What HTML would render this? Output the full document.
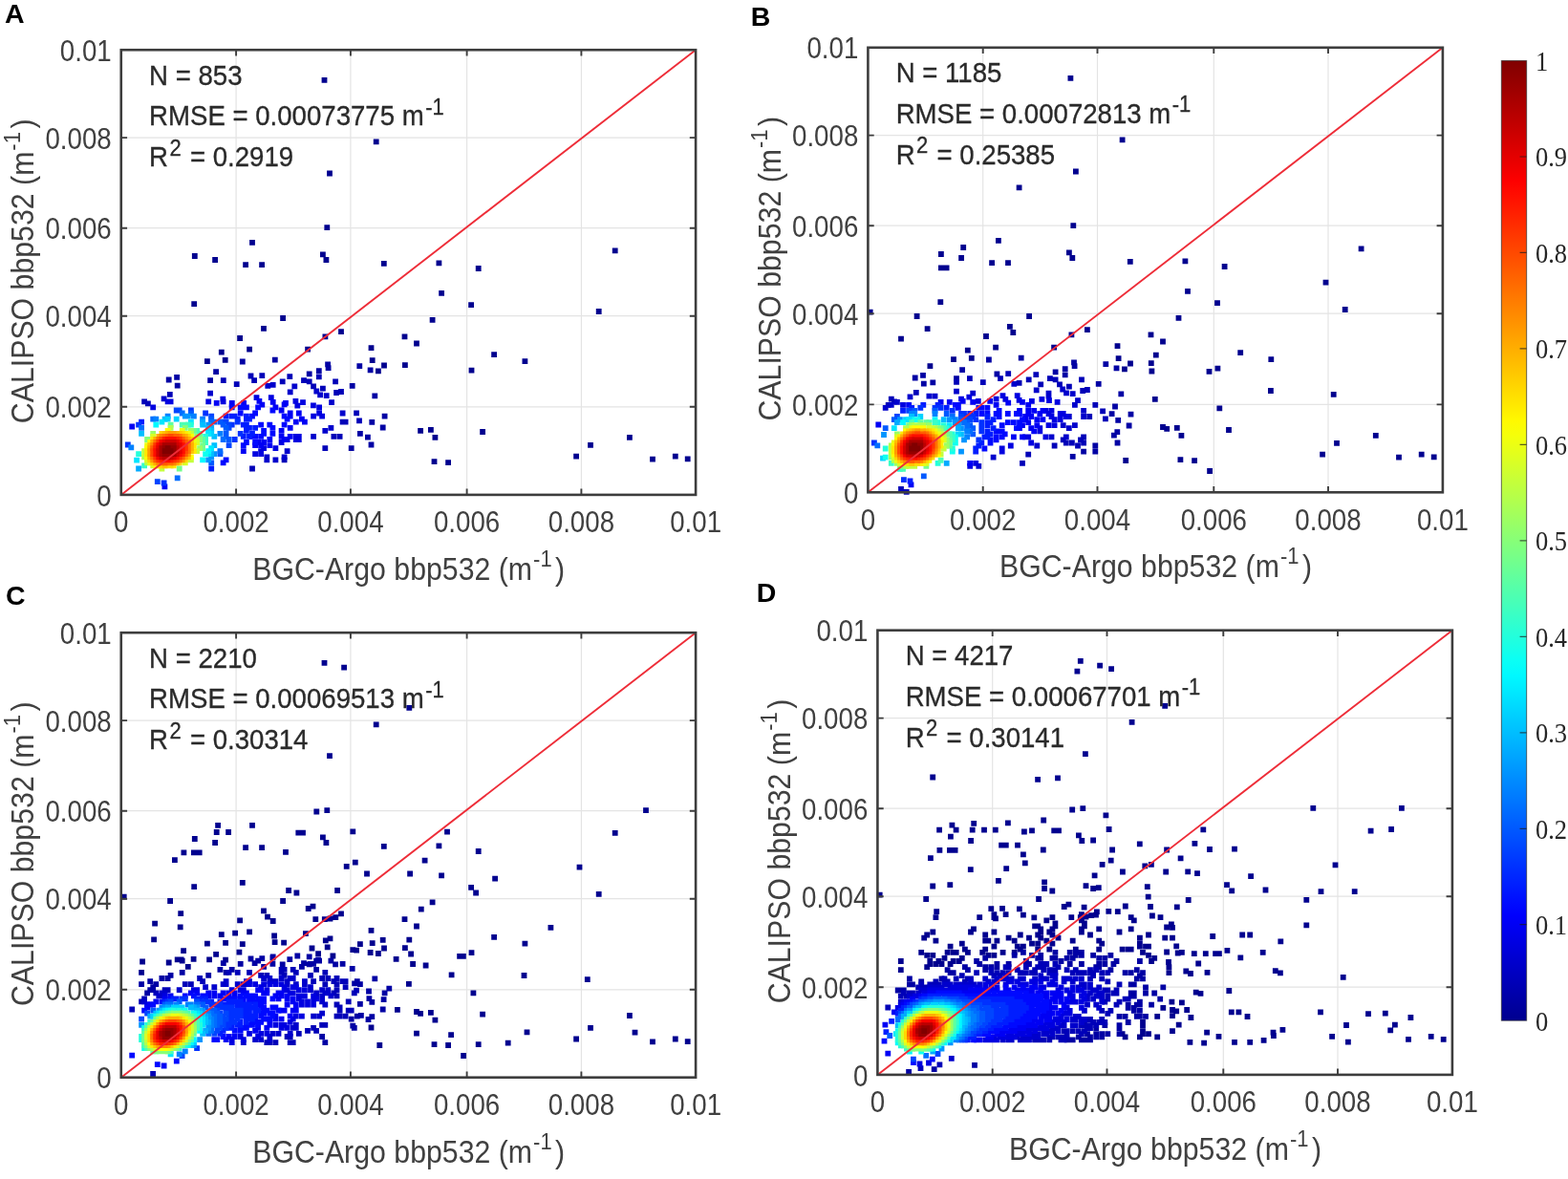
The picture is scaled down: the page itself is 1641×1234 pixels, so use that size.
<!DOCTYPE html>
<html lang="en">
<head>
<meta charset="utf-8">
<title>CALIPSO vs BGC-Argo bbp532</title>
<style>
html,body{margin:0;padding:0;background:#fff;}
body{width:1641px;height:1234px;overflow:hidden;}
svg{display:block;font-family:"Liberation Sans", sans-serif;filter:blur(0.55px);}
.pts path{shape-rendering:auto;}
</style>
</head>
<body>

<svg width="1641" height="1234" viewBox="0 0 1641 1234">
<rect width="1641" height="1234" fill="#fff"/>
<g id="panelA">
<path d="M247.1 52.2V517.9M126.8 425.8H728.1M366.9 52.2V517.9M126.8 330.7H728.1M488.6 52.2V517.9M126.8 238.7H728.1M608.4 52.2V517.9M126.8 144.1H728.1" stroke="#e4e4e4" stroke-width="1.2" fill="none"/>
<g class="pts">
<path d="M336.6 80.9h5.8v5.8h-5.8zM390.8 145.4h5.8v5.8h-5.8zM342.1 178.6h5.8v5.8h-5.8zM716.8 477.5h5.8v5.8h-5.8zM640.8 259.4h5.8v5.8h-5.8zM703.9 474.8h5.8v5.8h-5.8zM339.4 235.3h5.8v5.8h-5.8zM680.1 477.8h5.8v5.8h-5.8zM261.1 250.9h5.8v5.8h-5.8zM200.9 265.1h5.8v5.8h-5.8zM222.2 269.1h5.8v5.8h-5.8zM656.0 455.0h5.8v5.8h-5.8zM335.0 263.4h5.8v5.8h-5.8zM254.2 274.3h5.8v5.8h-5.8zM623.8 323.1h5.8v5.8h-5.8zM271.2 274.3h5.8v5.8h-5.8zM338.5 269.1h5.8v5.8h-5.8zM456.5 272.4h5.8v5.8h-5.8zM497.8 278.1h5.8v5.8h-5.8zM398.9 272.9h5.8v5.8h-5.8zM615.1 463.0h5.8v5.8h-5.8zM600.2 474.8h5.8v5.8h-5.8zM459.2 303.9h5.8v5.8h-5.8zM200.3 315.3h5.8v5.8h-5.8zM490.2 316.3h5.8v5.8h-5.8zM546.5 375.2h5.8v5.8h-5.8zM449.7 331.9h5.8v5.8h-5.8zM514.2 368.2h5.8v5.8h-5.8zM293.2 330.1h5.8v5.8h-5.8zM466.2 481.3h5.8v5.8h-5.8zM502.2 449.1h5.8v5.8h-5.8zM451.6 480.3h5.8v5.8h-5.8zM490.6 384.7h5.8v5.8h-5.8zM273.1 341.0h5.8v5.8h-5.8zM420.6 349.5h5.8v5.8h-5.8zM433.1 356.6h5.8v5.8h-5.8zM354.1 344.2h5.8v5.8h-5.8zM248.2 351.1h5.8v5.8h-5.8zM337.5 349.5h5.8v5.8h-5.8zM452.5 455.0h5.8v5.8h-5.8zM385.6 361.3h5.8v5.8h-5.8zM448.0 447.0h5.8v5.8h-5.8zM228.9 365.7h5.8v5.8h-5.8zM421.0 379.2h5.8v5.8h-5.8zM437.2 448.0h5.8v5.8h-5.8zM258.2 362.8h5.8v5.8h-5.8zM319.2 362.8h5.8v5.8h-5.8zM386.8 374.2h5.8v5.8h-5.8zM214.0 375.2h5.8v5.8h-5.8zM399.1 379.6h5.8v5.8h-5.8zM232.8 373.9h5.8v5.8h-5.8zM393.0 385.5h5.8v5.8h-5.8z" fill="#00008f"/>
<path d="M373.4 380.3h5.8v5.8h-5.8zM250.9 375.6h5.8v5.8h-5.8zM384.7 384.5h5.8v5.8h-5.8zM284.9 373.7h5.8v5.8h-5.8zM182.2 391.9h5.8v5.8h-5.8zM173.8 394.6h5.8v5.8h-5.8zM385.6 462.6h5.8v5.8h-5.8zM340.2 378.4h5.8v5.8h-5.8zM397.8 444.6h5.8v5.8h-5.8zM223.2 386.2h5.8v5.8h-5.8zM340.7 382.2h5.8v5.8h-5.8zM399.7 432.8h5.8v5.8h-5.8zM382.0 454.7h5.8v5.8h-5.8zM364.8 466.2h5.8v5.8h-5.8zM330.9 385.3h5.8v5.8h-5.8zM389.4 411.5h5.8v5.8h-5.8zM182.8 400.7h5.8v5.8h-5.8zM386.4 438.9h5.8v5.8h-5.8zM374.0 451.0h5.8v5.8h-5.8zM217.2 395.3h5.8v5.8h-5.8zM320.8 388.5h5.8v5.8h-5.8zM365.8 400.9h5.8v5.8h-5.8z" fill="#0000a4"/>
<path d="M330.9 391.4h5.8v5.8h-5.8zM259.6 390.6h5.8v5.8h-5.8zM348.2 396.5h5.8v5.8h-5.8zM230.9 395.3h5.8v5.8h-5.8zM271.4 390.2h5.8v5.8h-5.8zM300.4 391.2h5.8v5.8h-5.8zM148.2 417.4h5.8v5.8h-5.8zM373.1 437.4h5.8v5.8h-5.8zM337.4 466.2h5.8v5.8h-5.8zM370.2 429.4h5.8v5.8h-5.8zM315.1 395.2h5.8v5.8h-5.8zM354.1 407.1h5.8v5.8h-5.8zM320.8 396.5h5.8v5.8h-5.8zM352.7 454.0h5.8v5.8h-5.8zM263.2 395.3h5.8v5.8h-5.8zM174.9 410.0h5.8v5.8h-5.8zM261.1 487.6h5.8v5.8h-5.8zM349.2 408.1h5.8v5.8h-5.8zM244.8 399.3h5.8v5.8h-5.8zM292.8 396.5h5.8v5.8h-5.8zM346.5 454.0h5.8v5.8h-5.8zM335.0 403.7h5.8v5.8h-5.8zM294.7 478.4h5.8v5.8h-5.8zM358.7 438.8h5.8v5.8h-5.8zM325.2 401.4h5.8v5.8h-5.8zM152.0 419.5h5.8v5.8h-5.8zM355.7 438.8h5.8v5.8h-5.8z" fill="#0000b8"/>
<path d="M285.5 478.4h5.8v5.8h-5.8zM355.7 429.6h5.8v5.8h-5.8zM282.8 399.9h5.8v5.8h-5.8zM294.7 475.4h5.8v5.8h-5.8zM305.4 401.4h5.8v5.8h-5.8zM328.4 406.6h5.8v5.8h-5.8zM338.8 411.3h5.8v5.8h-5.8zM168.7 414.5h5.8v5.8h-5.8zM277.4 400.9h5.8v5.8h-5.8zM276.4 478.4h5.8v5.8h-5.8zM332.2 410.4h5.8v5.8h-5.8zM344.2 418.3h5.8v5.8h-5.8zM217.2 408.8h5.8v5.8h-5.8zM343.5 444.9h5.8v5.8h-5.8zM337.4 447.9h5.8v5.8h-5.8zM297.7 469.2h5.8v5.8h-5.8zM276.4 475.4h5.8v5.8h-5.8zM325.2 454.0h5.8v5.8h-5.8zM300.8 407.5h5.8v5.8h-5.8z" fill="#0000cc"/>
<path d="M331.2 423.5h5.8v5.8h-5.8zM334.2 432.7h5.8v5.8h-5.8zM172.7 417.4h5.8v5.8h-5.8zM331.2 429.6h5.8v5.8h-5.8zM270.2 472.3h5.8v5.8h-5.8zM325.0 421.4h5.8v5.8h-5.8zM309.9 457.1h5.8v5.8h-5.8zM175.7 417.4h5.8v5.8h-5.8zM230.4 414.7h5.8v5.8h-5.8zM285.5 466.2h5.8v5.8h-5.8zM306.9 457.1h5.8v5.8h-5.8zM264.2 472.3h5.8v5.8h-5.8zM314.1 418.3h5.8v5.8h-5.8zM157.3 423.5h5.8v5.8h-5.8zM309.9 454.0h5.8v5.8h-5.8zM325.2 432.7h5.8v5.8h-5.8zM306.5 417.0h5.8v5.8h-5.8zM270.2 469.2h5.8v5.8h-5.8zM265.6 413.2h5.8v5.8h-5.8zM280.9 413.2h5.8v5.8h-5.8zM306.9 454.0h5.8v5.8h-5.8zM215.3 417.4h5.8v5.8h-5.8zM291.7 460.1h5.8v5.8h-5.8zM230.7 417.4h5.8v5.8h-5.8zM297.7 457.1h5.8v5.8h-5.8zM273.2 466.2h5.8v5.8h-5.8zM308.4 421.8h5.8v5.8h-5.8z" fill="#0000e0"/>
<path d="M316.0 438.8h5.8v5.8h-5.8zM300.8 454.0h5.8v5.8h-5.8zM294.7 457.1h5.8v5.8h-5.8zM279.4 463.2h5.8v5.8h-5.8zM296.1 418.9h5.8v5.8h-5.8zM268.5 417.0h5.8v5.8h-5.8zM223.8 418.9h5.8v5.8h-5.8zM282.8 418.0h5.8v5.8h-5.8zM313.0 435.7h5.8v5.8h-5.8zM239.9 418.9h5.8v5.8h-5.8zM294.7 420.5h5.8v5.8h-5.8zM309.9 429.6h5.8v5.8h-5.8zM252.2 418.9h5.8v5.8h-5.8zM270.2 463.2h5.8v5.8h-5.8zM291.7 454.0h5.8v5.8h-5.8zM239.8 420.5h5.8v5.8h-5.8zM169.5 506.4h5.8v5.8h-5.8zM306.9 438.8h5.8v5.8h-5.8zM271.4 420.8h5.8v5.8h-5.8zM300.8 444.9h5.8v5.8h-5.8zM300.8 429.6h5.8v5.8h-5.8zM273.2 460.1h5.8v5.8h-5.8zM251.9 469.2h5.8v5.8h-5.8zM285.5 423.5h5.8v5.8h-5.8zM264.2 463.2h5.8v5.8h-5.8zM279.4 457.1h5.8v5.8h-5.8zM300.8 432.7h5.8v5.8h-5.8zM291.7 426.6h5.8v5.8h-5.8zM135.3 443.6h5.8v5.8h-5.8zM291.7 447.9h5.8v5.8h-5.8zM267.2 460.1h5.8v5.8h-5.8z" fill="#0000f4"/>
<path d="M297.7 435.7h5.8v5.8h-5.8zM267.2 423.5h5.8v5.8h-5.8zM248.8 423.5h5.8v5.8h-5.8zM255.0 423.5h5.8v5.8h-5.8zM251.9 423.5h5.8v5.8h-5.8zM239.8 423.5h5.8v5.8h-5.8zM294.7 432.7h5.8v5.8h-5.8zM282.5 426.6h5.8v5.8h-5.8zM294.7 441.8h5.8v5.8h-5.8zM264.2 460.1h5.8v5.8h-5.8zM282.5 451.0h5.8v5.8h-5.8zM230.7 481.5h5.8v5.8h-5.8zM270.2 454.0h5.8v5.8h-5.8zM282.5 444.9h5.8v5.8h-5.8zM273.2 451.0h5.8v5.8h-5.8zM233.7 478.4h5.8v5.8h-5.8zM264.2 429.6h5.8v5.8h-5.8zM251.9 463.2h5.8v5.8h-5.8zM279.4 441.8h5.8v5.8h-5.8zM273.2 447.9h5.8v5.8h-5.8zM255.0 460.1h5.8v5.8h-5.8zM264.2 454.0h5.8v5.8h-5.8zM248.8 429.6h5.8v5.8h-5.8zM261.1 454.0h5.8v5.8h-5.8zM261.1 432.7h5.8v5.8h-5.8zM270.2 441.8h5.8v5.8h-5.8z" fill="#0009ff"/>
<path d="M255.0 432.7h5.8v5.8h-5.8zM258.1 454.0h5.8v5.8h-5.8zM261.1 451.0h5.8v5.8h-5.8zM264.2 444.9h5.8v5.8h-5.8zM258.1 435.7h5.8v5.8h-5.8zM255.0 435.7h5.8v5.8h-5.8zM218.3 487.6h5.8v5.8h-5.8zM242.8 432.7h5.8v5.8h-5.8zM258.1 444.9h5.8v5.8h-5.8zM239.8 432.7h5.8v5.8h-5.8zM251.9 454.0h5.8v5.8h-5.8zM255.0 441.8h5.8v5.8h-5.8zM255.0 447.9h5.8v5.8h-5.8zM245.8 435.7h5.8v5.8h-5.8zM255.0 444.9h5.8v5.8h-5.8zM251.9 441.8h5.8v5.8h-5.8zM145.2 438.8h5.8v5.8h-5.8zM233.7 432.7h5.8v5.8h-5.8z" fill="#001dff"/>
<path d="M142.2 441.8h5.8v5.8h-5.8zM245.8 438.8h5.8v5.8h-5.8zM248.8 451.0h5.8v5.8h-5.8zM168.7 502.6h5.8v5.8h-5.8zM242.8 457.1h5.8v5.8h-5.8zM197.0 426.6h5.8v5.8h-5.8zM212.2 429.6h5.8v5.8h-5.8zM239.8 441.8h5.8v5.8h-5.8zM130.9 462.6h5.8v5.8h-5.8z" fill="#0031ff"/>
<path d="M181.8 426.6h5.8v5.8h-5.8zM184.8 426.6h5.8v5.8h-5.8zM233.7 438.8h5.8v5.8h-5.8zM236.7 463.2h5.8v5.8h-5.8zM236.7 441.8h5.8v5.8h-5.8zM161.9 501.2h5.8v5.8h-5.8zM218.3 432.7h5.8v5.8h-5.8zM230.7 438.8h5.8v5.8h-5.8zM236.7 444.9h5.8v5.8h-5.8z" fill="#0045ff"/>
<path d="M236.7 457.1h5.8v5.8h-5.8zM227.5 438.8h5.8v5.8h-5.8zM233.7 444.9h5.8v5.8h-5.8zM230.7 441.8h5.8v5.8h-5.8zM227.5 472.3h5.8v5.8h-5.8zM218.3 481.5h5.8v5.8h-5.8zM218.3 435.7h5.8v5.8h-5.8zM197.0 429.6h5.8v5.8h-5.8zM233.7 451.0h5.8v5.8h-5.8zM233.7 454.0h5.8v5.8h-5.8z" fill="#0059ff"/>
<path d="M157.3 435.7h5.8v5.8h-5.8zM221.4 438.8h5.8v5.8h-5.8zM187.8 429.6h5.8v5.8h-5.8zM145.2 444.9h5.8v5.8h-5.8zM227.5 469.2h5.8v5.8h-5.8zM182.8 497.4h5.8v5.8h-5.8zM218.3 438.8h5.8v5.8h-5.8zM230.7 457.1h5.8v5.8h-5.8z" fill="#006dff"/>
<path d="M134.4 465.5h5.8v5.8h-5.8zM200.0 432.7h5.8v5.8h-5.8zM160.4 435.7h5.8v5.8h-5.8zM209.2 435.7h5.8v5.8h-5.8zM227.5 451.0h5.8v5.8h-5.8zM172.7 432.7h5.8v5.8h-5.8z" fill="#0081ff"/>
<path d="M193.9 432.7h5.8v5.8h-5.8zM221.4 472.3h5.8v5.8h-5.8zM190.9 432.7h5.8v5.8h-5.8zM218.3 475.4h5.8v5.8h-5.8zM215.3 478.4h5.8v5.8h-5.8zM215.3 441.8h5.8v5.8h-5.8z" fill="#0095ff"/>
<path d="M209.2 438.8h5.8v5.8h-5.8zM142.2 487.6h5.8v5.8h-5.8zM218.3 444.9h5.8v5.8h-5.8z" fill="#00aaff"/>
<path d="M145.2 451.0h5.8v5.8h-5.8zM218.3 472.3h5.8v5.8h-5.8zM169.7 435.7h5.8v5.8h-5.8zM215.3 444.9h5.8v5.8h-5.8zM218.3 447.9h5.8v5.8h-5.8zM221.4 454.0h5.8v5.8h-5.8zM221.4 463.2h5.8v5.8h-5.8zM209.2 441.8h5.8v5.8h-5.8z" fill="#00beff"/>
<path d="M172.7 435.7h5.8v5.8h-5.8zM218.3 451.0h5.8v5.8h-5.8zM215.3 447.9h5.8v5.8h-5.8zM181.8 435.7h5.8v5.8h-5.8z" fill="#00d2ff"/>
<path d="M218.3 466.2h5.8v5.8h-5.8zM215.3 472.3h5.8v5.8h-5.8zM140.2 478.8h5.8v5.8h-5.8zM197.0 438.8h5.8v5.8h-5.8zM166.5 438.8h5.8v5.8h-5.8zM215.3 451.0h5.8v5.8h-5.8z" fill="#00e6ff"/>
<path d="M209.2 478.4h5.8v5.8h-5.8zM160.4 441.8h5.8v5.8h-5.8zM215.3 469.2h5.8v5.8h-5.8z" fill="#00faff"/>
<path d="M212.2 472.3h5.8v5.8h-5.8z" fill="#0ffff0"/>
<path d="M197.0 441.8h5.8v5.8h-5.8zM212.2 454.0h5.8v5.8h-5.8zM142.2 472.3h5.8v5.8h-5.8z" fill="#23ffdc"/>
<path d="M193.9 441.8h5.8v5.8h-5.8zM212.2 457.1h5.8v5.8h-5.8zM148.2 484.5h5.8v5.8h-5.8zM212.2 460.1h5.8v5.8h-5.8z" fill="#37ffc8"/>
<path d="M190.9 441.8h5.8v5.8h-5.8zM203.2 447.9h5.8v5.8h-5.8zM187.8 441.8h5.8v5.8h-5.8zM206.2 451.0h5.8v5.8h-5.8z" fill="#4bffb4"/>
<path d="M209.2 457.1h5.8v5.8h-5.8zM175.7 441.8h5.8v5.8h-5.8z" fill="#5fffa0"/>
<path d="M209.2 466.2h5.8v5.8h-5.8zM184.8 487.6h5.8v5.8h-5.8zM209.2 463.2h5.8v5.8h-5.8zM200.0 447.9h5.8v5.8h-5.8zM206.2 454.0h5.8v5.8h-5.8z" fill="#73ff8c"/>
<path d="M190.9 444.9h5.8v5.8h-5.8zM206.2 457.1h5.8v5.8h-5.8zM151.2 457.1h5.8v5.8h-5.8z" fill="#87ff78"/>
<path d="M197.0 447.9h5.8v5.8h-5.8zM157.3 451.0h5.8v5.8h-5.8zM203.2 454.0h5.8v5.8h-5.8zM206.2 466.2h5.8v5.8h-5.8z" fill="#9cff63"/>
<path d="M151.2 481.5h5.8v5.8h-5.8zM175.7 444.9h5.8v5.8h-5.8zM148.2 475.4h5.8v5.8h-5.8z" fill="#b0ff4f"/>
<path d="M197.0 478.4h5.8v5.8h-5.8zM203.2 457.1h5.8v5.8h-5.8zM148.2 469.2h5.8v5.8h-5.8zM166.5 487.6h5.8v5.8h-5.8zM148.2 472.3h5.8v5.8h-5.8zM197.0 451.0h5.8v5.8h-5.8zM203.2 469.2h5.8v5.8h-5.8z" fill="#c4ff3b"/>
<path d="M203.2 460.1h5.8v5.8h-5.8zM157.3 484.5h5.8v5.8h-5.8zM190.9 481.5h5.8v5.8h-5.8zM157.3 454.0h5.8v5.8h-5.8zM151.2 478.4h5.8v5.8h-5.8z" fill="#d8ff27"/>
<path d="M187.8 447.9h5.8v5.8h-5.8zM151.2 463.2h5.8v5.8h-5.8zM154.3 481.5h5.8v5.8h-5.8zM193.9 451.0h5.8v5.8h-5.8zM200.0 457.1h5.8v5.8h-5.8z" fill="#ecff13"/>
<path d="M197.0 454.0h5.8v5.8h-5.8zM197.0 475.4h5.8v5.8h-5.8zM160.4 484.5h5.8v5.8h-5.8zM172.7 447.9h5.8v5.8h-5.8zM151.2 466.2h5.8v5.8h-5.8zM151.2 475.4h5.8v5.8h-5.8zM154.3 460.1h5.8v5.8h-5.8z" fill="#fffe00"/>
<path d="M200.0 469.2h5.8v5.8h-5.8zM178.8 484.5h5.8v5.8h-5.8zM190.9 451.0h5.8v5.8h-5.8zM151.2 469.2h5.8v5.8h-5.8zM200.0 463.2h5.8v5.8h-5.8zM151.2 472.3h5.8v5.8h-5.8zM157.3 457.1h5.8v5.8h-5.8zM163.4 484.5h5.8v5.8h-5.8z" fill="#ffea00"/>
<path d="M197.0 457.1h5.8v5.8h-5.8zM175.7 484.5h5.8v5.8h-5.8zM193.9 454.0h5.8v5.8h-5.8zM157.3 481.5h5.8v5.8h-5.8zM166.5 451.0h5.8v5.8h-5.8zM154.3 478.4h5.8v5.8h-5.8zM190.9 478.4h5.8v5.8h-5.8zM187.8 451.0h5.8v5.8h-5.8zM166.5 484.5h5.8v5.8h-5.8zM172.7 484.5h5.8v5.8h-5.8zM184.8 481.5h5.8v5.8h-5.8z" fill="#ffd600"/>
<path d="M169.7 484.5h5.8v5.8h-5.8zM154.3 463.2h5.8v5.8h-5.8zM193.9 475.4h5.8v5.8h-5.8zM197.0 460.1h5.8v5.8h-5.8zM184.8 451.0h5.8v5.8h-5.8zM169.7 451.0h5.8v5.8h-5.8zM197.0 469.2h5.8v5.8h-5.8z" fill="#ffc200"/>
<path d="M190.9 454.0h5.8v5.8h-5.8zM163.4 454.0h5.8v5.8h-5.8zM197.0 463.2h5.8v5.8h-5.8zM193.9 457.1h5.8v5.8h-5.8zM154.3 475.4h5.8v5.8h-5.8zM197.0 466.2h5.8v5.8h-5.8zM160.4 481.5h5.8v5.8h-5.8zM157.3 460.1h5.8v5.8h-5.8zM181.8 451.0h5.8v5.8h-5.8zM154.3 466.2h5.8v5.8h-5.8zM181.8 481.5h5.8v5.8h-5.8zM172.7 451.0h5.8v5.8h-5.8zM160.4 457.1h5.8v5.8h-5.8z" fill="#ffae00"/>
<path d="M187.8 478.4h5.8v5.8h-5.8zM178.8 451.0h5.8v5.8h-5.8zM175.7 451.0h5.8v5.8h-5.8zM154.3 469.2h5.8v5.8h-5.8zM157.3 478.4h5.8v5.8h-5.8zM193.9 472.3h5.8v5.8h-5.8zM154.3 472.3h5.8v5.8h-5.8zM187.8 454.0h5.8v5.8h-5.8zM190.9 475.4h5.8v5.8h-5.8z" fill="#ff9a00"/>
<path d="M193.9 460.1h5.8v5.8h-5.8zM178.8 481.5h5.8v5.8h-5.8zM166.5 454.0h5.8v5.8h-5.8zM163.4 481.5h5.8v5.8h-5.8zM190.9 457.1h5.8v5.8h-5.8zM157.3 463.2h5.8v5.8h-5.8z" fill="#ff8600"/>
<path d="M193.9 469.2h5.8v5.8h-5.8zM193.9 463.2h5.8v5.8h-5.8zM184.8 454.0h5.8v5.8h-5.8zM184.8 478.4h5.8v5.8h-5.8zM175.7 481.5h5.8v5.8h-5.8zM193.9 466.2h5.8v5.8h-5.8zM166.5 481.5h5.8v5.8h-5.8zM163.4 457.1h5.8v5.8h-5.8zM169.7 454.0h5.8v5.8h-5.8zM160.4 460.1h5.8v5.8h-5.8zM157.3 475.4h5.8v5.8h-5.8zM172.7 481.5h5.8v5.8h-5.8z" fill="#ff7100"/>
<path d="M169.7 481.5h5.8v5.8h-5.8zM160.4 478.4h5.8v5.8h-5.8zM181.8 454.0h5.8v5.8h-5.8zM190.9 472.3h5.8v5.8h-5.8zM157.3 466.2h5.8v5.8h-5.8zM187.8 475.4h5.8v5.8h-5.8zM190.9 460.1h5.8v5.8h-5.8zM187.8 457.1h5.8v5.8h-5.8zM172.7 454.0h5.8v5.8h-5.8zM178.8 454.0h5.8v5.8h-5.8z" fill="#ff5d00"/>
<path d="M175.7 454.0h5.8v5.8h-5.8zM181.8 478.4h5.8v5.8h-5.8zM157.3 472.3h5.8v5.8h-5.8zM157.3 469.2h5.8v5.8h-5.8zM190.9 463.2h5.8v5.8h-5.8zM190.9 469.2h5.8v5.8h-5.8zM166.5 457.1h5.8v5.8h-5.8z" fill="#ff4900"/>
<path d="M184.8 457.1h5.8v5.8h-5.8zM190.9 466.2h5.8v5.8h-5.8zM160.4 463.2h5.8v5.8h-5.8zM163.4 478.4h5.8v5.8h-5.8zM187.8 460.1h5.8v5.8h-5.8zM178.8 478.4h5.8v5.8h-5.8zM163.4 460.1h5.8v5.8h-5.8zM184.8 475.4h5.8v5.8h-5.8zM160.4 475.4h5.8v5.8h-5.8z" fill="#ff3500"/>
<path d="M187.8 472.3h5.8v5.8h-5.8zM181.8 457.1h5.8v5.8h-5.8zM169.7 457.1h5.8v5.8h-5.8zM166.5 478.4h5.8v5.8h-5.8zM175.7 478.4h5.8v5.8h-5.8zM160.4 466.2h5.8v5.8h-5.8z" fill="#ff2100"/>
<path d="M187.8 463.2h5.8v5.8h-5.8zM178.8 457.1h5.8v5.8h-5.8zM172.7 457.1h5.8v5.8h-5.8zM187.8 469.2h5.8v5.8h-5.8zM172.7 478.4h5.8v5.8h-5.8zM160.4 472.3h5.8v5.8h-5.8zM169.7 478.4h5.8v5.8h-5.8zM184.8 460.1h5.8v5.8h-5.8zM175.7 457.1h5.8v5.8h-5.8zM187.8 466.2h5.8v5.8h-5.8zM160.4 469.2h5.8v5.8h-5.8zM181.8 475.4h5.8v5.8h-5.8z" fill="#ff0d00"/>
<path d="M166.5 460.1h5.8v5.8h-5.8zM163.4 463.2h5.8v5.8h-5.8zM163.4 475.4h5.8v5.8h-5.8zM184.8 472.3h5.8v5.8h-5.8z" fill="#f80000"/>
<path d="M181.8 460.1h5.8v5.8h-5.8zM184.8 463.2h5.8v5.8h-5.8zM178.8 475.4h5.8v5.8h-5.8zM169.7 460.1h5.8v5.8h-5.8zM184.8 469.2h5.8v5.8h-5.8zM163.4 466.2h5.8v5.8h-5.8zM184.8 466.2h5.8v5.8h-5.8z" fill="#e40000"/>
<path d="M178.8 460.1h5.8v5.8h-5.8zM166.5 475.4h5.8v5.8h-5.8zM163.4 472.3h5.8v5.8h-5.8zM181.8 472.3h5.8v5.8h-5.8zM172.7 460.1h5.8v5.8h-5.8zM166.5 463.2h5.8v5.8h-5.8zM175.7 460.1h5.8v5.8h-5.8zM175.7 475.4h5.8v5.8h-5.8zM163.4 469.2h5.8v5.8h-5.8zM181.8 463.2h5.8v5.8h-5.8z" fill="#d00000"/>
<path d="M169.7 475.4h5.8v5.8h-5.8zM172.7 475.4h5.8v5.8h-5.8zM181.8 469.2h5.8v5.8h-5.8zM181.8 466.2h5.8v5.8h-5.8z" fill="#bc0000"/>
<path d="M178.8 472.3h5.8v5.8h-5.8zM178.8 463.2h5.8v5.8h-5.8zM169.7 463.2h5.8v5.8h-5.8zM166.5 466.2h5.8v5.8h-5.8zM166.5 472.3h5.8v5.8h-5.8zM175.7 463.2h5.8v5.8h-5.8zM166.5 469.2h5.8v5.8h-5.8zM172.7 463.2h5.8v5.8h-5.8z" fill="#a80000"/>
<path d="M175.7 472.3h5.8v5.8h-5.8zM178.8 466.2h5.8v5.8h-5.8zM178.8 469.2h5.8v5.8h-5.8zM169.7 472.3h5.8v5.8h-5.8zM172.7 472.3h5.8v5.8h-5.8zM169.7 466.2h5.8v5.8h-5.8zM175.7 466.2h5.8v5.8h-5.8z" fill="#940000"/>
<path d="M169.7 469.2h5.8v5.8h-5.8zM172.7 466.2h5.8v5.8h-5.8zM175.7 469.2h5.8v5.8h-5.8zM172.7 469.2h5.8v5.8h-5.8z" fill="#800000"/>
</g>
<line x1="126.8" y1="517.9" x2="728.1" y2="52.2" stroke="#ee2d38" stroke-width="1.9"/>
<path d="M247.1 517.9v-6.3M247.1 52.2v6.3M126.8 425.8h6.3M728.1 425.8h-6.3M366.9 517.9v-6.3M366.9 52.2v6.3M126.8 330.7h6.3M728.1 330.7h-6.3M488.6 517.9v-6.3M488.6 52.2v6.3M126.8 238.7h6.3M728.1 238.7h-6.3M608.4 517.9v-6.3M608.4 52.2v6.3M126.8 144.1h6.3M728.1 144.1h-6.3" stroke="#3d3d3d" stroke-width="1.9" fill="none"/>
<rect x="126.75" y="52.25" width="601.35" height="465.65" stroke="#3d3d3d" stroke-width="2.6" fill="none"/>
<g fill="#404040">
<text transform="translate(126.8 557.2) scale(1 1.12)" font-size="27.7" text-anchor="middle">0</text>
<text transform="translate(116.7 529.5) scale(1 1.12)" font-size="27.7" text-anchor="end">0</text>
<text transform="translate(247.1 557.2) scale(1 1.12)" font-size="27.7" text-anchor="middle">0.002</text>
<text transform="translate(116.7 437.4) scale(1 1.12)" font-size="27.7" text-anchor="end">0.002</text>
<text transform="translate(366.9 557.2) scale(1 1.12)" font-size="27.7" text-anchor="middle">0.004</text>
<text transform="translate(116.7 342.3) scale(1 1.12)" font-size="27.7" text-anchor="end">0.004</text>
<text transform="translate(488.6 557.2) scale(1 1.12)" font-size="27.7" text-anchor="middle">0.006</text>
<text transform="translate(116.7 250.3) scale(1 1.12)" font-size="27.7" text-anchor="end">0.006</text>
<text transform="translate(608.4 557.2) scale(1 1.12)" font-size="27.7" text-anchor="middle">0.008</text>
<text transform="translate(116.7 155.7) scale(1 1.12)" font-size="27.7" text-anchor="end">0.008</text>
<text transform="translate(728.1 557.2) scale(1 1.12)" font-size="27.7" text-anchor="middle">0.01</text>
<text transform="translate(116.7 63.9) scale(1 1.12)" font-size="27.7" text-anchor="end">0.01</text>
<text transform="translate(427.7 606.8) scale(1 1.12)" font-size="30.3" text-anchor="middle">BGC-Argo bbp532 (m<tspan dy="-12.5" dx="1" font-size="22">-1</tspan><tspan dy="12.5" dx="3.5">)</tspan></text>
<text transform="translate(35.2 283.8) rotate(-90) scale(1 1.12)" font-size="30.3" text-anchor="middle">CALIPSO bbp532 (m<tspan dy="-12.5" dx="1" font-size="22">-1</tspan><tspan dy="12.5" dx="3.5">)</tspan></text>
</g>
<g fill="#2a2a2a" stroke="#2a2a2a" stroke-width="0.3">
<text transform="translate(156.1 88.5) scale(1 1.1)" font-size="27.6">N = 853</text>
<text transform="translate(156.1 131.3) scale(1 1.1)" font-size="27.6">RMSE = 0.00073775 m<tspan dy="-10.5" dx="1.5" font-size="22">-1</tspan></text>
<text transform="translate(156.1 174.3) scale(1 1.1)" font-size="27.6">R<tspan dy="-10.5" dx="1.5" font-size="22">2</tspan><tspan dy="10.5" dx="1.5"> = 0.2919</tspan></text>
</g>
<text transform="translate(5.0 24.3)" font-size="28.5" fill="#000" font-weight="bold">A</text>
</g>
<g id="panelB">
<path d="M1028.7 49.8V515.3M908.4 423.4H1509.9M1148.5 49.8V515.3M908.4 328.2H1509.9M1270.3 49.8V515.3M908.4 236.2H1509.9M1390.0 49.8V515.3M908.4 141.6H1509.9" stroke="#e4e4e4" stroke-width="1.2" fill="none"/>
<g class="pts">
<path d="M1117.5 78.9h5.8v5.8h-5.8zM1171.7 143.4h5.8v5.8h-5.8zM1123.0 176.6h5.8v5.8h-5.8zM1063.7 193.4h5.8v5.8h-5.8zM1497.8 475.5h5.8v5.8h-5.8zM1421.7 257.4h5.8v5.8h-5.8zM1484.8 472.8h5.8v5.8h-5.8zM1120.4 233.3h5.8v5.8h-5.8zM1461.1 475.8h5.8v5.8h-5.8zM1042.0 248.9h5.8v5.8h-5.8zM1005.3 256.1h5.8v5.8h-5.8zM982.0 263.1h5.8v5.8h-5.8zM1003.2 267.1h5.8v5.8h-5.8zM1436.9 453.0h5.8v5.8h-5.8zM1384.6 292.8h5.8v5.8h-5.8zM1116.0 261.4h5.8v5.8h-5.8zM982.0 277.4h5.8v5.8h-5.8zM987.7 277.4h5.8v5.8h-5.8zM1035.2 272.3h5.8v5.8h-5.8zM1404.8 321.1h5.8v5.8h-5.8zM1052.1 272.3h5.8v5.8h-5.8zM1119.4 267.1h5.8v5.8h-5.8zM1237.5 270.4h5.8v5.8h-5.8zM1278.7 276.1h5.8v5.8h-5.8zM1179.9 270.9h5.8v5.8h-5.8zM1396.1 461.0h5.8v5.8h-5.8zM1381.2 472.8h5.8v5.8h-5.8zM1392.8 409.9h5.8v5.8h-5.8zM907.8 323.8h5.8v5.8h-5.8zM1240.1 301.9h5.8v5.8h-5.8zM981.4 313.3h5.8v5.8h-5.8zM1271.1 314.3h5.8v5.8h-5.8zM956.7 328.1h5.8v5.8h-5.8zM1327.4 373.2h5.8v5.8h-5.8zM1263.2 490.1h5.8v5.8h-5.8zM1327.0 406.1h5.8v5.8h-5.8zM1230.6 329.9h5.8v5.8h-5.8zM1295.3 366.2h5.8v5.8h-5.8zM967.7 341.3h5.8v5.8h-5.8zM1247.2 479.3h5.8v5.8h-5.8zM1074.2 328.1h5.8v5.8h-5.8zM940.1 351.7h5.8v5.8h-5.8zM1283.1 447.1h5.8v5.8h-5.8zM1232.5 478.3h5.8v5.8h-5.8zM1271.5 382.7h5.8v5.8h-5.8zM1054.0 339.0h5.8v5.8h-5.8zM1201.6 347.5h5.8v5.8h-5.8zM1273.4 424.5h5.8v5.8h-5.8zM1214.1 354.6h5.8v5.8h-5.8zM1262.6 385.9h5.8v5.8h-5.8zM1135.0 342.2h5.8v5.8h-5.8zM1057.4 345.1h5.8v5.8h-5.8zM1029.1 349.1h5.8v5.8h-5.8zM1233.5 453.0h5.8v5.8h-5.8zM1118.5 347.5h5.8v5.8h-5.8zM1206.9 368.8h5.8v5.8h-5.8zM1228.9 445.0h5.8v5.8h-5.8zM1166.6 359.3h5.8v5.8h-5.8zM1009.9 363.7h5.8v5.8h-5.8zM1175.3 479.1h5.8v5.8h-5.8zM1218.3 446.0h5.8v5.8h-5.8zM1201.9 377.2h5.8v5.8h-5.8zM1039.2 360.8h5.8v5.8h-5.8zM1214.1 444.1h5.8v5.8h-5.8zM1100.2 360.8h5.8v5.8h-5.8zM1202.5 385.6h5.8v5.8h-5.8zM1167.7 372.2h5.8v5.8h-5.8zM995.1 373.2h5.8v5.8h-5.8zM1180.1 377.6h5.8v5.8h-5.8zM970.5 380.2h5.8v5.8h-5.8zM1013.9 371.9h5.8v5.8h-5.8zM1205.9 415.0h5.8v5.8h-5.8zM1174.0 383.5h5.8v5.8h-5.8z" fill="#00008f"/>
<path d="M1154.4 378.3h5.8v5.8h-5.8zM1032.0 373.6h5.8v5.8h-5.8zM1165.6 382.5h5.8v5.8h-5.8zM1065.8 371.7h5.8v5.8h-5.8zM963.1 389.9h5.8v5.8h-5.8zM954.8 392.6h5.8v5.8h-5.8zM1166.6 460.6h5.8v5.8h-5.8zM1121.1 376.4h5.8v5.8h-5.8zM1178.7 442.6h5.8v5.8h-5.8zM1143.4 469.7h5.8v5.8h-5.8zM1004.2 384.2h5.8v5.8h-5.8zM1121.7 380.2h5.8v5.8h-5.8zM1180.6 430.8h5.8v5.8h-5.8zM1163.0 452.7h5.8v5.8h-5.8zM1166.4 449.2h5.8v5.8h-5.8zM1143.4 463.6h5.8v5.8h-5.8zM1131.2 469.7h5.8v5.8h-5.8zM1119.8 474.9h5.8v5.8h-5.8zM1111.8 383.3h5.8v5.8h-5.8zM1170.4 409.5h5.8v5.8h-5.8zM963.9 398.7h5.8v5.8h-5.8zM1167.3 436.9h5.8v5.8h-5.8zM973.4 397.5h5.8v5.8h-5.8zM998.1 393.3h5.8v5.8h-5.8zM1146.8 398.9h5.8v5.8h-5.8zM1101.7 386.5h5.8v5.8h-5.8zM1164.1 422.6h5.8v5.8h-5.8zM1111.8 389.4h5.8v5.8h-5.8zM1160.7 430.2h5.8v5.8h-5.8zM1040.5 388.6h5.8v5.8h-5.8z" fill="#0000a4"/>
<path d="M1129.1 394.5h5.8v5.8h-5.8zM1012.0 393.3h5.8v5.8h-5.8zM1131.2 460.6h5.8v5.8h-5.8zM1052.3 388.2h5.8v5.8h-5.8zM1125.1 463.6h5.8v5.8h-5.8zM998.1 397.0h5.8v5.8h-5.8zM1154.0 435.4h5.8v5.8h-5.8zM1081.4 389.2h5.8v5.8h-5.8zM929.9 414.8h5.8v5.8h-5.8zM945.8 512.0h5.8v5.8h-5.8zM1128.1 457.5h5.8v5.8h-5.8zM1067.1 481.9h5.8v5.8h-5.8zM1151.2 427.4h5.8v5.8h-5.8zM1131.2 454.5h5.8v5.8h-5.8zM1096.0 393.2h5.8v5.8h-5.8zM1135.0 405.1h5.8v5.8h-5.8zM1101.7 394.5h5.8v5.8h-5.8zM1044.1 393.3h5.8v5.8h-5.8zM1119.0 460.6h5.8v5.8h-5.8zM1130.3 406.1h5.8v5.8h-5.8zM1025.9 397.3h5.8v5.8h-5.8zM1143.4 420.9h5.8v5.8h-5.8zM955.9 408.0h5.8v5.8h-5.8zM1073.8 394.5h5.8v5.8h-5.8zM1112.9 460.6h5.8v5.8h-5.8zM1116.0 401.7h5.8v5.8h-5.8zM1106.1 399.4h5.8v5.8h-5.8zM926.8 420.9h5.8v5.8h-5.8zM1137.3 433.1h5.8v5.8h-5.8zM933.1 417.5h5.8v5.8h-5.8zM1100.7 463.6h5.8v5.8h-5.8zM940.1 509.1h5.8v5.8h-5.8zM1063.7 397.9h5.8v5.8h-5.8zM1109.8 457.5h5.8v5.8h-5.8zM1073.3 472.8h5.8v5.8h-5.8zM1086.3 399.4h5.8v5.8h-5.8z" fill="#0000b8"/>
<path d="M923.8 424.0h5.8v5.8h-5.8zM1109.3 404.6h5.8v5.8h-5.8zM1119.8 409.3h5.8v5.8h-5.8zM1058.4 398.9h5.8v5.8h-5.8zM1112.9 454.5h5.8v5.8h-5.8zM1131.2 433.1h5.8v5.8h-5.8zM1131.2 427.0h5.8v5.8h-5.8zM949.6 412.5h5.8v5.8h-5.8zM1125.1 416.3h5.8v5.8h-5.8zM1113.1 408.4h5.8v5.8h-5.8zM929.9 420.9h5.8v5.8h-5.8zM936.0 417.9h5.8v5.8h-5.8zM998.1 406.8h5.8v5.8h-5.8zM1122.0 442.3h5.8v5.8h-5.8zM1021.4 485.0h5.8v5.8h-5.8zM1122.0 420.9h5.8v5.8h-5.8zM1115.9 445.3h5.8v5.8h-5.8zM1082.4 463.6h5.8v5.8h-5.8zM1081.8 405.5h5.8v5.8h-5.8zM1094.6 408.7h5.8v5.8h-5.8zM1015.3 408.7h5.8v5.8h-5.8zM1097.6 454.5h5.8v5.8h-5.8zM1036.7 475.8h5.8v5.8h-5.8zM969.5 411.8h5.8v5.8h-5.8zM1115.9 433.1h5.8v5.8h-5.8zM1109.8 442.3h5.8v5.8h-5.8zM975.6 411.8h5.8v5.8h-5.8zM1094.6 411.8h5.8v5.8h-5.8z" fill="#0000cc"/>
<path d="M1112.9 433.1h5.8v5.8h-5.8zM1091.5 454.5h5.8v5.8h-5.8zM1103.7 417.9h5.8v5.8h-5.8zM1076.3 460.6h5.8v5.8h-5.8zM1109.8 430.1h5.8v5.8h-5.8zM1045.8 469.7h5.8v5.8h-5.8zM1106.8 436.2h5.8v5.8h-5.8zM1095.1 416.3h5.8v5.8h-5.8zM1011.4 412.7h5.8v5.8h-5.8zM1018.3 481.9h5.8v5.8h-5.8zM1106.8 433.1h5.8v5.8h-5.8zM1106.8 430.1h5.8v5.8h-5.8zM1100.7 442.3h5.8v5.8h-5.8zM1087.5 415.0h5.8v5.8h-5.8zM1012.3 485.0h5.8v5.8h-5.8zM1061.8 411.2h5.8v5.8h-5.8zM1046.6 411.2h5.8v5.8h-5.8zM1100.7 436.2h5.8v5.8h-5.8zM1003.1 414.8h5.8v5.8h-5.8zM1045.8 466.6h5.8v5.8h-5.8zM1054.9 463.6h5.8v5.8h-5.8zM1097.6 427.0h5.8v5.8h-5.8zM1094.6 442.3h5.8v5.8h-5.8zM1097.6 433.1h5.8v5.8h-5.8zM1085.4 448.4h5.8v5.8h-5.8zM1077.0 416.9h5.8v5.8h-5.8zM1039.7 414.8h5.8v5.8h-5.8zM1073.3 454.5h5.8v5.8h-5.8zM1094.6 430.1h5.8v5.8h-5.8zM1049.4 415.0h5.8v5.8h-5.8zM942.1 420.9h5.8v5.8h-5.8zM1063.7 416.0h5.8v5.8h-5.8zM1091.5 427.0h5.8v5.8h-5.8zM1085.4 445.3h5.8v5.8h-5.8zM1070.2 454.5h5.8v5.8h-5.8zM1020.9 416.9h5.8v5.8h-5.8z" fill="#0000e0"/>
<path d="M1004.8 416.9h5.8v5.8h-5.8zM1088.5 427.0h5.8v5.8h-5.8zM1067.1 417.9h5.8v5.8h-5.8zM1079.3 448.4h5.8v5.8h-5.8zM1033.3 416.9h5.8v5.8h-5.8zM1067.1 454.5h5.8v5.8h-5.8zM950.6 504.4h5.8v5.8h-5.8zM1015.3 417.9h5.8v5.8h-5.8zM1088.5 436.2h5.8v5.8h-5.8zM1073.3 420.9h5.8v5.8h-5.8zM1012.3 481.9h5.8v5.8h-5.8zM1085.4 430.1h5.8v5.8h-5.8zM1082.4 442.3h5.8v5.8h-5.8zM1052.3 418.8h5.8v5.8h-5.8zM1079.3 427.0h5.8v5.8h-5.8zM1076.3 445.3h5.8v5.8h-5.8zM1082.4 436.2h5.8v5.8h-5.8zM1058.0 454.5h5.8v5.8h-5.8zM990.9 417.9h5.8v5.8h-5.8zM1073.3 427.0h5.8v5.8h-5.8zM1039.7 420.9h5.8v5.8h-5.8zM1076.3 433.1h5.8v5.8h-5.8zM1073.3 430.1h5.8v5.8h-5.8zM916.4 441.6h5.8v5.8h-5.8zM981.7 417.9h5.8v5.8h-5.8zM1073.3 439.2h5.8v5.8h-5.8zM948.2 420.9h5.8v5.8h-5.8zM1064.1 427.0h5.8v5.8h-5.8zM1070.2 433.1h5.8v5.8h-5.8zM1064.1 445.3h5.8v5.8h-5.8zM1070.2 436.2h5.8v5.8h-5.8zM1067.1 442.3h5.8v5.8h-5.8z" fill="#0000f4"/>
<path d="M1064.1 430.1h5.8v5.8h-5.8zM1067.1 436.2h5.8v5.8h-5.8zM1030.5 424.0h5.8v5.8h-5.8zM1061.0 445.3h5.8v5.8h-5.8zM1064.1 442.3h5.8v5.8h-5.8zM1045.8 454.5h5.8v5.8h-5.8zM1061.0 430.1h5.8v5.8h-5.8zM1000.0 420.9h5.8v5.8h-5.8zM1024.4 424.0h5.8v5.8h-5.8zM1027.5 466.6h5.8v5.8h-5.8zM1064.1 439.2h5.8v5.8h-5.8zM1039.7 457.5h5.8v5.8h-5.8zM1021.4 424.0h5.8v5.8h-5.8zM1048.8 451.4h5.8v5.8h-5.8zM997.0 420.9h5.8v5.8h-5.8zM1042.7 427.0h5.8v5.8h-5.8zM1051.9 430.1h5.8v5.8h-5.8zM1033.6 460.6h5.8v5.8h-5.8zM1058.0 439.2h5.8v5.8h-5.8zM1039.7 454.5h5.8v5.8h-5.8zM1042.7 430.1h5.8v5.8h-5.8zM1045.8 448.4h5.8v5.8h-5.8zM1051.9 439.2h5.8v5.8h-5.8zM1039.7 430.1h5.8v5.8h-5.8zM1033.6 457.5h5.8v5.8h-5.8zM1042.7 433.1h5.8v5.8h-5.8zM1042.7 448.4h5.8v5.8h-5.8zM1045.8 442.3h5.8v5.8h-5.8zM1030.5 430.1h5.8v5.8h-5.8zM1039.7 448.4h5.8v5.8h-5.8zM1000.0 424.0h5.8v5.8h-5.8zM1024.4 430.1h5.8v5.8h-5.8z" fill="#0009ff"/>
<path d="M978.7 420.9h5.8v5.8h-5.8zM963.4 420.9h5.8v5.8h-5.8zM1036.7 436.2h5.8v5.8h-5.8zM1030.5 433.1h5.8v5.8h-5.8zM1018.3 469.7h5.8v5.8h-5.8zM1033.6 451.4h5.8v5.8h-5.8zM1036.7 445.3h5.8v5.8h-5.8zM1018.3 430.1h5.8v5.8h-5.8zM1030.5 454.5h5.8v5.8h-5.8zM1033.6 439.2h5.8v5.8h-5.8zM1024.4 460.6h5.8v5.8h-5.8zM1030.5 451.4h5.8v5.8h-5.8zM1030.5 439.2h5.8v5.8h-5.8zM1021.4 463.6h5.8v5.8h-5.8zM1012.3 430.1h5.8v5.8h-5.8zM1030.5 448.4h5.8v5.8h-5.8zM1030.5 442.3h5.8v5.8h-5.8zM949.6 500.6h5.8v5.8h-5.8zM1027.5 454.5h5.8v5.8h-5.8zM951.3 424.0h5.8v5.8h-5.8zM942.1 427.0h5.8v5.8h-5.8zM987.8 424.0h5.8v5.8h-5.8zM1018.3 466.6h5.8v5.8h-5.8z" fill="#001dff"/>
<path d="M1015.3 433.1h5.8v5.8h-5.8zM1024.4 439.2h5.8v5.8h-5.8zM1006.1 430.1h5.8v5.8h-5.8zM981.7 424.0h5.8v5.8h-5.8zM1018.3 436.2h5.8v5.8h-5.8zM1024.4 442.3h5.8v5.8h-5.8zM1012.3 433.1h5.8v5.8h-5.8zM912.0 460.6h5.8v5.8h-5.8zM1024.4 445.3h5.8v5.8h-5.8zM993.9 427.0h5.8v5.8h-5.8zM1024.4 448.4h5.8v5.8h-5.8zM1021.4 457.5h5.8v5.8h-5.8zM1003.1 430.1h5.8v5.8h-5.8zM943.0 499.2h5.8v5.8h-5.8zM960.4 424.0h5.8v5.8h-5.8zM975.6 424.0h5.8v5.8h-5.8zM1009.2 433.1h5.8v5.8h-5.8z" fill="#0031ff"/>
<path d="M1012.3 436.2h5.8v5.8h-5.8zM948.2 427.0h5.8v5.8h-5.8zM1009.2 436.2h5.8v5.8h-5.8zM1003.1 433.1h5.8v5.8h-5.8zM936.0 433.1h5.8v5.8h-5.8z" fill="#0045ff"/>
<path d="M1015.3 445.3h5.8v5.8h-5.8zM954.3 427.0h5.8v5.8h-5.8zM1009.2 439.2h5.8v5.8h-5.8zM1012.3 442.3h5.8v5.8h-5.8zM932.9 436.2h5.8v5.8h-5.8zM1015.3 451.4h5.8v5.8h-5.8zM975.6 427.0h5.8v5.8h-5.8zM1003.1 436.2h5.8v5.8h-5.8zM987.8 430.1h5.8v5.8h-5.8zM923.8 445.3h5.8v5.8h-5.8zM963.9 495.4h5.8v5.8h-5.8z" fill="#0059ff"/>
<path d="M1006.1 439.2h5.8v5.8h-5.8zM1009.2 442.3h5.8v5.8h-5.8zM1012.3 448.4h5.8v5.8h-5.8zM993.9 433.1h5.8v5.8h-5.8zM915.4 463.5h5.8v5.8h-5.8zM1009.2 445.3h5.8v5.8h-5.8z" fill="#006dff"/>
<path d="M997.0 436.2h5.8v5.8h-5.8zM951.3 430.1h5.8v5.8h-5.8zM1009.2 448.4h5.8v5.8h-5.8zM1000.0 439.2h5.8v5.8h-5.8zM1009.2 454.5h5.8v5.8h-5.8zM975.6 430.1h5.8v5.8h-5.8zM954.3 430.1h5.8v5.8h-5.8z" fill="#0081ff"/>
<path d="M1003.1 469.7h5.8v5.8h-5.8zM922.1 452.1h5.8v5.8h-5.8zM939.0 436.2h5.8v5.8h-5.8zM997.0 439.2h5.8v5.8h-5.8zM990.9 436.2h5.8v5.8h-5.8zM1003.1 445.3h5.8v5.8h-5.8zM1000.0 442.3h5.8v5.8h-5.8zM1006.1 457.5h5.8v5.8h-5.8z" fill="#0095ff"/>
<path d="M936.0 439.2h5.8v5.8h-5.8zM987.8 481.9h5.8v5.8h-5.8zM1000.0 445.3h5.8v5.8h-5.8z" fill="#00aaff"/>
<path d="M951.3 433.1h5.8v5.8h-5.8zM1003.1 451.4h5.8v5.8h-5.8zM984.8 436.2h5.8v5.8h-5.8z" fill="#00beff"/>
<path d="M945.1 436.2h5.8v5.8h-5.8zM921.1 476.8h5.8v5.8h-5.8zM960.4 433.1h5.8v5.8h-5.8zM1000.0 451.4h5.8v5.8h-5.8z" fill="#00d2ff"/>
<path d="M948.2 436.2h5.8v5.8h-5.8zM990.9 442.3h5.8v5.8h-5.8zM932.9 445.3h5.8v5.8h-5.8z" fill="#00e6ff"/>
<path d="M942.1 439.2h5.8v5.8h-5.8zM975.6 436.2h5.8v5.8h-5.8z" fill="#00faff"/>
<path d="M997.0 454.5h5.8v5.8h-5.8zM954.3 436.2h5.8v5.8h-5.8zM993.9 469.7h5.8v5.8h-5.8zM997.0 460.6h5.8v5.8h-5.8zM997.0 457.5h5.8v5.8h-5.8zM923.8 475.8h5.8v5.8h-5.8zM957.3 436.2h5.8v5.8h-5.8z" fill="#0ffff0"/>
<path d="M978.7 439.2h5.8v5.8h-5.8zM984.8 442.3h5.8v5.8h-5.8zM993.9 451.4h5.8v5.8h-5.8zM923.8 466.6h5.8v5.8h-5.8zM993.9 466.6h5.8v5.8h-5.8zM939.0 488.0h5.8v5.8h-5.8zM987.8 445.3h5.8v5.8h-5.8zM978.7 481.9h5.8v5.8h-5.8z" fill="#23ffdc"/>
<path d="M993.9 454.5h5.8v5.8h-5.8zM975.6 439.2h5.8v5.8h-5.8zM993.9 457.5h5.8v5.8h-5.8zM929.9 481.9h5.8v5.8h-5.8z" fill="#37ffc8"/>
<path d="M942.1 488.0h5.8v5.8h-5.8zM981.7 478.9h5.8v5.8h-5.8zM951.3 439.2h5.8v5.8h-5.8zM990.9 451.4h5.8v5.8h-5.8zM984.8 445.3h5.8v5.8h-5.8zM969.5 439.2h5.8v5.8h-5.8z" fill="#4bffb4"/>
<path d="M966.5 439.2h5.8v5.8h-5.8zM960.4 439.2h5.8v5.8h-5.8zM990.9 463.6h5.8v5.8h-5.8zM990.9 457.5h5.8v5.8h-5.8z" fill="#5fffa0"/>
<path d="M990.9 460.6h5.8v5.8h-5.8zM981.7 445.3h5.8v5.8h-5.8zM966.5 485.0h5.8v5.8h-5.8zM987.8 451.4h5.8v5.8h-5.8zM948.2 442.3h5.8v5.8h-5.8z" fill="#73ff8c"/>
<path d="M939.0 485.0h5.8v5.8h-5.8zM978.7 445.3h5.8v5.8h-5.8z" fill="#87ff78"/>
<path d="M951.3 442.3h5.8v5.8h-5.8zM969.5 442.3h5.8v5.8h-5.8zM936.0 451.4h5.8v5.8h-5.8zM929.9 475.8h5.8v5.8h-5.8zM987.8 457.5h5.8v5.8h-5.8zM984.8 451.4h5.8v5.8h-5.8zM987.8 463.6h5.8v5.8h-5.8zM981.7 448.4h5.8v5.8h-5.8zM936.0 481.9h5.8v5.8h-5.8z" fill="#9cff63"/>
<path d="M954.3 442.3h5.8v5.8h-5.8zM945.1 445.3h5.8v5.8h-5.8zM975.6 445.3h5.8v5.8h-5.8zM932.9 478.9h5.8v5.8h-5.8zM929.9 463.6h5.8v5.8h-5.8zM963.4 442.3h5.8v5.8h-5.8zM957.3 442.3h5.8v5.8h-5.8zM960.4 442.3h5.8v5.8h-5.8zM945.1 485.0h5.8v5.8h-5.8zM929.9 472.8h5.8v5.8h-5.8z" fill="#b0ff4f"/>
<path d="M984.8 454.5h5.8v5.8h-5.8zM981.7 472.8h5.8v5.8h-5.8zM929.9 466.6h5.8v5.8h-5.8zM954.3 485.0h5.8v5.8h-5.8zM948.2 485.0h5.8v5.8h-5.8zM929.9 469.7h5.8v5.8h-5.8zM978.7 448.4h5.8v5.8h-5.8zM951.3 485.0h5.8v5.8h-5.8zM981.7 451.4h5.8v5.8h-5.8zM972.6 445.3h5.8v5.8h-5.8zM984.8 466.6h5.8v5.8h-5.8z" fill="#c4ff3b"/>
<path d="M984.8 457.5h5.8v5.8h-5.8zM966.5 481.9h5.8v5.8h-5.8zM939.0 481.9h5.8v5.8h-5.8zM936.0 454.5h5.8v5.8h-5.8zM932.9 475.8h5.8v5.8h-5.8zM969.5 445.3h5.8v5.8h-5.8z" fill="#d8ff27"/>
<path d="M932.9 460.6h5.8v5.8h-5.8zM975.6 448.4h5.8v5.8h-5.8zM936.0 478.9h5.8v5.8h-5.8zM951.3 445.3h5.8v5.8h-5.8zM981.7 454.5h5.8v5.8h-5.8zM963.4 481.9h5.8v5.8h-5.8zM978.7 451.4h5.8v5.8h-5.8z" fill="#ecff13"/>
<path d="M978.7 472.8h5.8v5.8h-5.8zM945.1 448.4h5.8v5.8h-5.8zM942.1 481.9h5.8v5.8h-5.8zM954.3 445.3h5.8v5.8h-5.8zM963.4 445.3h5.8v5.8h-5.8zM932.9 463.6h5.8v5.8h-5.8zM932.9 472.8h5.8v5.8h-5.8zM981.7 457.5h5.8v5.8h-5.8zM969.5 478.9h5.8v5.8h-5.8zM957.3 445.3h5.8v5.8h-5.8zM960.4 445.3h5.8v5.8h-5.8zM936.0 457.5h5.8v5.8h-5.8z" fill="#fffe00"/>
<path d="M972.6 448.4h5.8v5.8h-5.8zM960.4 481.9h5.8v5.8h-5.8zM981.7 460.6h5.8v5.8h-5.8zM932.9 466.6h5.8v5.8h-5.8zM942.1 451.4h5.8v5.8h-5.8zM981.7 463.6h5.8v5.8h-5.8zM932.9 469.7h5.8v5.8h-5.8zM939.0 454.5h5.8v5.8h-5.8zM945.1 481.9h5.8v5.8h-5.8zM978.7 454.5h5.8v5.8h-5.8zM975.6 451.4h5.8v5.8h-5.8z" fill="#ffea00"/>
<path d="M957.3 481.9h5.8v5.8h-5.8zM939.0 478.9h5.8v5.8h-5.8zM948.2 448.4h5.8v5.8h-5.8zM936.0 475.8h5.8v5.8h-5.8zM978.7 469.7h5.8v5.8h-5.8zM972.6 475.8h5.8v5.8h-5.8zM969.5 448.4h5.8v5.8h-5.8zM948.2 481.9h5.8v5.8h-5.8zM954.3 481.9h5.8v5.8h-5.8zM966.5 478.9h5.8v5.8h-5.8z" fill="#ffd600"/>
<path d="M975.6 472.8h5.8v5.8h-5.8zM951.3 481.9h5.8v5.8h-5.8zM936.0 460.6h5.8v5.8h-5.8zM978.7 457.5h5.8v5.8h-5.8zM966.5 448.4h5.8v5.8h-5.8zM951.3 448.4h5.8v5.8h-5.8zM978.7 466.6h5.8v5.8h-5.8zM972.6 451.4h5.8v5.8h-5.8z" fill="#ffc200"/>
<path d="M945.1 451.4h5.8v5.8h-5.8zM978.7 460.6h5.8v5.8h-5.8zM975.6 454.5h5.8v5.8h-5.8zM936.0 472.8h5.8v5.8h-5.8zM978.7 463.6h5.8v5.8h-5.8zM963.4 448.4h5.8v5.8h-5.8zM939.0 457.5h5.8v5.8h-5.8zM942.1 478.9h5.8v5.8h-5.8zM936.0 463.6h5.8v5.8h-5.8zM963.4 478.9h5.8v5.8h-5.8zM954.3 448.4h5.8v5.8h-5.8zM942.1 454.5h5.8v5.8h-5.8zM969.5 475.8h5.8v5.8h-5.8zM960.4 448.4h5.8v5.8h-5.8z" fill="#ffae00"/>
<path d="M957.3 448.4h5.8v5.8h-5.8zM975.6 469.7h5.8v5.8h-5.8zM936.0 466.6h5.8v5.8h-5.8zM939.0 475.8h5.8v5.8h-5.8zM936.0 469.7h5.8v5.8h-5.8zM969.5 451.4h5.8v5.8h-5.8zM972.6 472.8h5.8v5.8h-5.8zM975.6 457.5h5.8v5.8h-5.8z" fill="#ff9a00"/>
<path d="M960.4 478.9h5.8v5.8h-5.8zM948.2 451.4h5.8v5.8h-5.8zM945.1 478.9h5.8v5.8h-5.8zM972.6 454.5h5.8v5.8h-5.8zM939.0 460.6h5.8v5.8h-5.8zM975.6 466.6h5.8v5.8h-5.8z" fill="#ff8600"/>
<path d="M975.6 460.6h5.8v5.8h-5.8zM966.5 451.4h5.8v5.8h-5.8zM966.5 475.8h5.8v5.8h-5.8zM957.3 478.9h5.8v5.8h-5.8zM975.6 463.6h5.8v5.8h-5.8zM948.2 478.9h5.8v5.8h-5.8zM945.1 454.5h5.8v5.8h-5.8zM951.3 451.4h5.8v5.8h-5.8zM942.1 457.5h5.8v5.8h-5.8zM939.0 472.8h5.8v5.8h-5.8zM954.3 478.9h5.8v5.8h-5.8z" fill="#ff7100"/>
<path d="M951.3 478.9h5.8v5.8h-5.8zM963.4 451.4h5.8v5.8h-5.8zM942.1 475.8h5.8v5.8h-5.8zM972.6 469.7h5.8v5.8h-5.8zM972.6 457.5h5.8v5.8h-5.8zM939.0 463.6h5.8v5.8h-5.8zM969.5 472.8h5.8v5.8h-5.8zM969.5 454.5h5.8v5.8h-5.8zM954.3 451.4h5.8v5.8h-5.8zM960.4 451.4h5.8v5.8h-5.8z" fill="#ff5d00"/>
<path d="M957.3 451.4h5.8v5.8h-5.8zM963.4 475.8h5.8v5.8h-5.8zM939.0 469.7h5.8v5.8h-5.8zM939.0 466.6h5.8v5.8h-5.8zM972.6 460.6h5.8v5.8h-5.8zM972.6 466.6h5.8v5.8h-5.8zM948.2 454.5h5.8v5.8h-5.8z" fill="#ff4900"/>
<path d="M966.5 454.5h5.8v5.8h-5.8zM972.6 463.6h5.8v5.8h-5.8zM942.1 460.6h5.8v5.8h-5.8zM945.1 475.8h5.8v5.8h-5.8zM969.5 457.5h5.8v5.8h-5.8zM960.4 475.8h5.8v5.8h-5.8zM945.1 457.5h5.8v5.8h-5.8zM966.5 472.8h5.8v5.8h-5.8zM942.1 472.8h5.8v5.8h-5.8z" fill="#ff3500"/>
<path d="M969.5 469.7h5.8v5.8h-5.8zM963.4 454.5h5.8v5.8h-5.8zM951.3 454.5h5.8v5.8h-5.8zM948.2 475.8h5.8v5.8h-5.8zM957.3 475.8h5.8v5.8h-5.8zM942.1 463.6h5.8v5.8h-5.8z" fill="#ff2100"/>
<path d="M969.5 460.6h5.8v5.8h-5.8zM960.4 454.5h5.8v5.8h-5.8zM954.3 454.5h5.8v5.8h-5.8zM969.5 466.6h5.8v5.8h-5.8zM954.3 475.8h5.8v5.8h-5.8zM942.1 469.7h5.8v5.8h-5.8zM966.5 457.5h5.8v5.8h-5.8zM951.3 475.8h5.8v5.8h-5.8zM957.3 454.5h5.8v5.8h-5.8zM969.5 463.6h5.8v5.8h-5.8zM942.1 466.6h5.8v5.8h-5.8zM963.4 472.8h5.8v5.8h-5.8z" fill="#ff0d00"/>
<path d="M948.2 457.5h5.8v5.8h-5.8zM945.1 460.6h5.8v5.8h-5.8zM945.1 472.8h5.8v5.8h-5.8zM966.5 469.7h5.8v5.8h-5.8zM963.4 457.5h5.8v5.8h-5.8z" fill="#f80000"/>
<path d="M966.5 460.6h5.8v5.8h-5.8zM960.4 472.8h5.8v5.8h-5.8zM951.3 457.5h5.8v5.8h-5.8zM966.5 466.6h5.8v5.8h-5.8zM945.1 463.6h5.8v5.8h-5.8zM966.5 463.6h5.8v5.8h-5.8z" fill="#e40000"/>
<path d="M960.4 457.5h5.8v5.8h-5.8zM948.2 472.8h5.8v5.8h-5.8zM945.1 469.7h5.8v5.8h-5.8zM963.4 469.7h5.8v5.8h-5.8zM954.3 457.5h5.8v5.8h-5.8zM948.2 460.6h5.8v5.8h-5.8zM957.3 457.5h5.8v5.8h-5.8zM957.3 472.8h5.8v5.8h-5.8zM945.1 466.6h5.8v5.8h-5.8zM963.4 460.6h5.8v5.8h-5.8zM951.3 472.8h5.8v5.8h-5.8z" fill="#d00000"/>
<path d="M954.3 472.8h5.8v5.8h-5.8zM963.4 466.6h5.8v5.8h-5.8zM963.4 463.6h5.8v5.8h-5.8z" fill="#bc0000"/>
<path d="M960.4 469.7h5.8v5.8h-5.8zM960.4 460.6h5.8v5.8h-5.8zM951.3 460.6h5.8v5.8h-5.8zM948.2 463.6h5.8v5.8h-5.8zM948.2 469.7h5.8v5.8h-5.8zM957.3 460.6h5.8v5.8h-5.8zM948.2 466.6h5.8v5.8h-5.8zM954.3 460.6h5.8v5.8h-5.8z" fill="#a80000"/>
<path d="M957.3 469.7h5.8v5.8h-5.8zM960.4 463.6h5.8v5.8h-5.8zM960.4 466.6h5.8v5.8h-5.8zM951.3 469.7h5.8v5.8h-5.8zM954.3 469.7h5.8v5.8h-5.8zM951.3 463.6h5.8v5.8h-5.8zM957.3 463.6h5.8v5.8h-5.8z" fill="#940000"/>
<path d="M951.3 466.6h5.8v5.8h-5.8zM954.3 463.6h5.8v5.8h-5.8zM957.3 466.6h5.8v5.8h-5.8zM954.3 466.6h5.8v5.8h-5.8z" fill="#800000"/>
</g>
<line x1="908.4" y1="515.3" x2="1509.9" y2="49.8" stroke="#ee2d38" stroke-width="1.9"/>
<path d="M1028.7 515.3v-6.3M1028.7 49.8v6.3M908.4 423.4h6.3M1509.9 423.4h-6.3M1148.5 515.3v-6.3M1148.5 49.8v6.3M908.4 328.2h6.3M1509.9 328.2h-6.3M1270.3 515.3v-6.3M1270.3 49.8v6.3M908.4 236.2h6.3M1509.9 236.2h-6.3M1390.0 515.3v-6.3M1390.0 49.8v6.3M908.4 141.6h6.3M1509.9 141.6h-6.3" stroke="#3d3d3d" stroke-width="1.9" fill="none"/>
<rect x="908.40" y="49.80" width="601.50" height="465.50" stroke="#3d3d3d" stroke-width="2.6" fill="none"/>
<g fill="#404040">
<text transform="translate(908.4 554.6) scale(1 1.12)" font-size="27.7" text-anchor="middle">0</text>
<text transform="translate(898.3 526.9) scale(1 1.12)" font-size="27.7" text-anchor="end">0</text>
<text transform="translate(1028.7 554.6) scale(1 1.12)" font-size="27.7" text-anchor="middle">0.002</text>
<text transform="translate(898.3 435.0) scale(1 1.12)" font-size="27.7" text-anchor="end">0.002</text>
<text transform="translate(1148.5 554.6) scale(1 1.12)" font-size="27.7" text-anchor="middle">0.004</text>
<text transform="translate(898.3 339.9) scale(1 1.12)" font-size="27.7" text-anchor="end">0.004</text>
<text transform="translate(1270.3 554.6) scale(1 1.12)" font-size="27.7" text-anchor="middle">0.006</text>
<text transform="translate(898.3 247.8) scale(1 1.12)" font-size="27.7" text-anchor="end">0.006</text>
<text transform="translate(1390.0 554.6) scale(1 1.12)" font-size="27.7" text-anchor="middle">0.008</text>
<text transform="translate(898.3 153.2) scale(1 1.12)" font-size="27.7" text-anchor="end">0.008</text>
<text transform="translate(1509.9 554.6) scale(1 1.12)" font-size="27.7" text-anchor="middle">0.01</text>
<text transform="translate(898.3 61.4) scale(1 1.12)" font-size="27.7" text-anchor="end">0.01</text>
<text transform="translate(1209.5 604.2) scale(1 1.12)" font-size="30.3" text-anchor="middle">BGC-Argo bbp532 (m<tspan dy="-12.5" dx="1" font-size="22">-1</tspan><tspan dy="12.5" dx="3.5">)</tspan></text>
<text transform="translate(816.9 281.2) rotate(-90) scale(1 1.12)" font-size="30.3" text-anchor="middle">CALIPSO bbp532 (m<tspan dy="-12.5" dx="1" font-size="22">-1</tspan><tspan dy="12.5" dx="3.5">)</tspan></text>
</g>
<g fill="#2a2a2a" stroke="#2a2a2a" stroke-width="0.3">
<text transform="translate(937.7 86.1) scale(1 1.1)" font-size="27.6">N = 1185</text>
<text transform="translate(937.7 128.9) scale(1 1.1)" font-size="27.6">RMSE = 0.00072813 m<tspan dy="-10.5" dx="1.5" font-size="22">-1</tspan></text>
<text transform="translate(937.7 171.9) scale(1 1.1)" font-size="27.6">R<tspan dy="-10.5" dx="1.5" font-size="22">2</tspan><tspan dy="10.5" dx="1.5"> = 0.25385</tspan></text>
</g>
<text transform="translate(785.8 26.5)" font-size="28.5" fill="#000" font-weight="bold">B</text>
</g>
<g id="panelC">
<path d="M247.1 662.2V1127.7M126.8 1035.8H728.1M366.9 662.2V1127.7M126.8 940.7H728.1M488.6 662.2V1127.7M126.8 848.7H728.1M608.4 662.2V1127.7M126.8 754.1H728.1" stroke="#e4e4e4" stroke-width="1.2" fill="none"/>
<g class="pts">
<path d="M336.6 690.9h5.8v5.8h-5.8zM357.2 695.7h5.8v5.8h-5.8zM425.4 737.9h5.8v5.8h-5.8zM390.8 755.4h5.8v5.8h-5.8zM342.1 788.3h5.8v5.8h-5.8zM673.1 845.3h5.8v5.8h-5.8zM339.4 845.3h5.8v5.8h-5.8zM328.4 846.6h5.8v5.8h-5.8zM225.2 860.9h5.8v5.8h-5.8zM261.1 860.9h5.8v5.8h-5.8zM640.8 869.0h5.8v5.8h-5.8zM223.8 868.1h5.8v5.8h-5.8zM236.2 868.1h5.8v5.8h-5.8zM200.9 875.1h5.8v5.8h-5.8zM716.8 1087.3h5.8v5.8h-5.8zM703.9 1084.6h5.8v5.8h-5.8zM309.4 868.7h5.8v5.8h-5.8zM222.2 879.1h5.8v5.8h-5.8zM314.1 868.7h5.8v5.8h-5.8zM366.4 867.5h5.8v5.8h-5.8zM465.1 867.7h5.8v5.8h-5.8zM189.5 889.4h5.8v5.8h-5.8zM680.1 1087.5h5.8v5.8h-5.8zM335.0 873.4h5.8v5.8h-5.8zM200.0 889.4h5.8v5.8h-5.8zM205.8 889.4h5.8v5.8h-5.8zM254.2 884.3h5.8v5.8h-5.8zM180.0 897.2h5.8v5.8h-5.8zM271.2 884.3h5.8v5.8h-5.8zM338.5 879.1h5.8v5.8h-5.8zM456.5 882.4h5.8v5.8h-5.8zM661.6 1077.8h5.8v5.8h-5.8zM603.6 904.8h5.8v5.8h-5.8zM398.9 882.9h5.8v5.8h-5.8zM296.1 889.0h5.8v5.8h-5.8zM497.8 888.1h5.8v5.8h-5.8zM656.0 1060.1h5.8v5.8h-5.8zM623.8 932.9h5.8v5.8h-5.8zM441.7 897.8h5.8v5.8h-5.8zM368.9 899.7h5.8v5.8h-5.8zM600.2 1084.6h5.8v5.8h-5.8zM615.1 1073.0h5.8v5.8h-5.8zM359.8 904.0h5.8v5.8h-5.8zM126.8 935.8h5.8v5.8h-5.8zM515.2 916.8h5.8v5.8h-5.8zM200.3 925.3h5.8v5.8h-5.8zM459.2 913.5h5.8v5.8h-5.8zM426.2 911.6h5.8v5.8h-5.8zM381.1 911.6h5.8v5.8h-5.8zM250.9 920.9h5.8v5.8h-5.8zM490.2 925.9h5.8v5.8h-5.8zM175.2 940.1h5.8v5.8h-5.8zM611.9 1022.3h5.8v5.8h-5.8zM495.2 931.6h5.8v5.8h-5.8zM573.5 967.9h5.8v5.8h-5.8zM299.2 929.1h5.8v5.8h-5.8zM548.6 1077.4h5.8v5.8h-5.8zM528.8 1088.8h5.8v5.8h-5.8zM350.2 929.1h5.8v5.8h-5.8zM307.5 931.6h5.8v5.8h-5.8zM186.3 953.3h5.8v5.8h-5.8zM449.7 941.5h5.8v5.8h-5.8zM293.2 940.1h5.8v5.8h-5.8zM482.2 1102.1h5.8v5.8h-5.8zM497.8 1090.3h5.8v5.8h-5.8zM546.5 984.8h5.8v5.8h-5.8zM159.2 963.7h5.8v5.8h-5.8zM437.9 948.7h5.8v5.8h-5.8zM324.6 945.8h5.8v5.8h-5.8zM545.6 1018.1h5.8v5.8h-5.8zM273.1 950.4h5.8v5.8h-5.8zM514.2 978.0h5.8v5.8h-5.8zM319.8 948.1h5.8v5.8h-5.8zM185.8 967.5h5.8v5.8h-5.8zM466.2 1091.1h5.8v5.8h-5.8zM277.1 956.7h5.8v5.8h-5.8zM354.1 953.4h5.8v5.8h-5.8zM248.2 960.5h5.8v5.8h-5.8zM420.6 959.2h5.8v5.8h-5.8zM502.2 1058.8h5.8v5.8h-5.8zM158.2 980.4h5.8v5.8h-5.8zM469.2 1080.2h5.8v5.8h-5.8zM348.4 957.3h5.8v5.8h-5.8zM451.6 1090.3h5.8v5.8h-5.8zM433.1 966.6h5.8v5.8h-5.8zM282.8 961.1h5.8v5.8h-5.8zM342.6 958.6h5.8v5.8h-5.8zM327.4 959.2h5.8v5.8h-5.8zM336.9 959.2h5.8v5.8h-5.8zM490.6 994.3h5.8v5.8h-5.8zM482.0 997.9h5.8v5.8h-5.8zM492.5 1036.5h5.8v5.8h-5.8zM478.2 997.9h5.8v5.8h-5.8zM228.9 975.3h5.8v5.8h-5.8zM243.2 973.8h5.8v5.8h-5.8zM385.6 970.9h5.8v5.8h-5.8zM258.2 972.5h5.8v5.8h-5.8zM425.4 980.8h5.8v5.8h-5.8zM433.1 1078.7h5.8v5.8h-5.8zM452.5 1064.7h5.8v5.8h-5.8zM469.7 1017.5h5.8v5.8h-5.8zM214.0 984.8h5.8v5.8h-5.8zM317.0 974.2h5.8v5.8h-5.8zM397.8 981.0h5.8v5.8h-5.8zM284.2 976.6h5.8v5.8h-5.8zM146.2 1003.6h5.8v5.8h-5.8zM421.0 989.2h5.8v5.8h-5.8zM189.2 992.2h5.8v5.8h-5.8zM233.2 983.9h5.8v5.8h-5.8zM448.0 1056.9h5.8v5.8h-5.8zM394.4 1091.1h5.8v5.8h-5.8zM427.2 995.6h5.8v5.8h-5.8zM386.8 984.2h5.8v5.8h-5.8zM342.6 979.5h5.8v5.8h-5.8zM442.7 1007.6h5.8v5.8h-5.8zM250.9 985.2h5.8v5.8h-5.8zM437.2 1058.0h5.8v5.8h-5.8zM399.1 989.6h5.8v5.8h-5.8zM337.9 981.4h5.8v5.8h-5.8zM374.0 985.2h5.8v5.8h-5.8zM284.7 983.3h5.8v5.8h-5.8zM294.2 983.7h5.8v5.8h-5.8zM429.2 1006.1h5.8v5.8h-5.8zM433.1 1056.1h5.8v5.8h-5.8zM182.8 1001.4h5.8v5.8h-5.8zM173.8 1004.6h5.8v5.8h-5.8zM186.7 1001.4h5.8v5.8h-5.8zM411.7 1001.0h5.8v5.8h-5.8zM393.0 995.1h5.8v5.8h-5.8zM145.2 1015.0h5.8v5.8h-5.8zM187.8 1002.8h5.8v5.8h-5.8zM384.7 994.1h5.8v5.8h-5.8zM370.2 991.8h5.8v5.8h-5.8zM366.4 991.3h5.8v5.8h-5.8zM339.8 988.4h5.8v5.8h-5.8zM223.2 996.0h5.8v5.8h-5.8zM199.7 1001.0h5.8v5.8h-5.8zM247.5 993.7h5.8v5.8h-5.8zM323.6 989.6h5.8v5.8h-5.8zM425.0 1027.0h5.8v5.8h-5.8zM216.2 1001.4h5.8v5.8h-5.8zM413.0 1054.0h5.8v5.8h-5.8zM385.6 1072.6h5.8v5.8h-5.8zM330.2 995.3h5.8v5.8h-5.8zM193.9 1008.9h5.8v5.8h-5.8zM345.5 997.6h5.8v5.8h-5.8zM233.2 1001.7h5.8v5.8h-5.8z" fill="#00008f"/>
<path d="M145.2 1027.2h5.8v5.8h-5.8zM308.4 997.6h5.8v5.8h-5.8zM154.3 1024.2h5.8v5.8h-5.8zM282.8 998.5h5.8v5.8h-5.8zM320.8 998.5h5.8v5.8h-5.8zM259.6 1000.6h5.8v5.8h-5.8zM404.4 1031.8h5.8v5.8h-5.8zM397.8 1053.6h5.8v5.8h-5.8zM230.9 1005.2h5.8v5.8h-5.8zM271.4 1000.2h5.8v5.8h-5.8zM175.7 1018.0h5.8v5.8h-5.8zM166.5 1021.1h5.8v5.8h-5.8zM282.5 999.8h5.8v5.8h-5.8zM187.8 1015.0h5.8v5.8h-5.8zM386.4 1061.2h5.8v5.8h-5.8zM343.5 1002.8h5.8v5.8h-5.8zM330.2 1001.4h5.8v5.8h-5.8zM382.6 1064.1h5.8v5.8h-5.8zM337.4 1088.2h5.8v5.8h-5.8zM398.7 1043.2h5.8v5.8h-5.8zM399.7 1036.5h5.8v5.8h-5.8zM355.7 1005.9h5.8v5.8h-5.8zM367.9 1073.0h5.8v5.8h-5.8zM389.4 1021.5h5.8v5.8h-5.8zM300.4 1001.2h5.8v5.8h-5.8zM331.2 1002.8h5.8v5.8h-5.8zM267.2 1002.8h5.8v5.8h-5.8zM172.7 1021.1h5.8v5.8h-5.8zM328.2 1002.8h5.8v5.8h-5.8zM365.8 1010.9h5.8v5.8h-5.8zM348.2 1006.5h5.8v5.8h-5.8zM248.8 1005.9h5.8v5.8h-5.8zM366.4 1070.7h5.8v5.8h-5.8zM160.4 1027.2h5.8v5.8h-5.8zM263.7 1005.2h5.8v5.8h-5.8zM325.2 1005.9h5.8v5.8h-5.8zM315.1 1005.2h5.8v5.8h-5.8zM386.4 1046.0h5.8v5.8h-5.8zM322.1 1005.9h5.8v5.8h-5.8zM375.0 1059.9h5.8v5.8h-5.8zM157.3 1030.3h5.8v5.8h-5.8zM227.5 1012.0h5.8v5.8h-5.8zM320.8 1006.5h5.8v5.8h-5.8zM282.5 1005.9h5.8v5.8h-5.8zM383.5 1042.2h5.8v5.8h-5.8zM383.1 1034.6h5.8v5.8h-5.8zM370.9 1060.8h5.8v5.8h-5.8zM334.2 1082.1h5.8v5.8h-5.8zM292.8 1006.5h5.8v5.8h-5.8zM364.8 1063.8h5.8v5.8h-5.8zM154.3 1033.3h5.8v5.8h-5.8zM239.8 1012.0h5.8v5.8h-5.8zM370.9 1024.2h5.8v5.8h-5.8zM374.0 1027.2h5.8v5.8h-5.8zM273.2 1008.9h5.8v5.8h-5.8zM313.0 1008.9h5.8v5.8h-5.8zM157.3 1033.3h5.8v5.8h-5.8zM151.2 1036.4h5.8v5.8h-5.8zM374.0 1047.9h5.8v5.8h-5.8zM368.2 1026.4h5.8v5.8h-5.8zM328.2 1012.0h5.8v5.8h-5.8zM215.3 1018.0h5.8v5.8h-5.8zM233.7 1015.0h5.8v5.8h-5.8z" fill="#0000a4"/>
<path d="M236.7 1015.0h5.8v5.8h-5.8zM337.4 1015.0h5.8v5.8h-5.8zM370.2 1033.7h5.8v5.8h-5.8zM157.2 1121.1h5.8v5.8h-5.8zM303.8 1088.2h5.8v5.8h-5.8zM206.2 1021.1h5.8v5.8h-5.8zM364.8 1054.7h5.8v5.8h-5.8zM358.7 1060.8h5.8v5.8h-5.8zM358.7 1024.2h5.8v5.8h-5.8zM300.8 1088.2h5.8v5.8h-5.8zM303.8 1012.0h5.8v5.8h-5.8zM245.8 1015.0h5.8v5.8h-5.8zM367.9 1036.4h5.8v5.8h-5.8zM294.7 1012.0h5.8v5.8h-5.8zM291.7 1012.0h5.8v5.8h-5.8zM349.6 1021.1h5.8v5.8h-5.8zM355.7 1024.2h5.8v5.8h-5.8zM361.8 1054.7h5.8v5.8h-5.8zM328.2 1076.0h5.8v5.8h-5.8zM258.1 1015.0h5.8v5.8h-5.8zM352.7 1060.8h5.8v5.8h-5.8zM358.7 1030.3h5.8v5.8h-5.8zM340.4 1021.1h5.8v5.8h-5.8zM361.8 1045.5h5.8v5.8h-5.8zM306.9 1015.0h5.8v5.8h-5.8zM337.4 1069.9h5.8v5.8h-5.8zM346.5 1024.2h5.8v5.8h-5.8zM349.6 1060.8h5.8v5.8h-5.8zM148.2 1042.5h5.8v5.8h-5.8zM291.7 1015.0h5.8v5.8h-5.8zM349.6 1027.2h5.8v5.8h-5.8zM190.9 1027.2h5.8v5.8h-5.8zM322.1 1018.0h5.8v5.8h-5.8zM209.2 1024.2h5.8v5.8h-5.8zM160.4 1036.4h5.8v5.8h-5.8zM334.2 1021.1h5.8v5.8h-5.8zM334.2 1069.9h5.8v5.8h-5.8zM285.5 1088.2h5.8v5.8h-5.8zM352.7 1054.7h5.8v5.8h-5.8zM169.7 1033.3h5.8v5.8h-5.8zM145.2 1045.5h5.8v5.8h-5.8zM319.1 1076.0h5.8v5.8h-5.8zM197.0 1027.2h5.8v5.8h-5.8zM325.2 1073.0h5.8v5.8h-5.8zM352.7 1051.6h5.8v5.8h-5.8zM135.3 1053.6h5.8v5.8h-5.8zM309.9 1079.0h5.8v5.8h-5.8zM300.8 1082.1h5.8v5.8h-5.8zM279.4 1088.2h5.8v5.8h-5.8zM349.6 1033.3h5.8v5.8h-5.8zM270.2 1018.0h5.8v5.8h-5.8zM294.7 1018.0h5.8v5.8h-5.8zM276.4 1018.0h5.8v5.8h-5.8zM172.7 1033.3h5.8v5.8h-5.8zM276.4 1088.2h5.8v5.8h-5.8zM297.7 1082.1h5.8v5.8h-5.8zM337.4 1027.2h5.8v5.8h-5.8zM349.6 1048.6h5.8v5.8h-5.8zM349.6 1039.4h5.8v5.8h-5.8zM346.5 1036.4h5.8v5.8h-5.8zM325.2 1024.2h5.8v5.8h-5.8z" fill="#0000b8"/>
<path d="M148.2 1045.5h5.8v5.8h-5.8zM166.5 1036.4h5.8v5.8h-5.8zM233.7 1024.2h5.8v5.8h-5.8zM303.8 1021.1h5.8v5.8h-5.8zM300.8 1079.0h5.8v5.8h-5.8zM340.4 1033.3h5.8v5.8h-5.8zM300.8 1021.1h5.8v5.8h-5.8zM279.4 1085.2h5.8v5.8h-5.8zM343.5 1039.4h5.8v5.8h-5.8zM291.7 1021.1h5.8v5.8h-5.8zM316.0 1024.2h5.8v5.8h-5.8zM273.2 1021.1h5.8v5.8h-5.8zM279.4 1021.1h5.8v5.8h-5.8zM340.4 1036.4h5.8v5.8h-5.8zM169.7 1036.4h5.8v5.8h-5.8zM331.2 1060.8h5.8v5.8h-5.8zM334.2 1033.3h5.8v5.8h-5.8zM334.2 1057.7h5.8v5.8h-5.8zM337.4 1036.4h5.8v5.8h-5.8zM230.7 1027.2h5.8v5.8h-5.8zM270.2 1085.2h5.8v5.8h-5.8zM255.0 1024.2h5.8v5.8h-5.8zM316.0 1027.2h5.8v5.8h-5.8zM258.1 1024.2h5.8v5.8h-5.8zM297.7 1024.2h5.8v5.8h-5.8zM306.9 1073.0h5.8v5.8h-5.8zM337.4 1048.6h5.8v5.8h-5.8zM233.7 1027.2h5.8v5.8h-5.8zM163.4 1039.4h5.8v5.8h-5.8zM279.4 1082.1h5.8v5.8h-5.8zM184.8 1033.3h5.8v5.8h-5.8zM322.1 1030.3h5.8v5.8h-5.8zM212.2 1030.3h5.8v5.8h-5.8zM288.6 1079.0h5.8v5.8h-5.8zM334.2 1039.4h5.8v5.8h-5.8zM251.9 1088.2h5.8v5.8h-5.8zM285.5 1024.2h5.8v5.8h-5.8zM282.5 1024.2h5.8v5.8h-5.8zM279.4 1024.2h5.8v5.8h-5.8zM303.8 1073.0h5.8v5.8h-5.8zM325.2 1060.8h5.8v5.8h-5.8zM264.2 1085.2h5.8v5.8h-5.8zM334.2 1042.5h5.8v5.8h-5.8zM334.2 1045.5h5.8v5.8h-5.8zM306.9 1027.2h5.8v5.8h-5.8zM328.2 1036.4h5.8v5.8h-5.8zM221.4 1030.3h5.8v5.8h-5.8zM245.8 1027.2h5.8v5.8h-5.8zM322.1 1033.3h5.8v5.8h-5.8zM306.9 1069.9h5.8v5.8h-5.8zM282.5 1079.0h5.8v5.8h-5.8zM297.7 1027.2h5.8v5.8h-5.8zM328.2 1039.4h5.8v5.8h-5.8zM251.9 1027.2h5.8v5.8h-5.8zM166.5 1039.4h5.8v5.8h-5.8zM255.0 1027.2h5.8v5.8h-5.8z" fill="#0000cc"/>
<path d="M297.7 1073.0h5.8v5.8h-5.8zM291.7 1027.2h5.8v5.8h-5.8zM328.2 1042.5h5.8v5.8h-5.8zM258.1 1027.2h5.8v5.8h-5.8zM285.5 1027.2h5.8v5.8h-5.8zM325.2 1039.4h5.8v5.8h-5.8zM267.2 1082.1h5.8v5.8h-5.8zM306.9 1030.3h5.8v5.8h-5.8zM316.0 1033.3h5.8v5.8h-5.8zM264.2 1027.2h5.8v5.8h-5.8zM279.4 1027.2h5.8v5.8h-5.8zM273.2 1027.2h5.8v5.8h-5.8zM239.8 1088.2h5.8v5.8h-5.8zM200.0 1033.3h5.8v5.8h-5.8zM303.8 1030.3h5.8v5.8h-5.8zM276.4 1079.0h5.8v5.8h-5.8zM325.2 1042.5h5.8v5.8h-5.8zM251.9 1085.2h5.8v5.8h-5.8zM203.2 1033.3h5.8v5.8h-5.8zM325.2 1048.6h5.8v5.8h-5.8zM325.2 1045.5h5.8v5.8h-5.8zM309.9 1033.3h5.8v5.8h-5.8zM291.7 1073.0h5.8v5.8h-5.8zM294.7 1030.3h5.8v5.8h-5.8zM169.7 1039.4h5.8v5.8h-5.8zM313.0 1060.8h5.8v5.8h-5.8zM270.2 1079.0h5.8v5.8h-5.8zM151.2 1048.6h5.8v5.8h-5.8zM316.0 1039.4h5.8v5.8h-5.8zM294.7 1069.9h5.8v5.8h-5.8zM300.8 1066.9h5.8v5.8h-5.8zM319.1 1045.5h5.8v5.8h-5.8zM319.1 1048.6h5.8v5.8h-5.8zM270.2 1030.3h5.8v5.8h-5.8zM313.0 1039.4h5.8v5.8h-5.8zM297.7 1033.3h5.8v5.8h-5.8zM303.8 1063.8h5.8v5.8h-5.8zM291.7 1069.9h5.8v5.8h-5.8zM294.7 1033.3h5.8v5.8h-5.8zM306.9 1060.8h5.8v5.8h-5.8zM309.9 1039.4h5.8v5.8h-5.8zM303.8 1036.4h5.8v5.8h-5.8zM239.8 1033.3h5.8v5.8h-5.8zM239.8 1085.2h5.8v5.8h-5.8zM300.8 1036.4h5.8v5.8h-5.8zM313.0 1045.5h5.8v5.8h-5.8zM248.8 1082.1h5.8v5.8h-5.8zM313.0 1048.6h5.8v5.8h-5.8zM309.9 1042.5h5.8v5.8h-5.8zM248.8 1033.3h5.8v5.8h-5.8zM251.9 1033.3h5.8v5.8h-5.8zM258.1 1079.0h5.8v5.8h-5.8zM285.5 1069.9h5.8v5.8h-5.8zM276.4 1033.3h5.8v5.8h-5.8z" fill="#0000e0"/>
<path d="M270.2 1033.3h5.8v5.8h-5.8zM267.2 1033.3h5.8v5.8h-5.8zM276.4 1073.0h5.8v5.8h-5.8zM197.0 1036.4h5.8v5.8h-5.8zM215.3 1036.4h5.8v5.8h-5.8zM221.4 1036.4h5.8v5.8h-5.8zM300.8 1060.8h5.8v5.8h-5.8zM306.9 1054.7h5.8v5.8h-5.8zM203.2 1036.4h5.8v5.8h-5.8zM291.7 1036.4h5.8v5.8h-5.8zM175.7 1039.4h5.8v5.8h-5.8zM303.8 1042.5h5.8v5.8h-5.8zM230.7 1036.4h5.8v5.8h-5.8zM306.9 1051.6h5.8v5.8h-5.8zM233.7 1085.2h5.8v5.8h-5.8zM288.6 1036.4h5.8v5.8h-5.8zM264.2 1076.0h5.8v5.8h-5.8zM306.9 1048.6h5.8v5.8h-5.8zM242.8 1082.1h5.8v5.8h-5.8zM297.7 1039.4h5.8v5.8h-5.8zM154.3 1048.6h5.8v5.8h-5.8zM303.8 1054.7h5.8v5.8h-5.8zM168.7 1112.6h5.8v5.8h-5.8zM236.7 1036.4h5.8v5.8h-5.8zM303.8 1045.5h5.8v5.8h-5.8zM279.4 1069.9h5.8v5.8h-5.8zM291.7 1063.8h5.8v5.8h-5.8zM160.4 1045.5h5.8v5.8h-5.8zM242.8 1036.4h5.8v5.8h-5.8zM291.7 1039.4h5.8v5.8h-5.8zM276.4 1036.4h5.8v5.8h-5.8zM297.7 1042.5h5.8v5.8h-5.8zM273.2 1036.4h5.8v5.8h-5.8zM251.9 1036.4h5.8v5.8h-5.8zM255.0 1036.4h5.8v5.8h-5.8zM267.2 1073.0h5.8v5.8h-5.8zM285.5 1039.4h5.8v5.8h-5.8zM236.7 1082.1h5.8v5.8h-5.8zM297.7 1048.6h5.8v5.8h-5.8zM285.5 1063.8h5.8v5.8h-5.8zM279.4 1066.9h5.8v5.8h-5.8zM151.2 1051.6h5.8v5.8h-5.8zM169.7 1042.5h5.8v5.8h-5.8zM294.7 1054.7h5.8v5.8h-5.8zM288.6 1042.5h5.8v5.8h-5.8zM227.5 1039.4h5.8v5.8h-5.8zM221.4 1039.4h5.8v5.8h-5.8zM236.7 1039.4h5.8v5.8h-5.8zM215.3 1039.4h5.8v5.8h-5.8zM291.7 1054.7h5.8v5.8h-5.8zM285.5 1060.8h5.8v5.8h-5.8zM242.8 1039.4h5.8v5.8h-5.8z" fill="#0000f4"/>
<path d="M282.5 1042.5h5.8v5.8h-5.8zM267.2 1069.9h5.8v5.8h-5.8zM264.2 1039.4h5.8v5.8h-5.8zM212.2 1039.4h5.8v5.8h-5.8zM248.8 1039.4h5.8v5.8h-5.8zM261.1 1039.4h5.8v5.8h-5.8zM258.1 1039.4h5.8v5.8h-5.8zM255.0 1039.4h5.8v5.8h-5.8zM279.4 1063.8h5.8v5.8h-5.8zM248.8 1076.0h5.8v5.8h-5.8zM148.2 1054.7h5.8v5.8h-5.8zM209.2 1039.4h5.8v5.8h-5.8zM157.3 1048.6h5.8v5.8h-5.8zM288.6 1054.7h5.8v5.8h-5.8zM282.5 1060.8h5.8v5.8h-5.8zM276.4 1063.8h5.8v5.8h-5.8zM270.2 1066.9h5.8v5.8h-5.8zM273.2 1042.5h5.8v5.8h-5.8zM255.0 1073.0h5.8v5.8h-5.8zM190.9 1039.4h5.8v5.8h-5.8zM230.7 1082.1h5.8v5.8h-5.8zM270.2 1042.5h5.8v5.8h-5.8zM285.5 1051.6h5.8v5.8h-5.8zM282.5 1057.7h5.8v5.8h-5.8zM200.0 1039.4h5.8v5.8h-5.8zM224.4 1085.2h5.8v5.8h-5.8zM261.1 1069.9h5.8v5.8h-5.8zM267.2 1042.5h5.8v5.8h-5.8zM273.2 1063.8h5.8v5.8h-5.8zM267.2 1066.9h5.8v5.8h-5.8zM251.9 1073.0h5.8v5.8h-5.8zM282.5 1051.6h5.8v5.8h-5.8zM181.9 1107.8h5.8v5.8h-5.8zM135.3 1101.7h5.8v5.8h-5.8zM261.1 1042.5h5.8v5.8h-5.8zM279.4 1057.7h5.8v5.8h-5.8zM258.1 1042.5h5.8v5.8h-5.8zM242.8 1076.0h5.8v5.8h-5.8zM233.7 1042.5h5.8v5.8h-5.8zM236.7 1042.5h5.8v5.8h-5.8zM239.8 1042.5h5.8v5.8h-5.8zM273.2 1045.5h5.8v5.8h-5.8zM230.7 1042.5h5.8v5.8h-5.8zM258.1 1069.9h5.8v5.8h-5.8zM251.9 1042.5h5.8v5.8h-5.8zM242.8 1042.5h5.8v5.8h-5.8zM248.8 1042.5h5.8v5.8h-5.8zM264.2 1066.9h5.8v5.8h-5.8zM270.2 1045.5h5.8v5.8h-5.8zM248.8 1073.0h5.8v5.8h-5.8zM161.9 1111.2h5.8v5.8h-5.8zM267.2 1045.5h5.8v5.8h-5.8zM255.0 1069.9h5.8v5.8h-5.8zM276.4 1054.7h5.8v5.8h-5.8zM261.1 1066.9h5.8v5.8h-5.8zM264.2 1045.5h5.8v5.8h-5.8zM175.7 1042.5h5.8v5.8h-5.8zM270.2 1060.8h5.8v5.8h-5.8zM273.2 1057.7h5.8v5.8h-5.8zM261.1 1045.5h5.8v5.8h-5.8zM270.2 1048.6h5.8v5.8h-5.8zM273.2 1051.6h5.8v5.8h-5.8zM273.2 1054.7h5.8v5.8h-5.8zM258.1 1045.5h5.8v5.8h-5.8zM166.5 1045.5h5.8v5.8h-5.8zM264.2 1063.8h5.8v5.8h-5.8zM221.4 1085.2h5.8v5.8h-5.8zM267.2 1048.6h5.8v5.8h-5.8zM270.2 1057.7h5.8v5.8h-5.8zM251.9 1045.5h5.8v5.8h-5.8zM270.2 1051.6h5.8v5.8h-5.8z" fill="#0009ff"/>
<path d="M248.8 1045.5h5.8v5.8h-5.8zM264.2 1048.6h5.8v5.8h-5.8zM245.8 1045.5h5.8v5.8h-5.8zM242.8 1045.5h5.8v5.8h-5.8zM261.1 1063.8h5.8v5.8h-5.8zM212.2 1042.5h5.8v5.8h-5.8zM239.8 1045.5h5.8v5.8h-5.8zM236.7 1045.5h5.8v5.8h-5.8zM255.0 1066.9h5.8v5.8h-5.8zM248.8 1069.9h5.8v5.8h-5.8zM264.2 1060.8h5.8v5.8h-5.8zM267.2 1054.7h5.8v5.8h-5.8zM178.8 1042.5h5.8v5.8h-5.8zM258.1 1048.6h5.8v5.8h-5.8zM264.2 1051.6h5.8v5.8h-5.8zM258.1 1063.8h5.8v5.8h-5.8zM264.2 1057.7h5.8v5.8h-5.8zM227.5 1045.5h5.8v5.8h-5.8zM255.0 1048.6h5.8v5.8h-5.8zM264.2 1054.7h5.8v5.8h-5.8zM261.1 1060.8h5.8v5.8h-5.8zM261.1 1051.6h5.8v5.8h-5.8zM245.8 1069.9h5.8v5.8h-5.8zM251.9 1048.6h5.8v5.8h-5.8zM239.8 1073.0h5.8v5.8h-5.8zM248.8 1048.6h5.8v5.8h-5.8zM258.1 1051.6h5.8v5.8h-5.8zM255.0 1063.8h5.8v5.8h-5.8zM206.2 1042.5h5.8v5.8h-5.8zM258.1 1060.8h5.8v5.8h-5.8zM245.8 1048.6h5.8v5.8h-5.8zM248.8 1066.9h5.8v5.8h-5.8zM181.8 1042.5h5.8v5.8h-5.8zM255.0 1051.6h5.8v5.8h-5.8zM258.1 1054.7h5.8v5.8h-5.8zM258.1 1057.7h5.8v5.8h-5.8zM227.5 1079.0h5.8v5.8h-5.8zM239.8 1048.6h5.8v5.8h-5.8zM251.9 1051.6h5.8v5.8h-5.8zM169.7 1045.5h5.8v5.8h-5.8zM255.0 1060.8h5.8v5.8h-5.8zM203.2 1042.5h5.8v5.8h-5.8zM236.7 1048.6h5.8v5.8h-5.8zM236.7 1073.0h5.8v5.8h-5.8zM255.0 1054.7h5.8v5.8h-5.8zM218.3 1045.5h5.8v5.8h-5.8zM255.0 1057.7h5.8v5.8h-5.8zM248.8 1051.6h5.8v5.8h-5.8zM233.7 1048.6h5.8v5.8h-5.8zM251.9 1060.8h5.8v5.8h-5.8zM251.9 1054.7h5.8v5.8h-5.8zM245.8 1051.6h5.8v5.8h-5.8zM230.7 1076.0h5.8v5.8h-5.8zM230.7 1048.6h5.8v5.8h-5.8zM239.8 1069.9h5.8v5.8h-5.8zM251.9 1057.7h5.8v5.8h-5.8z" fill="#001dff"/>
<path d="M248.8 1054.7h5.8v5.8h-5.8zM187.8 1042.5h5.8v5.8h-5.8zM215.3 1045.5h5.8v5.8h-5.8zM227.5 1048.6h5.8v5.8h-5.8zM242.8 1066.9h5.8v5.8h-5.8zM248.8 1060.8h5.8v5.8h-5.8zM239.8 1051.6h5.8v5.8h-5.8zM233.7 1073.0h5.8v5.8h-5.8zM190.9 1042.5h5.8v5.8h-5.8zM245.8 1063.8h5.8v5.8h-5.8zM248.8 1057.7h5.8v5.8h-5.8zM245.8 1054.7h5.8v5.8h-5.8zM236.7 1051.6h5.8v5.8h-5.8zM224.4 1048.6h5.8v5.8h-5.8zM236.7 1069.9h5.8v5.8h-5.8zM245.8 1060.8h5.8v5.8h-5.8zM245.8 1057.7h5.8v5.8h-5.8zM242.8 1054.7h5.8v5.8h-5.8zM212.2 1045.5h5.8v5.8h-5.8zM239.8 1066.9h5.8v5.8h-5.8zM233.7 1051.6h5.8v5.8h-5.8zM172.7 1045.5h5.8v5.8h-5.8zM239.8 1054.7h5.8v5.8h-5.8zM242.8 1057.7h5.8v5.8h-5.8zM242.8 1060.8h5.8v5.8h-5.8zM221.4 1048.6h5.8v5.8h-5.8zM230.7 1051.6h5.8v5.8h-5.8zM239.8 1063.8h5.8v5.8h-5.8zM236.7 1054.7h5.8v5.8h-5.8zM233.7 1069.9h5.8v5.8h-5.8zM239.8 1057.7h5.8v5.8h-5.8zM236.7 1066.9h5.8v5.8h-5.8zM209.2 1045.5h5.8v5.8h-5.8zM239.8 1060.8h5.8v5.8h-5.8zM227.5 1051.6h5.8v5.8h-5.8zM233.7 1054.7h5.8v5.8h-5.8zM218.3 1048.6h5.8v5.8h-5.8zM236.7 1057.7h5.8v5.8h-5.8zM236.7 1063.8h5.8v5.8h-5.8zM203.2 1094.3h5.8v5.8h-5.8zM236.7 1060.8h5.8v5.8h-5.8zM224.4 1051.6h5.8v5.8h-5.8zM233.7 1066.9h5.8v5.8h-5.8z" fill="#0031ff"/>
<path d="M175.7 1045.5h5.8v5.8h-5.8zM230.7 1069.9h5.8v5.8h-5.8zM233.7 1057.7h5.8v5.8h-5.8zM221.4 1079.0h5.8v5.8h-5.8zM227.5 1073.0h5.8v5.8h-5.8zM224.4 1076.0h5.8v5.8h-5.8zM233.7 1063.8h5.8v5.8h-5.8zM203.2 1045.5h5.8v5.8h-5.8zM151.2 1057.7h5.8v5.8h-5.8zM230.7 1066.9h5.8v5.8h-5.8zM187.7 1102.1h5.8v5.8h-5.8zM230.7 1060.8h5.8v5.8h-5.8zM230.7 1063.8h5.8v5.8h-5.8zM145.2 1063.8h5.8v5.8h-5.8zM227.5 1069.9h5.8v5.8h-5.8zM224.4 1054.7h5.8v5.8h-5.8zM227.5 1057.7h5.8v5.8h-5.8zM224.4 1073.0h5.8v5.8h-5.8z" fill="#0045ff"/>
<path d="M227.5 1066.9h5.8v5.8h-5.8zM227.5 1060.8h5.8v5.8h-5.8zM209.2 1048.6h5.8v5.8h-5.8zM227.5 1063.8h5.8v5.8h-5.8zM221.4 1054.7h5.8v5.8h-5.8zM169.7 1048.6h5.8v5.8h-5.8zM184.8 1045.5h5.8v5.8h-5.8zM224.4 1057.7h5.8v5.8h-5.8zM224.4 1069.9h5.8v5.8h-5.8zM157.3 1054.7h5.8v5.8h-5.8zM224.4 1060.8h5.8v5.8h-5.8zM224.4 1066.9h5.8v5.8h-5.8zM218.3 1054.7h5.8v5.8h-5.8zM224.4 1063.8h5.8v5.8h-5.8zM221.4 1057.7h5.8v5.8h-5.8zM212.2 1051.6h5.8v5.8h-5.8z" fill="#0059ff"/>
<path d="M218.3 1076.0h5.8v5.8h-5.8zM172.7 1048.6h5.8v5.8h-5.8zM203.2 1048.6h5.8v5.8h-5.8zM221.4 1069.9h5.8v5.8h-5.8zM221.4 1060.8h5.8v5.8h-5.8zM215.3 1079.0h5.8v5.8h-5.8zM218.3 1057.7h5.8v5.8h-5.8zM221.4 1066.9h5.8v5.8h-5.8zM221.4 1063.8h5.8v5.8h-5.8zM175.7 1048.6h5.8v5.8h-5.8zM218.3 1073.0h5.8v5.8h-5.8z" fill="#006dff"/>
<path d="M166.5 1051.6h5.8v5.8h-5.8zM197.0 1048.6h5.8v5.8h-5.8zM218.3 1069.9h5.8v5.8h-5.8zM215.3 1057.7h5.8v5.8h-5.8zM215.3 1076.0h5.8v5.8h-5.8zM218.3 1063.8h5.8v5.8h-5.8zM218.3 1066.9h5.8v5.8h-5.8zM193.9 1048.6h5.8v5.8h-5.8zM184.8 1100.4h5.8v5.8h-5.8zM181.8 1048.6h5.8v5.8h-5.8zM190.9 1097.4h5.8v5.8h-5.8z" fill="#0081ff"/>
<path d="M200.0 1091.3h5.8v5.8h-5.8zM215.3 1060.8h5.8v5.8h-5.8zM209.2 1054.7h5.8v5.8h-5.8zM203.2 1051.6h5.8v5.8h-5.8zM215.3 1073.0h5.8v5.8h-5.8zM169.7 1051.6h5.8v5.8h-5.8zM145.2 1069.9h5.8v5.8h-5.8zM206.2 1085.2h5.8v5.8h-5.8zM215.3 1063.8h5.8v5.8h-5.8zM215.3 1069.9h5.8v5.8h-5.8zM163.4 1054.7h5.8v5.8h-5.8z" fill="#0095ff"/>
<path d="M215.3 1066.9h5.8v5.8h-5.8zM200.0 1051.6h5.8v5.8h-5.8zM154.3 1060.8h5.8v5.8h-5.8zM212.2 1076.0h5.8v5.8h-5.8zM206.2 1054.7h5.8v5.8h-5.8zM212.2 1060.8h5.8v5.8h-5.8zM172.7 1051.6h5.8v5.8h-5.8zM209.2 1057.7h5.8v5.8h-5.8z" fill="#00aaff"/>
<path d="M197.0 1051.6h5.8v5.8h-5.8zM209.2 1079.0h5.8v5.8h-5.8zM212.2 1063.8h5.8v5.8h-5.8zM197.0 1091.3h5.8v5.8h-5.8zM203.2 1054.7h5.8v5.8h-5.8zM160.4 1057.7h5.8v5.8h-5.8zM212.2 1066.9h5.8v5.8h-5.8zM166.5 1054.7h5.8v5.8h-5.8z" fill="#00beff"/>
<path d="M209.2 1060.8h5.8v5.8h-5.8zM200.0 1088.2h5.8v5.8h-5.8zM178.8 1051.6h5.8v5.8h-5.8zM206.2 1057.7h5.8v5.8h-5.8zM181.8 1051.6h5.8v5.8h-5.8zM187.8 1051.6h5.8v5.8h-5.8zM184.8 1051.6h5.8v5.8h-5.8zM157.3 1060.8h5.8v5.8h-5.8z" fill="#00d2ff"/>
<path d="M209.2 1063.8h5.8v5.8h-5.8zM169.7 1054.7h5.8v5.8h-5.8zM175.7 1100.4h5.8v5.8h-5.8zM209.2 1066.9h5.8v5.8h-5.8zM209.2 1069.9h5.8v5.8h-5.8zM203.2 1057.7h5.8v5.8h-5.8zM206.2 1060.8h5.8v5.8h-5.8zM163.4 1057.7h5.8v5.8h-5.8z" fill="#00e6ff"/>
<path d="M193.9 1091.3h5.8v5.8h-5.8zM172.7 1054.7h5.8v5.8h-5.8zM197.0 1088.2h5.8v5.8h-5.8zM200.0 1085.2h5.8v5.8h-5.8zM206.2 1076.0h5.8v5.8h-5.8z" fill="#00faff"/>
<path d="M206.2 1063.8h5.8v5.8h-5.8zM200.0 1057.7h5.8v5.8h-5.8zM148.2 1073.0h5.8v5.8h-5.8zM160.4 1060.8h5.8v5.8h-5.8zM203.2 1060.8h5.8v5.8h-5.8zM175.7 1054.7h5.8v5.8h-5.8zM206.2 1073.0h5.8v5.8h-5.8zM206.2 1066.9h5.8v5.8h-5.8zM190.9 1054.7h5.8v5.8h-5.8zM148.2 1094.3h5.8v5.8h-5.8z" fill="#0ffff0"/>
<path d="M166.5 1057.7h5.8v5.8h-5.8zM206.2 1069.9h5.8v5.8h-5.8zM145.2 1082.1h5.8v5.8h-5.8zM145.2 1085.2h5.8v5.8h-5.8zM178.8 1054.7h5.8v5.8h-5.8zM151.2 1069.9h5.8v5.8h-5.8zM184.8 1054.7h5.8v5.8h-5.8zM190.9 1091.3h5.8v5.8h-5.8z" fill="#23ffdc"/>
<path d="M154.3 1066.9h5.8v5.8h-5.8zM200.0 1060.8h5.8v5.8h-5.8zM148.2 1076.0h5.8v5.8h-5.8zM184.8 1094.3h5.8v5.8h-5.8zM169.7 1057.7h5.8v5.8h-5.8z" fill="#37ffc8"/>
<path d="M193.9 1088.2h5.8v5.8h-5.8zM197.0 1085.2h5.8v5.8h-5.8zM148.2 1091.3h5.8v5.8h-5.8zM163.4 1060.8h5.8v5.8h-5.8zM193.9 1057.7h5.8v5.8h-5.8zM203.2 1066.9h5.8v5.8h-5.8zM203.2 1073.0h5.8v5.8h-5.8zM175.7 1097.4h5.8v5.8h-5.8zM151.2 1094.3h5.8v5.8h-5.8zM203.2 1069.9h5.8v5.8h-5.8z" fill="#4bffb4"/>
<path d="M157.3 1097.4h5.8v5.8h-5.8zM148.2 1079.0h5.8v5.8h-5.8zM172.7 1057.7h5.8v5.8h-5.8zM151.2 1073.0h5.8v5.8h-5.8zM190.9 1057.7h5.8v5.8h-5.8zM200.0 1063.8h5.8v5.8h-5.8zM197.0 1060.8h5.8v5.8h-5.8zM200.0 1079.0h5.8v5.8h-5.8zM148.2 1088.2h5.8v5.8h-5.8z" fill="#5fffa0"/>
<path d="M160.4 1063.8h5.8v5.8h-5.8zM187.8 1091.3h5.8v5.8h-5.8zM172.7 1097.4h5.8v5.8h-5.8zM181.8 1094.3h5.8v5.8h-5.8zM148.2 1082.1h5.8v5.8h-5.8zM148.2 1085.2h5.8v5.8h-5.8zM175.7 1057.7h5.8v5.8h-5.8zM187.8 1057.7h5.8v5.8h-5.8zM154.3 1069.9h5.8v5.8h-5.8zM160.4 1097.4h5.8v5.8h-5.8zM157.3 1066.9h5.8v5.8h-5.8zM166.5 1060.8h5.8v5.8h-5.8z" fill="#73ff8c"/>
<path d="M197.0 1082.1h5.8v5.8h-5.8zM200.0 1066.9h5.8v5.8h-5.8zM169.7 1097.4h5.8v5.8h-5.8zM200.0 1076.0h5.8v5.8h-5.8zM190.9 1088.2h5.8v5.8h-5.8zM184.8 1057.7h5.8v5.8h-5.8zM178.8 1057.7h5.8v5.8h-5.8zM163.4 1097.4h5.8v5.8h-5.8zM154.3 1094.3h5.8v5.8h-5.8zM181.8 1057.7h5.8v5.8h-5.8zM193.9 1060.8h5.8v5.8h-5.8zM166.5 1097.4h5.8v5.8h-5.8zM193.9 1085.2h5.8v5.8h-5.8zM151.2 1091.3h5.8v5.8h-5.8zM200.0 1069.9h5.8v5.8h-5.8z" fill="#87ff78"/>
<path d="M200.0 1073.0h5.8v5.8h-5.8zM197.0 1063.8h5.8v5.8h-5.8zM151.2 1076.0h5.8v5.8h-5.8zM178.8 1094.3h5.8v5.8h-5.8zM184.8 1091.3h5.8v5.8h-5.8z" fill="#9cff63"/>
<path d="M169.7 1060.8h5.8v5.8h-5.8zM163.4 1063.8h5.8v5.8h-5.8zM190.9 1060.8h5.8v5.8h-5.8zM197.0 1079.0h5.8v5.8h-5.8zM151.2 1088.2h5.8v5.8h-5.8zM157.3 1094.3h5.8v5.8h-5.8z" fill="#b0ff4f"/>
<path d="M151.2 1079.0h5.8v5.8h-5.8zM154.3 1073.0h5.8v5.8h-5.8zM197.0 1066.9h5.8v5.8h-5.8zM160.4 1066.9h5.8v5.8h-5.8zM193.9 1063.8h5.8v5.8h-5.8zM175.7 1094.3h5.8v5.8h-5.8zM187.8 1088.2h5.8v5.8h-5.8zM172.7 1060.8h5.8v5.8h-5.8zM157.3 1069.9h5.8v5.8h-5.8zM187.8 1060.8h5.8v5.8h-5.8zM193.9 1082.1h5.8v5.8h-5.8zM197.0 1076.0h5.8v5.8h-5.8zM151.2 1085.2h5.8v5.8h-5.8z" fill="#c4ff3b"/>
<path d="M151.2 1082.1h5.8v5.8h-5.8zM154.3 1091.3h5.8v5.8h-5.8zM197.0 1069.9h5.8v5.8h-5.8zM190.9 1085.2h5.8v5.8h-5.8zM197.0 1073.0h5.8v5.8h-5.8zM160.4 1094.3h5.8v5.8h-5.8zM181.8 1091.3h5.8v5.8h-5.8zM184.8 1060.8h5.8v5.8h-5.8zM175.7 1060.8h5.8v5.8h-5.8z" fill="#d8ff27"/>
<path d="M166.5 1063.8h5.8v5.8h-5.8zM172.7 1094.3h5.8v5.8h-5.8zM181.8 1060.8h5.8v5.8h-5.8zM178.8 1060.8h5.8v5.8h-5.8zM154.3 1076.0h5.8v5.8h-5.8zM190.9 1063.8h5.8v5.8h-5.8zM193.9 1066.9h5.8v5.8h-5.8zM163.4 1094.3h5.8v5.8h-5.8z" fill="#ecff13"/>
<path d="M169.7 1094.3h5.8v5.8h-5.8zM193.9 1079.0h5.8v5.8h-5.8zM166.5 1094.3h5.8v5.8h-5.8zM154.3 1088.2h5.8v5.8h-5.8z" fill="#fffe00"/>
<path d="M157.3 1091.3h5.8v5.8h-5.8zM163.4 1066.9h5.8v5.8h-5.8zM184.8 1088.2h5.8v5.8h-5.8zM169.7 1063.8h5.8v5.8h-5.8zM178.8 1091.3h5.8v5.8h-5.8zM157.3 1073.0h5.8v5.8h-5.8zM193.9 1069.9h5.8v5.8h-5.8zM193.9 1076.0h5.8v5.8h-5.8zM154.3 1079.0h5.8v5.8h-5.8zM190.9 1082.1h5.8v5.8h-5.8zM187.8 1063.8h5.8v5.8h-5.8zM160.4 1069.9h5.8v5.8h-5.8z" fill="#ffea00"/>
<path d="M187.8 1085.2h5.8v5.8h-5.8zM193.9 1073.0h5.8v5.8h-5.8zM154.3 1085.2h5.8v5.8h-5.8zM154.3 1082.1h5.8v5.8h-5.8zM190.9 1066.9h5.8v5.8h-5.8z" fill="#ffd600"/>
<path d="M172.7 1063.8h5.8v5.8h-5.8zM184.8 1063.8h5.8v5.8h-5.8zM160.4 1091.3h5.8v5.8h-5.8zM175.7 1091.3h5.8v5.8h-5.8z" fill="#ffc200"/>
<path d="M166.5 1066.9h5.8v5.8h-5.8zM181.8 1088.2h5.8v5.8h-5.8zM190.9 1079.0h5.8v5.8h-5.8zM175.7 1063.8h5.8v5.8h-5.8zM181.8 1063.8h5.8v5.8h-5.8zM157.3 1088.2h5.8v5.8h-5.8zM157.3 1076.0h5.8v5.8h-5.8zM178.8 1063.8h5.8v5.8h-5.8zM190.9 1069.9h5.8v5.8h-5.8z" fill="#ffae00"/>
<path d="M172.7 1091.3h5.8v5.8h-5.8zM187.8 1066.9h5.8v5.8h-5.8zM163.4 1091.3h5.8v5.8h-5.8zM190.9 1076.0h5.8v5.8h-5.8zM187.8 1082.1h5.8v5.8h-5.8zM184.8 1085.2h5.8v5.8h-5.8zM190.9 1073.0h5.8v5.8h-5.8zM163.4 1069.9h5.8v5.8h-5.8zM160.4 1073.0h5.8v5.8h-5.8z" fill="#ff9a00"/>
<path d="M169.7 1091.3h5.8v5.8h-5.8zM166.5 1091.3h5.8v5.8h-5.8zM157.3 1079.0h5.8v5.8h-5.8zM157.3 1085.2h5.8v5.8h-5.8zM169.7 1066.9h5.8v5.8h-5.8z" fill="#ff8600"/>
<path d="M178.8 1088.2h5.8v5.8h-5.8zM157.3 1082.1h5.8v5.8h-5.8zM184.8 1066.9h5.8v5.8h-5.8zM160.4 1088.2h5.8v5.8h-5.8zM187.8 1069.9h5.8v5.8h-5.8z" fill="#ff7100"/>
<path d="M187.8 1079.0h5.8v5.8h-5.8zM172.7 1066.9h5.8v5.8h-5.8zM181.8 1066.9h5.8v5.8h-5.8zM160.4 1076.0h5.8v5.8h-5.8z" fill="#ff5d00"/>
<path d="M166.5 1069.9h5.8v5.8h-5.8zM181.8 1085.2h5.8v5.8h-5.8zM187.8 1073.0h5.8v5.8h-5.8zM175.7 1088.2h5.8v5.8h-5.8zM187.8 1076.0h5.8v5.8h-5.8zM175.7 1066.9h5.8v5.8h-5.8zM184.8 1082.1h5.8v5.8h-5.8zM178.8 1066.9h5.8v5.8h-5.8zM163.4 1088.2h5.8v5.8h-5.8zM163.4 1073.0h5.8v5.8h-5.8z" fill="#ff4900"/>
<path d="M160.4 1085.2h5.8v5.8h-5.8zM184.8 1069.9h5.8v5.8h-5.8zM172.7 1088.2h5.8v5.8h-5.8zM160.4 1079.0h5.8v5.8h-5.8z" fill="#ff3500"/>
<path d="M166.5 1088.2h5.8v5.8h-5.8zM160.4 1082.1h5.8v5.8h-5.8zM169.7 1088.2h5.8v5.8h-5.8zM169.7 1069.9h5.8v5.8h-5.8zM184.8 1079.0h5.8v5.8h-5.8zM178.8 1085.2h5.8v5.8h-5.8z" fill="#ff2100"/>
<path d="M184.8 1073.0h5.8v5.8h-5.8zM181.8 1069.9h5.8v5.8h-5.8zM184.8 1076.0h5.8v5.8h-5.8zM181.8 1082.1h5.8v5.8h-5.8zM163.4 1076.0h5.8v5.8h-5.8zM163.4 1085.2h5.8v5.8h-5.8z" fill="#ff0d00"/>
<path d="M166.5 1073.0h5.8v5.8h-5.8zM172.7 1069.9h5.8v5.8h-5.8zM178.8 1069.9h5.8v5.8h-5.8zM175.7 1069.9h5.8v5.8h-5.8zM175.7 1085.2h5.8v5.8h-5.8z" fill="#f80000"/>
<path d="M163.4 1079.0h5.8v5.8h-5.8zM163.4 1082.1h5.8v5.8h-5.8zM181.8 1073.0h5.8v5.8h-5.8zM166.5 1085.2h5.8v5.8h-5.8zM181.8 1079.0h5.8v5.8h-5.8z" fill="#e40000"/>
<path d="M172.7 1085.2h5.8v5.8h-5.8zM169.7 1073.0h5.8v5.8h-5.8zM178.8 1082.1h5.8v5.8h-5.8zM181.8 1076.0h5.8v5.8h-5.8zM169.7 1085.2h5.8v5.8h-5.8zM166.5 1076.0h5.8v5.8h-5.8z" fill="#d00000"/>
<path d="M178.8 1073.0h5.8v5.8h-5.8zM172.7 1073.0h5.8v5.8h-5.8zM166.5 1082.1h5.8v5.8h-5.8zM175.7 1073.0h5.8v5.8h-5.8z" fill="#bc0000"/>
<path d="M166.5 1079.0h5.8v5.8h-5.8zM175.7 1082.1h5.8v5.8h-5.8zM178.8 1079.0h5.8v5.8h-5.8zM178.8 1076.0h5.8v5.8h-5.8zM169.7 1076.0h5.8v5.8h-5.8z" fill="#a80000"/>
<path d="M169.7 1082.1h5.8v5.8h-5.8zM172.7 1082.1h5.8v5.8h-5.8zM175.7 1076.0h5.8v5.8h-5.8zM172.7 1076.0h5.8v5.8h-5.8zM175.7 1079.0h5.8v5.8h-5.8zM169.7 1079.0h5.8v5.8h-5.8z" fill="#940000"/>
<path d="M172.7 1079.0h5.8v5.8h-5.8z" fill="#800000"/>
</g>
<line x1="126.8" y1="1127.7" x2="728.1" y2="662.2" stroke="#ee2d38" stroke-width="1.9"/>
<path d="M247.1 1127.7v-6.3M247.1 662.2v6.3M126.8 1035.8h6.3M728.1 1035.8h-6.3M366.9 1127.7v-6.3M366.9 662.2v6.3M126.8 940.7h6.3M728.1 940.7h-6.3M488.6 1127.7v-6.3M488.6 662.2v6.3M126.8 848.7h6.3M728.1 848.7h-6.3M608.4 1127.7v-6.3M608.4 662.2v6.3M126.8 754.1h6.3M728.1 754.1h-6.3" stroke="#3d3d3d" stroke-width="1.9" fill="none"/>
<rect x="126.75" y="662.20" width="601.35" height="465.50" stroke="#3d3d3d" stroke-width="2.6" fill="none"/>
<g fill="#404040">
<text transform="translate(126.8 1167.0) scale(1 1.12)" font-size="27.7" text-anchor="middle">0</text>
<text transform="translate(116.7 1139.3) scale(1 1.12)" font-size="27.7" text-anchor="end">0</text>
<text transform="translate(247.1 1167.0) scale(1 1.12)" font-size="27.7" text-anchor="middle">0.002</text>
<text transform="translate(116.7 1047.3) scale(1 1.12)" font-size="27.7" text-anchor="end">0.002</text>
<text transform="translate(366.9 1167.0) scale(1 1.12)" font-size="27.7" text-anchor="middle">0.004</text>
<text transform="translate(116.7 952.3) scale(1 1.12)" font-size="27.7" text-anchor="end">0.004</text>
<text transform="translate(488.6 1167.0) scale(1 1.12)" font-size="27.7" text-anchor="middle">0.006</text>
<text transform="translate(116.7 860.3) scale(1 1.12)" font-size="27.7" text-anchor="end">0.006</text>
<text transform="translate(608.4 1167.0) scale(1 1.12)" font-size="27.7" text-anchor="middle">0.008</text>
<text transform="translate(116.7 765.7) scale(1 1.12)" font-size="27.7" text-anchor="end">0.008</text>
<text transform="translate(728.1 1167.0) scale(1 1.12)" font-size="27.7" text-anchor="middle">0.01</text>
<text transform="translate(116.7 673.8) scale(1 1.12)" font-size="27.7" text-anchor="end">0.01</text>
<text transform="translate(427.7 1216.6) scale(1 1.12)" font-size="30.3" text-anchor="middle">BGC-Argo bbp532 (m<tspan dy="-12.5" dx="1" font-size="22">-1</tspan><tspan dy="12.5" dx="3.5">)</tspan></text>
<text transform="translate(35.2 893.7) rotate(-90) scale(1 1.12)" font-size="30.3" text-anchor="middle">CALIPSO bbp532 (m<tspan dy="-12.5" dx="1" font-size="22">-1</tspan><tspan dy="12.5" dx="3.5">)</tspan></text>
</g>
<g fill="#2a2a2a" stroke="#2a2a2a" stroke-width="0.3">
<text transform="translate(156.1 698.5) scale(1 1.1)" font-size="27.6">N = 2210</text>
<text transform="translate(156.1 741.3) scale(1 1.1)" font-size="27.6">RMSE = 0.00069513 m<tspan dy="-10.5" dx="1.5" font-size="22">-1</tspan></text>
<text transform="translate(156.1 784.3) scale(1 1.1)" font-size="27.6">R<tspan dy="-10.5" dx="1.5" font-size="22">2</tspan><tspan dy="10.5" dx="1.5"> = 0.30314</tspan></text>
</g>
<text transform="translate(6.0 632.8)" font-size="28.5" fill="#000" font-weight="bold">C</text>
</g>
<g id="panelD">
<path d="M1038.7 659.7V1124.9M918.4 1033.2H1519.9M1158.5 659.7V1124.9M918.4 938.2H1519.9M1280.3 659.7V1124.9M918.4 846.2H1519.9M1400.0 659.7V1124.9M918.4 751.6H1519.9" stroke="#e4e4e4" stroke-width="1.2" fill="none"/>
<g class="pts">
<path d="M1127.9 688.9h5.8v5.8h-5.8zM1124.5 699.8h5.8v5.8h-5.8zM1148.2 693.7h5.8v5.8h-5.8zM1160.2 697.3h5.8v5.8h-5.8zM1216.3 735.9h5.8v5.8h-5.8zM1181.7 753.0h5.8v5.8h-5.8zM1133.0 786.3h5.8v5.8h-5.8zM973.3 810.6h5.8v5.8h-5.8zM1083.2 812.9h5.8v5.8h-5.8zM1104.1 811.4h5.8v5.8h-5.8zM1464.0 842.9h5.8v5.8h-5.8zM1371.4 842.9h5.8v5.8h-5.8zM1130.4 843.3h5.8v5.8h-5.8zM1119.3 844.6h5.8v5.8h-5.8zM993.5 860.8h5.8v5.8h-5.8zM1016.3 858.9h5.8v5.8h-5.8zM980.2 865.7h5.8v5.8h-5.8zM997.7 865.7h5.8v5.8h-5.8zM1453.2 865.1h5.8v5.8h-5.8zM1052.0 858.5h5.8v5.8h-5.8zM1089.3 855.6h5.8v5.8h-5.8zM1014.8 865.7h5.8v5.8h-5.8zM1154.5 850.5h5.8v5.8h-5.8zM1431.7 866.7h5.8v5.8h-5.8zM1027.1 865.7h5.8v5.8h-5.8zM992.0 872.8h5.8v5.8h-5.8zM1038.9 865.7h5.8v5.8h-5.8zM1077.1 866.5h5.8v5.8h-5.8zM1069.0 867.6h5.8v5.8h-5.8zM1507.8 1084.9h5.8v5.8h-5.8zM1013.2 877.1h5.8v5.8h-5.8zM1100.3 866.5h5.8v5.8h-5.8zM1105.1 866.5h5.8v5.8h-5.8zM1157.7 865.1h5.8v5.8h-5.8zM980.5 887.0h5.8v5.8h-5.8zM1494.8 1082.0h5.8v5.8h-5.8zM1256.4 865.5h5.8v5.8h-5.8zM991.0 887.0h5.8v5.8h-5.8zM996.7 887.0h5.8v5.8h-5.8zM1126.0 871.4h5.8v5.8h-5.8zM1045.2 881.7h5.8v5.8h-5.8zM1049.9 881.7h5.8v5.8h-5.8zM971.0 895.2h5.8v5.8h-5.8zM1062.1 881.7h5.8v5.8h-5.8zM1471.1 1084.9h5.8v5.8h-5.8zM1129.4 877.1h5.8v5.8h-5.8zM1141.2 876.6h5.8v5.8h-5.8zM1247.5 880.0h5.8v5.8h-5.8zM1088.9 886.6h5.8v5.8h-5.8zM1189.9 880.4h5.8v5.8h-5.8zM1473.5 1062.1h5.8v5.8h-5.8zM1394.6 902.4h5.8v5.8h-5.8zM1289.1 885.7h5.8v5.8h-5.8zM1068.0 891.4h5.8v5.8h-5.8zM1452.3 1075.4h5.8v5.8h-5.8zM1263.1 886.1h5.8v5.8h-5.8zM1457.0 1069.7h5.8v5.8h-5.8zM1161.2 886.6h5.8v5.8h-5.8zM1218.2 886.6h5.8v5.8h-5.8zM1012.9 907.2h5.8v5.8h-5.8zM1069.9 900.5h5.8v5.8h-5.8zM1446.9 1057.7h5.8v5.8h-5.8zM1232.7 895.4h5.8v5.8h-5.8zM1408.0 1087.7h5.8v5.8h-5.8zM1414.8 930.3h5.8v5.8h-5.8zM1050.3 906.2h5.8v5.8h-5.8zM1159.8 897.7h5.8v5.8h-5.8zM917.8 933.8h5.8v5.8h-5.8zM1150.7 902.0h5.8v5.8h-5.8zM1429.1 1058.3h5.8v5.8h-5.8zM1202.0 902.0h5.8v5.8h-5.8zM973.3 924.6h5.8v5.8h-5.8zM1195.4 903.4h5.8v5.8h-5.8zM1379.6 930.3h5.8v5.8h-5.8zM991.4 923.3h5.8v5.8h-5.8zM1391.2 1082.0h5.8v5.8h-5.8zM1406.1 1070.1h5.8v5.8h-5.8zM1306.2 914.2h5.8v5.8h-5.8zM1240.3 909.4h5.8v5.8h-5.8zM1042.0 918.9h5.8v5.8h-5.8zM1250.1 911.2h5.8v5.8h-5.8zM1217.3 909.6h5.8v5.8h-5.8zM1172.0 909.6h5.8v5.8h-5.8zM1142.7 913.4h5.8v5.8h-5.8zM1364.4 938.9h5.8v5.8h-5.8zM1321.6 928.6h5.8v5.8h-5.8zM966.3 938.1h5.8v5.8h-5.8zM1090.2 920.5h5.8v5.8h-5.8zM1281.1 923.3h5.8v5.8h-5.8zM1286.3 929.4h5.8v5.8h-5.8zM1402.8 1019.9h5.8v5.8h-5.8zM1379.1 1056.4h5.8v5.8h-5.8zM1090.2 927.1h5.8v5.8h-5.8zM1133.6 924.3h5.8v5.8h-5.8zM1197.9 925.2h5.8v5.8h-5.8zM1146.9 926.2h5.8v5.8h-5.8zM1364.4 965.5h5.8v5.8h-5.8zM1098.4 929.6h5.8v5.8h-5.8zM1141.2 927.1h5.8v5.8h-5.8zM1339.5 1075.0h5.8v5.8h-5.8zM1330.0 1081.1h5.8v5.8h-5.8zM1319.7 1086.0h5.8v5.8h-5.8zM977.3 951.3h5.8v5.8h-5.8zM1329.6 1077.7h5.8v5.8h-5.8zM1084.2 938.1h5.8v5.8h-5.8zM1240.8 939.1h5.8v5.8h-5.8zM1198.8 935.7h5.8v5.8h-5.8zM1305.3 1087.9h5.8v5.8h-5.8zM976.5 957.3h5.8v5.8h-5.8zM1034.4 948.2h5.8v5.8h-5.8zM1046.1 948.0h5.8v5.8h-5.8zM1337.4 982.4h5.8v5.8h-5.8zM1289.1 1087.9h5.8v5.8h-5.8zM1228.9 946.5h5.8v5.8h-5.8zM1115.5 943.8h5.8v5.8h-5.8zM1064.0 948.4h5.8v5.8h-5.8zM1201.1 946.1h5.8v5.8h-5.8zM1110.8 946.1h5.8v5.8h-5.8zM1174.9 945.6h5.8v5.8h-5.8zM1037.5 954.2h5.8v5.8h-5.8zM1022.3 957.3h5.8v5.8h-5.8zM1131.7 946.7h5.8v5.8h-5.8zM1337.0 1015.5h5.8v5.8h-5.8zM1305.3 975.6h5.8v5.8h-5.8zM1049.7 954.2h5.8v5.8h-5.8zM1037.5 957.3h5.8v5.8h-5.8zM1331.9 1013.2h5.8v5.8h-5.8zM1297.3 975.6h5.8v5.8h-5.8zM1068.0 954.7h5.8v5.8h-5.8zM1039.1 958.5h5.8v5.8h-5.8zM1318.8 994.0h5.8v5.8h-5.8zM1302.6 1061.1h5.8v5.8h-5.8zM1157.4 950.9h5.8v5.8h-5.8zM1166.9 951.3h5.8v5.8h-5.8zM1272.6 1082.0h5.8v5.8h-5.8zM1145.0 951.4h5.8v5.8h-5.8zM973.4 972.6h5.8v5.8h-5.8zM1257.2 1088.7h5.8v5.8h-5.8zM1203.0 955.6h5.8v5.8h-5.8zM1211.6 957.2h5.8v5.8h-5.8zM967.3 975.6h5.8v5.8h-5.8zM1129.0 954.2h5.8v5.8h-5.8zM1079.4 957.5h5.8v5.8h-5.8zM1144.1 954.7h5.8v5.8h-5.8zM1139.3 955.3h5.8v5.8h-5.8zM1098.5 957.3h5.8v5.8h-5.8zM1180.8 957.3h5.8v5.8h-5.8zM964.3 978.7h5.8v5.8h-5.8zM1293.5 1056.4h5.8v5.8h-5.8zM1133.6 956.6h5.8v5.8h-5.8zM1118.4 957.2h5.8v5.8h-5.8zM1127.9 957.2h5.8v5.8h-5.8zM1223.0 964.6h5.8v5.8h-5.8zM1266.3 977.1h5.8v5.8h-5.8zM1016.1 969.5h5.8v5.8h-5.8zM1242.5 1087.9h5.8v5.8h-5.8zM1092.4 960.4h5.8v5.8h-5.8zM1260.2 1077.7h5.8v5.8h-5.8zM1183.9 960.4h5.8v5.8h-5.8zM1285.9 1056.4h5.8v5.8h-5.8zM1295.4 999.4h5.8v5.8h-5.8zM1129.0 960.4h5.8v5.8h-5.8zM1224.1 968.0h5.8v5.8h-5.8zM1013.1 972.6h5.8v5.8h-5.8zM1218.2 967.6h5.8v5.8h-5.8zM1281.5 991.9h5.8v5.8h-5.8zM976.5 981.7h5.8v5.8h-5.8zM1101.5 963.4h5.8v5.8h-5.8zM1132.0 963.4h5.8v5.8h-5.8zM1080.2 966.5h5.8v5.8h-5.8zM1083.3 966.5h5.8v5.8h-5.8zM1273.0 995.2h5.8v5.8h-5.8zM1037.5 972.6h5.8v5.8h-5.8zM1101.5 966.5h5.8v5.8h-5.8zM1269.2 995.2h5.8v5.8h-5.8zM1283.4 1034.1h5.8v5.8h-5.8zM1132.0 966.5h5.8v5.8h-5.8zM1028.3 975.6h5.8v5.8h-5.8zM1180.8 969.5h5.8v5.8h-5.8zM1086.3 969.5h5.8v5.8h-5.8zM1224.1 978.8h5.8v5.8h-5.8zM1098.5 969.5h5.8v5.8h-5.8zM1258.9 995.2h5.8v5.8h-5.8zM1147.3 969.5h5.8v5.8h-5.8zM1129.0 969.5h5.8v5.8h-5.8zM1216.3 978.8h5.8v5.8h-5.8zM1199.1 975.6h5.8v5.8h-5.8zM961.3 993.9h5.8v5.8h-5.8zM1168.6 972.6h5.8v5.8h-5.8zM1086.3 972.6h5.8v5.8h-5.8zM1095.4 972.6h5.8v5.8h-5.8zM1003.9 984.8h5.8v5.8h-5.8zM1064.9 975.6h5.8v5.8h-5.8zM991.7 987.8h5.8v5.8h-5.8zM1129.0 972.6h5.8v5.8h-5.8zM1246.9 995.2h5.8v5.8h-5.8zM939.9 1003.1h5.8v5.8h-5.8zM1228.3 987.4h5.8v5.8h-5.8zM1028.3 981.7h5.8v5.8h-5.8zM1224.1 1076.3h5.8v5.8h-5.8zM1243.5 1062.1h5.8v5.8h-5.8zM1190.0 978.7h5.8v5.8h-5.8zM1031.4 981.7h5.8v5.8h-5.8zM1052.7 978.7h5.8v5.8h-5.8zM1083.3 975.6h5.8v5.8h-5.8zM1260.6 1014.9h5.8v5.8h-5.8zM1230.8 1069.7h5.8v5.8h-5.8zM1098.5 975.6h5.8v5.8h-5.8zM967.3 997.0h5.8v5.8h-5.8zM1208.3 1082.4h5.8v5.8h-5.8zM1040.5 981.7h5.8v5.8h-5.8zM1138.1 975.6h5.8v5.8h-5.8zM1251.3 1005.6h5.8v5.8h-5.8zM1234.0 994.0h5.8v5.8h-5.8zM1074.1 978.7h5.8v5.8h-5.8zM973.4 997.0h5.8v5.8h-5.8zM1229.8 994.6h5.8v5.8h-5.8zM1086.3 978.7h5.8v5.8h-5.8zM1253.6 1037.0h5.8v5.8h-5.8zM988.7 993.9h5.8v5.8h-5.8zM1058.8 981.7h5.8v5.8h-5.8zM1104.6 978.7h5.8v5.8h-5.8zM1190.0 984.8h5.8v5.8h-5.8zM1239.3 1054.1h5.8v5.8h-5.8zM1007.0 990.8h5.8v5.8h-5.8zM994.8 993.9h5.8v5.8h-5.8zM1218.2 993.6h5.8v5.8h-5.8zM1199.1 987.8h5.8v5.8h-5.8zM1248.8 1035.8h5.8v5.8h-5.8zM997.8 993.9h5.8v5.8h-5.8zM1196.1 987.8h5.8v5.8h-5.8zM1147.3 981.7h5.8v5.8h-5.8zM1199.1 1079.3h5.8v5.8h-5.8zM1243.1 1016.1h5.8v5.8h-5.8zM1190.0 987.8h5.8v5.8h-5.8zM1092.4 981.7h5.8v5.8h-5.8zM939.9 1012.2h5.8v5.8h-5.8zM1037.5 987.8h5.8v5.8h-5.8zM1119.8 981.7h5.8v5.8h-5.8zM1238.4 1013.6h5.8v5.8h-5.8zM1190.0 1082.4h5.8v5.8h-5.8zM970.4 1003.1h5.8v5.8h-5.8zM1224.1 1060.2h5.8v5.8h-5.8zM1010.0 993.9h5.8v5.8h-5.8zM1228.3 1055.4h5.8v5.8h-5.8zM1028.3 990.8h5.8v5.8h-5.8zM1193.1 1079.3h5.8v5.8h-5.8zM1077.1 984.8h5.8v5.8h-5.8zM985.6 1000.0h5.8v5.8h-5.8zM1234.0 1046.5h5.8v5.8h-5.8zM1150.3 984.8h5.8v5.8h-5.8zM1083.3 984.8h5.8v5.8h-5.8zM1220.1 1004.1h5.8v5.8h-5.8zM1098.5 984.8h5.8v5.8h-5.8zM979.5 1003.1h5.8v5.8h-5.8zM1193.1 993.9h5.8v5.8h-5.8zM1180.8 990.8h5.8v5.8h-5.8zM1224.1 1054.1h5.8v5.8h-5.8zM1061.9 987.8h5.8v5.8h-5.8zM970.4 1006.1h5.8v5.8h-5.8zM1193.1 1076.2h5.8v5.8h-5.8zM1177.8 990.8h5.8v5.8h-5.8zM1068.0 987.8h5.8v5.8h-5.8zM1199.1 997.0h5.8v5.8h-5.8zM1025.3 993.9h5.8v5.8h-5.8zM1205.3 1000.0h5.8v5.8h-5.8zM1220.5 1009.2h5.8v5.8h-5.8zM1171.7 990.8h5.8v5.8h-5.8zM976.5 1006.1h5.8v5.8h-5.8zM967.3 1009.2h5.8v5.8h-5.8zM1174.7 1082.4h5.8v5.8h-5.8zM1003.9 1000.0h5.8v5.8h-5.8zM1223.5 1045.8h5.8v5.8h-5.8zM1208.3 1061.0h5.8v5.8h-5.8zM1220.5 1015.2h5.8v5.8h-5.8zM1202.2 1003.1h5.8v5.8h-5.8zM1064.9 990.8h5.8v5.8h-5.8zM982.6 1006.1h5.8v5.8h-5.8zM994.8 1003.1h5.8v5.8h-5.8zM1147.3 990.8h5.8v5.8h-5.8zM1193.1 1070.2h5.8v5.8h-5.8zM1046.7 993.9h5.8v5.8h-5.8zM1214.4 1051.9h5.8v5.8h-5.8zM1083.3 990.8h5.8v5.8h-5.8zM1000.9 1003.1h5.8v5.8h-5.8zM1031.4 997.0h5.8v5.8h-5.8zM1095.4 990.8h5.8v5.8h-5.8zM1122.9 990.8h5.8v5.8h-5.8zM1193.1 1067.1h5.8v5.8h-5.8zM991.7 1006.1h5.8v5.8h-5.8zM1058.8 993.9h5.8v5.8h-5.8zM1171.7 1079.3h5.8v5.8h-5.8zM1037.5 997.0h5.8v5.8h-5.8z" fill="#00008f"/>
<path d="M1190.0 1003.1h5.8v5.8h-5.8zM1068.0 993.9h5.8v5.8h-5.8zM1168.6 1079.3h5.8v5.8h-5.8zM1028.3 1000.0h5.8v5.8h-5.8zM1214.4 1030.5h5.8v5.8h-5.8zM1159.5 997.0h5.8v5.8h-5.8zM949.0 1021.4h5.8v5.8h-5.8zM1196.1 1061.0h5.8v5.8h-5.8zM1211.3 1042.7h5.8v5.8h-5.8zM1129.0 993.9h5.8v5.8h-5.8zM1125.9 993.9h5.8v5.8h-5.8zM1122.9 993.9h5.8v5.8h-5.8zM1116.8 993.9h5.8v5.8h-5.8zM1101.5 993.9h5.8v5.8h-5.8zM1019.2 1003.1h5.8v5.8h-5.8zM1058.8 997.0h5.8v5.8h-5.8zM1141.2 997.0h5.8v5.8h-5.8zM1202.2 1048.8h5.8v5.8h-5.8zM1190.0 1061.0h5.8v5.8h-5.8zM1077.1 997.0h5.8v5.8h-5.8zM1017.1 1111.9h5.8v5.8h-5.8zM1129.0 997.0h5.8v5.8h-5.8zM1153.4 1000.0h5.8v5.8h-5.8zM1205.3 1036.6h5.8v5.8h-5.8zM1150.3 1082.4h5.8v5.8h-5.8zM1165.6 1003.1h5.8v5.8h-5.8zM1168.6 1073.2h5.8v5.8h-5.8zM1122.9 997.0h5.8v5.8h-5.8zM1156.4 1079.3h5.8v5.8h-5.8zM1086.3 997.0h5.8v5.8h-5.8zM988.7 1012.2h5.8v5.8h-5.8zM1186.9 1061.0h5.8v5.8h-5.8zM1193.1 1015.2h5.8v5.8h-5.8zM1177.8 1067.1h5.8v5.8h-5.8zM1147.3 1000.0h5.8v5.8h-5.8zM1186.9 1012.2h5.8v5.8h-5.8zM1138.1 1085.4h5.8v5.8h-5.8zM1007.0 1009.2h5.8v5.8h-5.8zM1022.3 1006.1h5.8v5.8h-5.8zM1190.0 1054.9h5.8v5.8h-5.8zM1144.3 1082.4h5.8v5.8h-5.8zM1168.6 1070.2h5.8v5.8h-5.8zM1150.3 1079.3h5.8v5.8h-5.8zM1190.0 1018.3h5.8v5.8h-5.8zM1193.1 1021.4h5.8v5.8h-5.8zM1135.1 1085.4h5.8v5.8h-5.8zM1162.5 1006.1h5.8v5.8h-5.8zM1196.1 1030.5h5.8v5.8h-5.8zM949.0 1027.5h5.8v5.8h-5.8zM936.8 1033.6h5.8v5.8h-5.8zM1119.8 1000.0h5.8v5.8h-5.8zM1083.3 1000.0h5.8v5.8h-5.8zM1196.1 1036.6h5.8v5.8h-5.8zM1086.3 1000.0h5.8v5.8h-5.8zM1132.0 1085.4h5.8v5.8h-5.8zM1113.7 1000.0h5.8v5.8h-5.8zM1098.5 1000.0h5.8v5.8h-5.8zM1101.5 1000.0h5.8v5.8h-5.8zM1190.0 1048.8h5.8v5.8h-5.8zM1180.8 1015.2h5.8v5.8h-5.8zM1138.1 1082.4h5.8v5.8h-5.8zM1183.9 1054.9h5.8v5.8h-5.8zM1186.9 1021.4h5.8v5.8h-5.8zM991.7 1015.2h5.8v5.8h-5.8zM1129.0 1085.4h5.8v5.8h-5.8zM1144.3 1079.3h5.8v5.8h-5.8zM1153.4 1006.1h5.8v5.8h-5.8zM1190.0 1045.8h5.8v5.8h-5.8zM952.1 1027.5h5.8v5.8h-5.8zM939.9 1033.6h5.8v5.8h-5.8zM1186.9 1048.8h5.8v5.8h-5.8zM1040.5 1006.1h5.8v5.8h-5.8zM1174.7 1061.0h5.8v5.8h-5.8zM994.8 1015.2h5.8v5.8h-5.8zM1183.9 1051.9h5.8v5.8h-5.8zM961.3 1024.4h5.8v5.8h-5.8zM1174.7 1015.2h5.8v5.8h-5.8zM1147.3 1006.1h5.8v5.8h-5.8zM1010.0 1012.2h5.8v5.8h-5.8zM1071.0 1003.1h5.8v5.8h-5.8zM1028.3 1009.2h5.8v5.8h-5.8zM1107.6 1003.1h5.8v5.8h-5.8zM974.8 1116.3h5.8v5.8h-5.8zM1052.7 1006.1h5.8v5.8h-5.8zM1183.9 1027.5h5.8v5.8h-5.8zM942.9 1033.6h5.8v5.8h-5.8zM1034.4 1009.2h5.8v5.8h-5.8zM1119.8 1085.4h5.8v5.8h-5.8zM1159.5 1012.2h5.8v5.8h-5.8zM1168.6 1061.0h5.8v5.8h-5.8zM1135.1 1079.3h5.8v5.8h-5.8zM1177.8 1051.9h5.8v5.8h-5.8zM1183.9 1039.7h5.8v5.8h-5.8zM1147.3 1009.2h5.8v5.8h-5.8zM1183.9 1036.6h5.8v5.8h-5.8zM1153.4 1070.2h5.8v5.8h-5.8zM1129.0 1006.1h5.8v5.8h-5.8zM1180.8 1027.5h5.8v5.8h-5.8zM1125.9 1082.4h5.8v5.8h-5.8zM1116.8 1085.4h5.8v5.8h-5.8zM1144.3 1009.2h5.8v5.8h-5.8zM1040.5 1009.2h5.8v5.8h-5.8zM948.2 1119.1h5.8v5.8h-5.8zM1177.8 1048.8h5.8v5.8h-5.8zM1071.0 1006.1h5.8v5.8h-5.8zM1180.8 1039.7h5.8v5.8h-5.8zM1180.8 1036.6h5.8v5.8h-5.8zM1116.8 1006.1h5.8v5.8h-5.8zM1074.1 1006.1h5.8v5.8h-5.8zM1144.3 1073.2h5.8v5.8h-5.8zM1113.7 1085.4h5.8v5.8h-5.8zM982.6 1021.4h5.8v5.8h-5.8zM1028.3 1012.2h5.8v5.8h-5.8z" fill="#0000a4"/>
<path d="M961.3 1027.5h5.8v5.8h-5.8zM1086.3 1006.1h5.8v5.8h-5.8zM1101.5 1006.1h5.8v5.8h-5.8zM1129.0 1079.3h5.8v5.8h-5.8zM1089.3 1006.1h5.8v5.8h-5.8zM1049.7 1009.2h5.8v5.8h-5.8zM1092.4 1006.1h5.8v5.8h-5.8zM1177.8 1042.7h5.8v5.8h-5.8zM1153.4 1067.1h5.8v5.8h-5.8zM1156.4 1015.2h5.8v5.8h-5.8zM985.6 1021.4h5.8v5.8h-5.8zM1110.7 1085.4h5.8v5.8h-5.8zM1052.7 1009.2h5.8v5.8h-5.8zM1144.3 1012.2h5.8v5.8h-5.8zM1034.4 1012.2h5.8v5.8h-5.8zM1019.2 1015.2h5.8v5.8h-5.8zM1003.9 1018.3h5.8v5.8h-5.8zM1174.7 1042.7h5.8v5.8h-5.8zM1107.6 1085.4h5.8v5.8h-5.8zM942.9 1036.6h5.8v5.8h-5.8zM1150.3 1067.1h5.8v5.8h-5.8zM1132.0 1076.2h5.8v5.8h-5.8zM1144.3 1070.2h5.8v5.8h-5.8zM1150.3 1015.2h5.8v5.8h-5.8zM1138.1 1073.2h5.8v5.8h-5.8zM976.5 1024.4h5.8v5.8h-5.8zM1138.1 1012.2h5.8v5.8h-5.8zM1168.6 1027.5h5.8v5.8h-5.8zM1113.7 1082.4h5.8v5.8h-5.8zM1071.0 1009.2h5.8v5.8h-5.8zM1147.3 1067.1h5.8v5.8h-5.8zM1135.1 1073.2h5.8v5.8h-5.8zM1104.6 1009.2h5.8v5.8h-5.8zM958.2 1030.5h5.8v5.8h-5.8zM1083.3 1009.2h5.8v5.8h-5.8zM1086.3 1009.2h5.8v5.8h-5.8zM1089.3 1009.2h5.8v5.8h-5.8zM1168.6 1045.8h5.8v5.8h-5.8zM939.9 1039.7h5.8v5.8h-5.8zM1110.7 1082.4h5.8v5.8h-5.8zM1150.3 1064.1h5.8v5.8h-5.8zM997.8 1021.4h5.8v5.8h-5.8zM1141.2 1015.2h5.8v5.8h-5.8zM1125.9 1076.2h5.8v5.8h-5.8zM1165.6 1048.8h5.8v5.8h-5.8zM1138.1 1070.2h5.8v5.8h-5.8zM1156.4 1058.0h5.8v5.8h-5.8zM1122.9 1012.2h5.8v5.8h-5.8zM1138.1 1015.2h5.8v5.8h-5.8zM1159.5 1054.9h5.8v5.8h-5.8zM1107.6 1082.4h5.8v5.8h-5.8zM1034.4 1015.2h5.8v5.8h-5.8zM980.5 1111.5h5.8v5.8h-5.8zM970.4 1027.5h5.8v5.8h-5.8zM1165.6 1033.6h5.8v5.8h-5.8zM985.6 1024.4h5.8v5.8h-5.8zM1095.4 1085.4h5.8v5.8h-5.8zM1061.9 1012.2h5.8v5.8h-5.8zM961.3 1030.5h5.8v5.8h-5.8zM1141.2 1067.1h5.8v5.8h-5.8zM1165.6 1036.6h5.8v5.8h-5.8zM1156.4 1024.4h5.8v5.8h-5.8zM1113.7 1079.3h5.8v5.8h-5.8zM1135.1 1070.2h5.8v5.8h-5.8zM1113.7 1012.2h5.8v5.8h-5.8zM1104.6 1082.4h5.8v5.8h-5.8zM1150.3 1021.4h5.8v5.8h-5.8zM1132.0 1015.2h5.8v5.8h-5.8zM1040.5 1015.2h5.8v5.8h-5.8zM926.4 1051.6h5.8v5.8h-5.8zM988.7 1024.4h5.8v5.8h-5.8zM1141.2 1018.3h5.8v5.8h-5.8zM973.4 1027.5h5.8v5.8h-5.8zM1119.8 1076.2h5.8v5.8h-5.8zM1129.0 1015.2h5.8v5.8h-5.8zM1101.5 1012.2h5.8v5.8h-5.8zM1162.5 1036.6h5.8v5.8h-5.8zM1098.5 1012.2h5.8v5.8h-5.8zM1080.2 1012.2h5.8v5.8h-5.8zM1010.0 1021.4h5.8v5.8h-5.8zM1095.4 1012.2h5.8v5.8h-5.8zM1132.0 1070.2h5.8v5.8h-5.8zM1089.3 1012.2h5.8v5.8h-5.8zM1125.9 1015.2h5.8v5.8h-5.8zM1046.7 1015.2h5.8v5.8h-5.8zM1089.3 1085.4h5.8v5.8h-5.8zM949.0 1036.6h5.8v5.8h-5.8zM960.6 1115.3h5.8v5.8h-5.8zM964.3 1030.5h5.8v5.8h-5.8zM1013.1 1021.4h5.8v5.8h-5.8zM976.5 1027.5h5.8v5.8h-5.8zM1098.5 1082.4h5.8v5.8h-5.8zM1119.8 1015.2h5.8v5.8h-5.8zM1052.7 1015.2h5.8v5.8h-5.8zM1086.3 1085.4h5.8v5.8h-5.8zM1129.0 1070.2h5.8v5.8h-5.8zM1113.7 1076.2h5.8v5.8h-5.8zM1095.4 1082.4h5.8v5.8h-5.8zM1156.4 1033.6h5.8v5.8h-5.8zM1150.3 1054.9h5.8v5.8h-5.8zM979.5 1027.5h5.8v5.8h-5.8zM1138.1 1064.1h5.8v5.8h-5.8zM1083.3 1085.4h5.8v5.8h-5.8zM1037.5 1018.3h5.8v5.8h-5.8zM1138.1 1021.4h5.8v5.8h-5.8zM1156.4 1042.7h5.8v5.8h-5.8zM1132.0 1067.1h5.8v5.8h-5.8zM967.3 1030.5h5.8v5.8h-5.8zM1064.9 1015.2h5.8v5.8h-5.8zM1156.4 1039.7h5.8v5.8h-5.8zM1068.0 1015.2h5.8v5.8h-5.8zM1110.7 1076.2h5.8v5.8h-5.8zM1080.2 1085.4h5.8v5.8h-5.8zM1101.5 1015.2h5.8v5.8h-5.8zM1071.0 1015.2h5.8v5.8h-5.8zM1153.4 1033.6h5.8v5.8h-5.8zM1098.5 1015.2h5.8v5.8h-5.8zM1095.4 1015.2h5.8v5.8h-5.8zM1077.1 1015.2h5.8v5.8h-5.8zM1153.4 1045.8h5.8v5.8h-5.8zM1135.1 1064.1h5.8v5.8h-5.8zM1043.6 1018.3h5.8v5.8h-5.8zM1080.2 1015.2h5.8v5.8h-5.8zM1007.0 1024.4h5.8v5.8h-5.8zM946.0 1039.7h5.8v5.8h-5.8zM952.1 1036.6h5.8v5.8h-5.8z" fill="#0000b8"/>
<path d="M1129.0 1067.1h5.8v5.8h-5.8zM1122.9 1070.2h5.8v5.8h-5.8zM985.6 1027.5h5.8v5.8h-5.8zM992.9 1104.9h5.8v5.8h-5.8zM1098.5 1079.3h5.8v5.8h-5.8zM1028.3 1021.4h5.8v5.8h-5.8zM970.4 1030.5h5.8v5.8h-5.8zM1147.3 1030.5h5.8v5.8h-5.8zM1049.7 1018.3h5.8v5.8h-5.8zM1147.3 1051.9h5.8v5.8h-5.8zM1129.0 1021.4h5.8v5.8h-5.8zM1074.1 1085.4h5.8v5.8h-5.8zM1150.3 1045.8h5.8v5.8h-5.8zM1132.0 1064.1h5.8v5.8h-5.8zM988.7 1027.5h5.8v5.8h-5.8zM1150.3 1036.6h5.8v5.8h-5.8zM1013.1 1024.4h5.8v5.8h-5.8zM1119.8 1070.2h5.8v5.8h-5.8zM1150.3 1042.7h5.8v5.8h-5.8zM1150.3 1039.7h5.8v5.8h-5.8zM1104.6 1076.2h5.8v5.8h-5.8zM961.3 1033.6h5.8v5.8h-5.8zM1071.0 1085.4h5.8v5.8h-5.8zM991.7 1027.5h5.8v5.8h-5.8zM1083.3 1082.4h5.8v5.8h-5.8zM1122.9 1021.4h5.8v5.8h-5.8zM973.4 1030.5h5.8v5.8h-5.8zM1147.3 1036.6h5.8v5.8h-5.8zM1138.1 1027.5h5.8v5.8h-5.8zM1129.0 1064.1h5.8v5.8h-5.8zM1101.5 1018.3h5.8v5.8h-5.8zM1092.4 1079.3h5.8v5.8h-5.8zM1068.0 1085.4h5.8v5.8h-5.8zM1147.3 1039.7h5.8v5.8h-5.8zM1098.5 1018.3h5.8v5.8h-5.8zM1144.3 1033.6h5.8v5.8h-5.8zM1080.2 1082.4h5.8v5.8h-5.8zM997.8 1027.5h5.8v5.8h-5.8zM1144.3 1048.8h5.8v5.8h-5.8zM1040.5 1021.4h5.8v5.8h-5.8zM1086.3 1018.3h5.8v5.8h-5.8zM1064.9 1085.4h5.8v5.8h-5.8zM1116.8 1021.4h5.8v5.8h-5.8zM1089.3 1079.3h5.8v5.8h-5.8zM1000.9 1027.5h5.8v5.8h-5.8zM976.5 1030.5h5.8v5.8h-5.8zM1098.5 1076.2h5.8v5.8h-5.8zM1077.1 1082.4h5.8v5.8h-5.8zM949.0 1039.7h5.8v5.8h-5.8zM1138.1 1030.5h5.8v5.8h-5.8zM1113.7 1021.4h5.8v5.8h-5.8zM1141.2 1033.6h5.8v5.8h-5.8zM1144.3 1039.7h5.8v5.8h-5.8zM964.3 1033.6h5.8v5.8h-5.8zM1003.9 1027.5h5.8v5.8h-5.8zM1046.7 1021.4h5.8v5.8h-5.8zM1132.0 1027.5h5.8v5.8h-5.8zM1110.7 1021.4h5.8v5.8h-5.8zM1104.6 1073.2h5.8v5.8h-5.8zM1074.1 1082.4h5.8v5.8h-5.8zM1007.0 1027.5h5.8v5.8h-5.8zM1049.7 1021.4h5.8v5.8h-5.8zM1095.4 1076.2h5.8v5.8h-5.8zM979.5 1030.5h5.8v5.8h-5.8zM1122.9 1064.1h5.8v5.8h-5.8zM1110.7 1070.2h5.8v5.8h-5.8zM1129.0 1027.5h5.8v5.8h-5.8zM1052.7 1021.4h5.8v5.8h-5.8zM939.9 1045.8h5.8v5.8h-5.8zM1010.0 1027.5h5.8v5.8h-5.8zM1119.8 1024.4h5.8v5.8h-5.8zM1141.2 1042.7h5.8v5.8h-5.8zM1031.4 1024.4h5.8v5.8h-5.8zM1083.3 1079.3h5.8v5.8h-5.8zM1071.0 1082.4h5.8v5.8h-5.8zM1055.8 1021.4h5.8v5.8h-5.8zM1101.5 1021.4h5.8v5.8h-5.8zM1055.8 1085.4h5.8v5.8h-5.8zM1101.5 1073.2h5.8v5.8h-5.8zM1013.1 1027.5h5.8v5.8h-5.8zM1092.4 1076.2h5.8v5.8h-5.8zM1125.9 1061.0h5.8v5.8h-5.8zM1132.0 1030.5h5.8v5.8h-5.8zM1138.1 1036.6h5.8v5.8h-5.8zM982.6 1030.5h5.8v5.8h-5.8zM1107.6 1070.2h5.8v5.8h-5.8zM1068.0 1082.4h5.8v5.8h-5.8zM967.3 1033.6h5.8v5.8h-5.8zM1119.8 1064.1h5.8v5.8h-5.8zM1064.9 1021.4h5.8v5.8h-5.8zM1080.2 1079.3h5.8v5.8h-5.8zM1092.4 1021.4h5.8v5.8h-5.8zM1016.1 1027.5h5.8v5.8h-5.8zM1132.0 1054.9h5.8v5.8h-5.8zM1052.7 1085.4h5.8v5.8h-5.8zM1068.0 1021.4h5.8v5.8h-5.8zM1089.3 1021.4h5.8v5.8h-5.8zM958.2 1036.6h5.8v5.8h-5.8zM1037.5 1024.4h5.8v5.8h-5.8zM1086.3 1021.4h5.8v5.8h-5.8zM1098.5 1073.2h5.8v5.8h-5.8zM1089.3 1076.2h5.8v5.8h-5.8zM1080.2 1021.4h5.8v5.8h-5.8zM1110.7 1024.4h5.8v5.8h-5.8zM1122.9 1061.0h5.8v5.8h-5.8zM1040.5 1024.4h5.8v5.8h-5.8zM1135.1 1048.8h5.8v5.8h-5.8zM1077.1 1079.3h5.8v5.8h-5.8zM1135.1 1039.7h5.8v5.8h-5.8zM1022.3 1027.5h5.8v5.8h-5.8zM1110.7 1067.1h5.8v5.8h-5.8zM1125.9 1030.5h5.8v5.8h-5.8zM952.1 1039.7h5.8v5.8h-5.8zM1135.1 1042.7h5.8v5.8h-5.8zM1061.9 1082.4h5.8v5.8h-5.8zM1046.7 1085.4h5.8v5.8h-5.8zM991.7 1030.5h5.8v5.8h-5.8z" fill="#0000cc"/>
<path d="M1074.1 1079.3h5.8v5.8h-5.8zM1132.0 1036.6h5.8v5.8h-5.8zM1129.0 1033.6h5.8v5.8h-5.8zM970.4 1033.6h5.8v5.8h-5.8zM994.8 1030.5h5.8v5.8h-5.8zM1058.8 1082.4h5.8v5.8h-5.8zM1113.7 1064.1h5.8v5.8h-5.8zM1098.5 1024.4h5.8v5.8h-5.8zM997.8 1030.5h5.8v5.8h-5.8zM1028.3 1027.5h5.8v5.8h-5.8zM1092.4 1073.2h5.8v5.8h-5.8zM1129.0 1051.9h5.8v5.8h-5.8zM1052.7 1024.4h5.8v5.8h-5.8zM1132.0 1042.7h5.8v5.8h-5.8zM1125.9 1033.6h5.8v5.8h-5.8zM1000.9 1030.5h5.8v5.8h-5.8zM1055.8 1024.4h5.8v5.8h-5.8zM1119.8 1030.5h5.8v5.8h-5.8zM1003.9 1030.5h5.8v5.8h-5.8zM1055.8 1082.4h5.8v5.8h-5.8zM1098.5 1070.2h5.8v5.8h-5.8zM1080.2 1076.2h5.8v5.8h-5.8zM1061.9 1024.4h5.8v5.8h-5.8zM1040.5 1085.4h5.8v5.8h-5.8zM1007.0 1030.5h5.8v5.8h-5.8zM1068.0 1079.3h5.8v5.8h-5.8zM1086.3 1024.4h5.8v5.8h-5.8zM1129.0 1039.7h5.8v5.8h-5.8zM1089.3 1073.2h5.8v5.8h-5.8zM1104.6 1067.1h5.8v5.8h-5.8zM1034.4 1027.5h5.8v5.8h-5.8zM973.4 1033.6h5.8v5.8h-5.8zM1080.2 1024.4h5.8v5.8h-5.8zM1129.0 1045.8h5.8v5.8h-5.8zM1010.0 1030.5h5.8v5.8h-5.8zM1077.1 1024.4h5.8v5.8h-5.8zM942.9 1045.8h5.8v5.8h-5.8zM1052.7 1082.4h5.8v5.8h-5.8zM1013.1 1030.5h5.8v5.8h-5.8zM1064.9 1079.3h5.8v5.8h-5.8zM1095.4 1070.2h5.8v5.8h-5.8zM1037.5 1085.4h5.8v5.8h-5.8zM1086.3 1073.2h5.8v5.8h-5.8zM1119.8 1033.6h5.8v5.8h-5.8zM1101.5 1027.5h5.8v5.8h-5.8zM1107.6 1064.1h5.8v5.8h-5.8zM1049.7 1082.4h5.8v5.8h-5.8zM1116.8 1058.0h5.8v5.8h-5.8zM969.1 1109.6h5.8v5.8h-5.8zM1074.1 1076.2h5.8v5.8h-5.8zM1098.5 1027.5h5.8v5.8h-5.8zM1019.2 1030.5h5.8v5.8h-5.8zM1061.9 1079.3h5.8v5.8h-5.8zM976.5 1033.6h5.8v5.8h-5.8zM955.1 1039.7h5.8v5.8h-5.8zM1034.4 1085.4h5.8v5.8h-5.8zM1083.3 1073.2h5.8v5.8h-5.8zM1095.4 1027.5h5.8v5.8h-5.8zM1022.3 1030.5h5.8v5.8h-5.8zM1046.7 1082.4h5.8v5.8h-5.8zM1107.6 1030.5h5.8v5.8h-5.8zM1098.5 1067.1h5.8v5.8h-5.8zM1049.7 1027.5h5.8v5.8h-5.8zM1104.6 1064.1h5.8v5.8h-5.8zM1071.0 1076.2h5.8v5.8h-5.8zM1122.9 1045.8h5.8v5.8h-5.8zM1113.7 1058.0h5.8v5.8h-5.8zM964.3 1036.6h5.8v5.8h-5.8zM1113.7 1033.6h5.8v5.8h-5.8zM939.9 1048.8h5.8v5.8h-5.8zM979.5 1033.6h5.8v5.8h-5.8zM1089.3 1070.2h5.8v5.8h-5.8zM1116.8 1054.9h5.8v5.8h-5.8zM1080.2 1073.2h5.8v5.8h-5.8zM1031.4 1085.4h5.8v5.8h-5.8zM1119.8 1039.7h5.8v5.8h-5.8zM1043.6 1082.4h5.8v5.8h-5.8zM1116.8 1036.6h5.8v5.8h-5.8zM1028.3 1030.5h5.8v5.8h-5.8zM1080.2 1027.5h5.8v5.8h-5.8zM1107.6 1061.0h5.8v5.8h-5.8zM1068.0 1076.2h5.8v5.8h-5.8zM1055.8 1079.3h5.8v5.8h-5.8zM1095.4 1067.1h5.8v5.8h-5.8zM1064.9 1027.5h5.8v5.8h-5.8zM1068.0 1027.5h5.8v5.8h-5.8zM1071.0 1027.5h5.8v5.8h-5.8zM1101.5 1064.1h5.8v5.8h-5.8zM1119.8 1042.7h5.8v5.8h-5.8zM1119.8 1045.8h5.8v5.8h-5.8zM982.6 1033.6h5.8v5.8h-5.8zM1077.1 1073.2h5.8v5.8h-5.8zM1086.3 1070.2h5.8v5.8h-5.8zM1110.7 1058.0h5.8v5.8h-5.8zM1116.8 1039.7h5.8v5.8h-5.8zM1034.4 1030.5h5.8v5.8h-5.8zM1064.9 1076.2h5.8v5.8h-5.8zM1052.7 1079.3h5.8v5.8h-5.8zM1028.3 1085.4h5.8v5.8h-5.8zM1092.4 1067.1h5.8v5.8h-5.8zM985.6 1033.6h5.8v5.8h-5.8zM936.8 1051.9h5.8v5.8h-5.8zM1074.1 1073.2h5.8v5.8h-5.8zM1116.8 1045.8h5.8v5.8h-5.8zM1104.6 1033.6h5.8v5.8h-5.8zM988.7 1033.6h5.8v5.8h-5.8zM1113.7 1051.9h5.8v5.8h-5.8zM959.6 1110.6h5.8v5.8h-5.8zM1040.5 1030.5h5.8v5.8h-5.8zM1061.9 1076.2h5.8v5.8h-5.8zM991.7 1033.6h5.8v5.8h-5.8zM967.3 1036.6h5.8v5.8h-5.8zM1037.5 1082.4h5.8v5.8h-5.8zM1089.3 1030.5h5.8v5.8h-5.8zM994.8 1033.6h5.8v5.8h-5.8zM997.8 1033.6h5.8v5.8h-5.8zM1000.9 1033.6h5.8v5.8h-5.8zM1003.9 1033.6h5.8v5.8h-5.8zM1007.0 1033.6h5.8v5.8h-5.8zM1010.0 1033.6h5.8v5.8h-5.8zM1086.3 1030.5h5.8v5.8h-5.8zM958.2 1039.7h5.8v5.8h-5.8zM1071.0 1073.2h5.8v5.8h-5.8z" fill="#0000e0"/>
<path d="M1113.7 1042.7h5.8v5.8h-5.8zM1013.1 1033.6h5.8v5.8h-5.8zM1095.4 1064.1h5.8v5.8h-5.8zM1107.6 1036.6h5.8v5.8h-5.8zM1080.2 1070.2h5.8v5.8h-5.8zM946.0 1045.8h5.8v5.8h-5.8zM1113.7 1045.8h5.8v5.8h-5.8zM1016.1 1033.6h5.8v5.8h-5.8zM1058.8 1076.2h5.8v5.8h-5.8zM1049.7 1030.5h5.8v5.8h-5.8zM1104.6 1058.0h5.8v5.8h-5.8zM1080.2 1030.5h5.8v5.8h-5.8zM1110.7 1051.9h5.8v5.8h-5.8zM1046.7 1079.3h5.8v5.8h-5.8zM1019.2 1033.6h5.8v5.8h-5.8zM1107.6 1054.9h5.8v5.8h-5.8zM1077.1 1030.5h5.8v5.8h-5.8zM1086.3 1067.1h5.8v5.8h-5.8zM1104.6 1036.6h5.8v5.8h-5.8zM1034.4 1082.4h5.8v5.8h-5.8zM1068.0 1073.2h5.8v5.8h-5.8zM1058.8 1030.5h5.8v5.8h-5.8zM1022.3 1033.6h5.8v5.8h-5.8zM1068.0 1030.5h5.8v5.8h-5.8zM1077.1 1070.2h5.8v5.8h-5.8zM1092.4 1064.1h5.8v5.8h-5.8zM1110.7 1048.8h5.8v5.8h-5.8zM952.1 1042.7h5.8v5.8h-5.8zM1107.6 1039.7h5.8v5.8h-5.8zM933.0 1056.4h5.8v5.8h-5.8zM1055.8 1076.2h5.8v5.8h-5.8zM1025.3 1033.6h5.8v5.8h-5.8zM1101.5 1036.6h5.8v5.8h-5.8zM1043.6 1079.3h5.8v5.8h-5.8zM970.4 1036.6h5.8v5.8h-5.8zM1083.3 1067.1h5.8v5.8h-5.8zM1064.9 1073.2h5.8v5.8h-5.8zM923.5 1069.7h5.8v5.8h-5.8zM1107.6 1042.7h5.8v5.8h-5.8zM1074.1 1070.2h5.8v5.8h-5.8zM1022.3 1085.4h5.8v5.8h-5.8zM1104.6 1039.7h5.8v5.8h-5.8zM1095.4 1061.0h5.8v5.8h-5.8zM1031.4 1082.4h5.8v5.8h-5.8zM1098.5 1036.6h5.8v5.8h-5.8zM1031.4 1033.6h5.8v5.8h-5.8zM1107.6 1045.8h5.8v5.8h-5.8zM1052.7 1076.2h5.8v5.8h-5.8zM1086.3 1033.6h5.8v5.8h-5.8zM1034.4 1033.6h5.8v5.8h-5.8zM1098.5 1058.0h5.8v5.8h-5.8zM1061.9 1073.2h5.8v5.8h-5.8zM1040.5 1079.3h5.8v5.8h-5.8zM1101.5 1039.7h5.8v5.8h-5.8zM1071.0 1070.2h5.8v5.8h-5.8zM1037.5 1033.6h5.8v5.8h-5.8zM1092.4 1061.0h5.8v5.8h-5.8zM1086.3 1064.1h5.8v5.8h-5.8zM1040.5 1033.6h5.8v5.8h-5.8zM942.9 1048.8h5.8v5.8h-5.8zM1049.7 1076.2h5.8v5.8h-5.8zM1077.1 1033.6h5.8v5.8h-5.8zM1092.4 1036.6h5.8v5.8h-5.8zM1074.1 1033.6h5.8v5.8h-5.8zM973.4 1036.6h5.8v5.8h-5.8zM961.3 1039.7h5.8v5.8h-5.8zM1095.4 1058.0h5.8v5.8h-5.8zM1077.1 1067.1h5.8v5.8h-5.8zM1101.5 1042.7h5.8v5.8h-5.8zM1058.8 1073.2h5.8v5.8h-5.8zM1101.5 1051.9h5.8v5.8h-5.8zM1071.0 1033.6h5.8v5.8h-5.8zM1068.0 1070.2h5.8v5.8h-5.8zM1068.0 1033.6h5.8v5.8h-5.8zM1089.3 1036.6h5.8v5.8h-5.8zM1049.7 1033.6h5.8v5.8h-5.8zM1064.9 1033.6h5.8v5.8h-5.8zM1089.3 1061.0h5.8v5.8h-5.8zM1052.7 1033.6h5.8v5.8h-5.8zM1061.9 1033.6h5.8v5.8h-5.8zM1101.5 1045.8h5.8v5.8h-5.8zM1019.2 1085.4h5.8v5.8h-5.8zM1046.7 1076.2h5.8v5.8h-5.8zM1098.5 1042.7h5.8v5.8h-5.8zM1074.1 1067.1h5.8v5.8h-5.8zM1092.4 1058.0h5.8v5.8h-5.8zM1098.5 1051.9h5.8v5.8h-5.8zM1055.8 1073.2h5.8v5.8h-5.8zM1064.9 1070.2h5.8v5.8h-5.8zM1095.4 1054.9h5.8v5.8h-5.8zM1083.3 1036.6h5.8v5.8h-5.8zM1092.4 1039.7h5.8v5.8h-5.8zM1080.2 1064.1h5.8v5.8h-5.8zM1086.3 1061.0h5.8v5.8h-5.8zM976.5 1036.6h5.8v5.8h-5.8zM1016.1 1036.6h5.8v5.8h-5.8zM1013.1 1036.6h5.8v5.8h-5.8zM1019.2 1036.6h5.8v5.8h-5.8zM1010.0 1036.6h5.8v5.8h-5.8zM1089.3 1039.7h5.8v5.8h-5.8zM1071.0 1067.1h5.8v5.8h-5.8zM1043.6 1076.2h5.8v5.8h-5.8zM1022.3 1036.6h5.8v5.8h-5.8zM1089.3 1058.0h5.8v5.8h-5.8zM1095.4 1051.9h5.8v5.8h-5.8zM939.9 1051.9h5.8v5.8h-5.8zM1077.1 1036.6h5.8v5.8h-5.8zM1007.0 1036.6h5.8v5.8h-5.8zM1061.9 1070.2h5.8v5.8h-5.8zM949.0 1045.8h5.8v5.8h-5.8zM1092.4 1054.9h5.8v5.8h-5.8zM1025.3 1036.6h5.8v5.8h-5.8zM1095.4 1045.8h5.8v5.8h-5.8zM926.4 1099.7h5.8v5.8h-5.8zM1077.1 1064.1h5.8v5.8h-5.8zM1095.4 1048.8h5.8v5.8h-5.8zM1003.9 1036.6h5.8v5.8h-5.8zM1074.1 1036.6h5.8v5.8h-5.8zM1092.4 1042.7h5.8v5.8h-5.8z" fill="#0000f4"/>
<path d="M1028.3 1036.6h5.8v5.8h-5.8zM1086.3 1039.7h5.8v5.8h-5.8zM979.5 1036.6h5.8v5.8h-5.8zM1071.0 1036.6h5.8v5.8h-5.8zM1031.4 1036.6h5.8v5.8h-5.8zM1000.9 1036.6h5.8v5.8h-5.8zM1068.0 1067.1h5.8v5.8h-5.8zM1092.4 1051.9h5.8v5.8h-5.8zM1083.3 1039.7h5.8v5.8h-5.8zM1092.4 1045.8h5.8v5.8h-5.8zM1016.1 1085.4h5.8v5.8h-5.8zM1089.3 1054.9h5.8v5.8h-5.8zM1058.8 1070.2h5.8v5.8h-5.8zM1064.9 1036.6h5.8v5.8h-5.8zM997.8 1036.6h5.8v5.8h-5.8zM1037.5 1036.6h5.8v5.8h-5.8zM1092.4 1048.8h5.8v5.8h-5.8zM1040.5 1076.2h5.8v5.8h-5.8zM1049.7 1073.2h5.8v5.8h-5.8zM1074.1 1064.1h5.8v5.8h-5.8zM1031.4 1079.3h5.8v5.8h-5.8zM1080.2 1061.0h5.8v5.8h-5.8zM1061.9 1036.6h5.8v5.8h-5.8zM964.3 1039.7h5.8v5.8h-5.8zM982.6 1036.6h5.8v5.8h-5.8zM1058.8 1036.6h5.8v5.8h-5.8zM1080.2 1039.7h5.8v5.8h-5.8zM1043.6 1036.6h5.8v5.8h-5.8zM1055.8 1036.6h5.8v5.8h-5.8zM994.8 1036.6h5.8v5.8h-5.8zM1046.7 1036.6h5.8v5.8h-5.8zM1052.7 1036.6h5.8v5.8h-5.8zM953.0 1109.2h5.8v5.8h-5.8zM1049.7 1036.6h5.8v5.8h-5.8zM1086.3 1042.7h5.8v5.8h-5.8zM972.9 1105.8h5.8v5.8h-5.8zM1089.3 1045.8h5.8v5.8h-5.8zM1089.3 1051.9h5.8v5.8h-5.8zM1064.9 1067.1h5.8v5.8h-5.8zM985.6 1036.6h5.8v5.8h-5.8zM1083.3 1058.0h5.8v5.8h-5.8zM991.7 1036.6h5.8v5.8h-5.8zM1077.1 1039.7h5.8v5.8h-5.8zM988.7 1036.6h5.8v5.8h-5.8zM1086.3 1054.9h5.8v5.8h-5.8zM1089.3 1048.8h5.8v5.8h-5.8zM1071.0 1064.1h5.8v5.8h-5.8zM1055.8 1070.2h5.8v5.8h-5.8zM1077.1 1061.0h5.8v5.8h-5.8zM1083.3 1042.7h5.8v5.8h-5.8zM1074.1 1039.7h5.8v5.8h-5.8zM1046.7 1073.2h5.8v5.8h-5.8zM1037.5 1076.2h5.8v5.8h-5.8zM1086.3 1051.9h5.8v5.8h-5.8zM1080.2 1058.0h5.8v5.8h-5.8zM1071.0 1039.7h5.8v5.8h-5.8zM1061.9 1067.1h5.8v5.8h-5.8zM1086.3 1048.8h5.8v5.8h-5.8zM1083.3 1054.9h5.8v5.8h-5.8zM1080.2 1042.7h5.8v5.8h-5.8zM1028.3 1079.3h5.8v5.8h-5.8zM1074.1 1061.0h5.8v5.8h-5.8zM1068.0 1064.1h5.8v5.8h-5.8zM1068.0 1039.7h5.8v5.8h-5.8zM1083.3 1045.8h5.8v5.8h-5.8zM1052.7 1070.2h5.8v5.8h-5.8zM1077.1 1042.7h5.8v5.8h-5.8zM1083.3 1051.9h5.8v5.8h-5.8zM1064.9 1039.7h5.8v5.8h-5.8zM1083.3 1048.8h5.8v5.8h-5.8zM1077.1 1058.0h5.8v5.8h-5.8zM1043.6 1073.2h5.8v5.8h-5.8zM1080.2 1054.9h5.8v5.8h-5.8zM1061.9 1039.7h5.8v5.8h-5.8zM1058.8 1067.1h5.8v5.8h-5.8zM1080.2 1045.8h5.8v5.8h-5.8zM1074.1 1042.7h5.8v5.8h-5.8zM1071.0 1061.0h5.8v5.8h-5.8zM1058.8 1039.7h5.8v5.8h-5.8zM1064.9 1064.1h5.8v5.8h-5.8zM1034.4 1076.2h5.8v5.8h-5.8zM946.0 1048.8h5.8v5.8h-5.8zM967.3 1039.7h5.8v5.8h-5.8zM1055.8 1039.7h5.8v5.8h-5.8zM1080.2 1048.8h5.8v5.8h-5.8zM1049.7 1070.2h5.8v5.8h-5.8zM1071.0 1042.7h5.8v5.8h-5.8zM1052.7 1039.7h5.8v5.8h-5.8zM1077.1 1045.8h5.8v5.8h-5.8zM1074.1 1058.0h5.8v5.8h-5.8zM1077.1 1054.9h5.8v5.8h-5.8zM1022.3 1039.7h5.8v5.8h-5.8zM1025.3 1039.7h5.8v5.8h-5.8zM1049.7 1039.7h5.8v5.8h-5.8zM1028.3 1039.7h5.8v5.8h-5.8zM1019.2 1039.7h5.8v5.8h-5.8zM1031.4 1039.7h5.8v5.8h-5.8zM1046.7 1039.7h5.8v5.8h-5.8zM1034.4 1039.7h5.8v5.8h-5.8zM1043.6 1039.7h5.8v5.8h-5.8zM1016.1 1039.7h5.8v5.8h-5.8zM1037.5 1039.7h5.8v5.8h-5.8zM1040.5 1039.7h5.8v5.8h-5.8zM1055.8 1067.1h5.8v5.8h-5.8zM1025.3 1079.3h5.8v5.8h-5.8zM1068.0 1061.0h5.8v5.8h-5.8zM1068.0 1042.7h5.8v5.8h-5.8zM1040.5 1073.2h5.8v5.8h-5.8zM1077.1 1048.8h5.8v5.8h-5.8zM1061.9 1064.1h5.8v5.8h-5.8zM1077.1 1051.9h5.8v5.8h-5.8zM1074.1 1045.8h5.8v5.8h-5.8zM1013.1 1039.7h5.8v5.8h-5.8zM1064.9 1042.7h5.8v5.8h-5.8zM922.6 1086.8h5.8v5.8h-5.8zM1074.1 1054.9h5.8v5.8h-5.8zM1010.0 1039.7h5.8v5.8h-5.8zM1071.0 1045.8h5.8v5.8h-5.8zM1074.1 1048.8h5.8v5.8h-5.8zM1031.4 1076.2h5.8v5.8h-5.8zM1061.9 1042.7h5.8v5.8h-5.8zM1074.1 1051.9h5.8v5.8h-5.8zM952.1 1045.8h5.8v5.8h-5.8zM1064.9 1061.0h5.8v5.8h-5.8zM1052.7 1067.1h5.8v5.8h-5.8zM1058.8 1064.1h5.8v5.8h-5.8zM1058.8 1042.7h5.8v5.8h-5.8zM1071.0 1054.9h5.8v5.8h-5.8zM1068.0 1058.0h5.8v5.8h-5.8zM1068.0 1045.8h5.8v5.8h-5.8zM1007.0 1039.7h5.8v5.8h-5.8zM1071.0 1048.8h5.8v5.8h-5.8zM1037.5 1073.2h5.8v5.8h-5.8z" fill="#0009ff"/>
<path d="M1071.0 1051.9h5.8v5.8h-5.8zM1055.8 1042.7h5.8v5.8h-5.8zM970.4 1039.7h5.8v5.8h-5.8zM1064.9 1045.8h5.8v5.8h-5.8zM1061.9 1061.0h5.8v5.8h-5.8zM1052.7 1042.7h5.8v5.8h-5.8zM1043.6 1070.2h5.8v5.8h-5.8zM1003.9 1039.7h5.8v5.8h-5.8zM1068.0 1054.9h5.8v5.8h-5.8zM1068.0 1048.8h5.8v5.8h-5.8zM1055.8 1064.1h5.8v5.8h-5.8zM1064.9 1058.0h5.8v5.8h-5.8zM1022.3 1079.3h5.8v5.8h-5.8zM1049.7 1067.1h5.8v5.8h-5.8zM1016.1 1082.4h5.8v5.8h-5.8zM1049.7 1042.7h5.8v5.8h-5.8zM942.9 1051.9h5.8v5.8h-5.8zM1068.0 1051.9h5.8v5.8h-5.8zM1061.9 1045.8h5.8v5.8h-5.8zM1046.7 1042.7h5.8v5.8h-5.8zM1028.3 1076.2h5.8v5.8h-5.8zM1064.9 1048.8h5.8v5.8h-5.8zM1043.6 1042.7h5.8v5.8h-5.8zM1058.8 1061.0h5.8v5.8h-5.8zM1064.9 1054.9h5.8v5.8h-5.8zM1058.8 1045.8h5.8v5.8h-5.8zM1000.9 1039.7h5.8v5.8h-5.8zM1040.5 1042.7h5.8v5.8h-5.8zM1034.4 1073.2h5.8v5.8h-5.8zM1061.9 1058.0h5.8v5.8h-5.8zM1064.9 1051.9h5.8v5.8h-5.8zM1010.0 1085.4h5.8v5.8h-5.8zM1037.5 1042.7h5.8v5.8h-5.8zM1052.7 1064.1h5.8v5.8h-5.8zM1034.4 1042.7h5.8v5.8h-5.8zM1040.5 1070.2h5.8v5.8h-5.8zM1061.9 1048.8h5.8v5.8h-5.8zM1055.8 1045.8h5.8v5.8h-5.8zM1046.7 1067.1h5.8v5.8h-5.8zM924.5 1077.3h5.8v5.8h-5.8zM1031.4 1042.7h5.8v5.8h-5.8zM973.4 1039.7h5.8v5.8h-5.8zM1028.3 1042.7h5.8v5.8h-5.8zM1061.9 1054.9h5.8v5.8h-5.8zM1025.3 1042.7h5.8v5.8h-5.8zM1055.8 1061.0h5.8v5.8h-5.8zM1061.9 1051.9h5.8v5.8h-5.8zM997.8 1039.7h5.8v5.8h-5.8zM1052.7 1045.8h5.8v5.8h-5.8zM1058.8 1058.0h5.8v5.8h-5.8zM1058.8 1048.8h5.8v5.8h-5.8zM1022.3 1042.7h5.8v5.8h-5.8zM961.3 1042.7h5.8v5.8h-5.8zM939.9 1054.9h5.8v5.8h-5.8zM1049.7 1045.8h5.8v5.8h-5.8zM1049.7 1064.1h5.8v5.8h-5.8zM1019.2 1042.7h5.8v5.8h-5.8zM1058.8 1054.9h5.8v5.8h-5.8zM1058.8 1051.9h5.8v5.8h-5.8zM1025.3 1076.2h5.8v5.8h-5.8zM930.2 1065.9h5.8v5.8h-5.8zM1055.8 1048.8h5.8v5.8h-5.8zM1043.6 1067.1h5.8v5.8h-5.8zM1031.4 1073.2h5.8v5.8h-5.8zM994.8 1039.7h5.8v5.8h-5.8zM1037.5 1070.2h5.8v5.8h-5.8zM1019.2 1079.3h5.8v5.8h-5.8zM1046.7 1045.8h5.8v5.8h-5.8zM1052.7 1061.0h5.8v5.8h-5.8zM1016.1 1042.7h5.8v5.8h-5.8zM1055.8 1058.0h5.8v5.8h-5.8zM976.5 1039.7h5.8v5.8h-5.8zM936.8 1058.0h5.8v5.8h-5.8zM1043.6 1045.8h5.8v5.8h-5.8zM1052.7 1048.8h5.8v5.8h-5.8zM1055.8 1051.9h5.8v5.8h-5.8zM1055.8 1054.9h5.8v5.8h-5.8zM991.7 1039.7h5.8v5.8h-5.8zM1013.1 1042.7h5.8v5.8h-5.8zM1040.5 1045.8h5.8v5.8h-5.8zM1013.1 1082.4h5.8v5.8h-5.8zM949.0 1048.8h5.8v5.8h-5.8zM979.5 1039.7h5.8v5.8h-5.8zM1052.7 1058.0h5.8v5.8h-5.8zM1049.7 1048.8h5.8v5.8h-5.8zM1049.7 1061.0h5.8v5.8h-5.8zM1037.5 1045.8h5.8v5.8h-5.8zM1040.5 1067.1h5.8v5.8h-5.8zM988.7 1039.7h5.8v5.8h-5.8zM1052.7 1051.9h5.8v5.8h-5.8zM955.1 1045.8h5.8v5.8h-5.8zM1052.7 1054.9h5.8v5.8h-5.8zM1034.4 1070.2h5.8v5.8h-5.8zM1034.4 1045.8h5.8v5.8h-5.8zM985.6 1039.7h5.8v5.8h-5.8zM1010.0 1042.7h5.8v5.8h-5.8z" fill="#001dff"/>
<path d="M1046.7 1048.8h5.8v5.8h-5.8zM1028.3 1073.2h5.8v5.8h-5.8zM1031.4 1045.8h5.8v5.8h-5.8zM1043.6 1064.1h5.8v5.8h-5.8zM1049.7 1051.9h5.8v5.8h-5.8zM1049.7 1058.0h5.8v5.8h-5.8zM1022.3 1076.2h5.8v5.8h-5.8zM1046.7 1061.0h5.8v5.8h-5.8zM1028.3 1045.8h5.8v5.8h-5.8zM1043.6 1048.8h5.8v5.8h-5.8zM1049.7 1054.9h5.8v5.8h-5.8zM1007.0 1042.7h5.8v5.8h-5.8zM1037.5 1067.1h5.8v5.8h-5.8zM1007.0 1085.4h5.8v5.8h-5.8zM1025.3 1045.8h5.8v5.8h-5.8zM1046.7 1051.9h5.8v5.8h-5.8zM964.3 1042.7h5.8v5.8h-5.8zM1040.5 1048.8h5.8v5.8h-5.8zM1016.1 1079.3h5.8v5.8h-5.8zM1046.7 1058.0h5.8v5.8h-5.8zM1031.4 1070.2h5.8v5.8h-5.8zM1022.3 1045.8h5.8v5.8h-5.8zM1040.5 1064.1h5.8v5.8h-5.8zM1046.7 1054.9h5.8v5.8h-5.8zM1043.6 1061.0h5.8v5.8h-5.8zM1037.5 1048.8h5.8v5.8h-5.8zM1025.3 1073.2h5.8v5.8h-5.8zM1003.9 1042.7h5.8v5.8h-5.8zM1019.2 1045.8h5.8v5.8h-5.8zM1034.4 1048.8h5.8v5.8h-5.8zM1034.4 1067.1h5.8v5.8h-5.8zM1043.6 1058.0h5.8v5.8h-5.8zM1043.6 1054.9h5.8v5.8h-5.8zM1040.5 1051.9h5.8v5.8h-5.8zM1040.5 1061.0h5.8v5.8h-5.8zM1037.5 1064.1h5.8v5.8h-5.8zM1031.4 1048.8h5.8v5.8h-5.8zM1016.1 1045.8h5.8v5.8h-5.8zM946.0 1051.9h5.8v5.8h-5.8zM1019.2 1076.2h5.8v5.8h-5.8zM1037.5 1051.9h5.8v5.8h-5.8zM1040.5 1054.9h5.8v5.8h-5.8zM1000.9 1042.7h5.8v5.8h-5.8zM1028.3 1048.8h5.8v5.8h-5.8zM1040.5 1058.0h5.8v5.8h-5.8zM1013.1 1045.8h5.8v5.8h-5.8zM967.3 1042.7h5.8v5.8h-5.8zM1031.4 1067.1h5.8v5.8h-5.8zM1037.5 1061.0h5.8v5.8h-5.8zM1034.4 1051.9h5.8v5.8h-5.8zM1025.3 1048.8h5.8v5.8h-5.8zM1034.4 1064.1h5.8v5.8h-5.8zM1022.3 1073.2h5.8v5.8h-5.8zM1037.5 1054.9h5.8v5.8h-5.8zM958.2 1045.8h5.8v5.8h-5.8zM1037.5 1058.0h5.8v5.8h-5.8z" fill="#0031ff"/>
<path d="M1013.1 1079.3h5.8v5.8h-5.8zM997.8 1042.7h5.8v5.8h-5.8zM1022.3 1048.8h5.8v5.8h-5.8zM1031.4 1051.9h5.8v5.8h-5.8zM953.0 1105.8h5.8v5.8h-5.8zM1010.0 1045.8h5.8v5.8h-5.8zM1025.3 1070.2h5.8v5.8h-5.8zM952.1 1048.8h5.8v5.8h-5.8zM1034.4 1054.9h5.8v5.8h-5.8zM1034.4 1061.0h5.8v5.8h-5.8zM1028.3 1067.1h5.8v5.8h-5.8zM1034.4 1058.0h5.8v5.8h-5.8zM1031.4 1064.1h5.8v5.8h-5.8zM1028.3 1051.9h5.8v5.8h-5.8zM1019.2 1048.8h5.8v5.8h-5.8zM1003.9 1085.4h5.8v5.8h-5.8zM1016.1 1076.2h5.8v5.8h-5.8zM978.6 1100.1h5.8v5.8h-5.8zM970.4 1042.7h5.8v5.8h-5.8zM994.8 1042.7h5.8v5.8h-5.8zM1031.4 1054.9h5.8v5.8h-5.8zM1007.0 1045.8h5.8v5.8h-5.8zM1031.4 1061.0h5.8v5.8h-5.8zM939.9 1058.0h5.8v5.8h-5.8zM1019.2 1073.2h5.8v5.8h-5.8zM1031.4 1058.0h5.8v5.8h-5.8zM1016.1 1048.8h5.8v5.8h-5.8zM1028.3 1054.9h5.8v5.8h-5.8zM1028.3 1064.1h5.8v5.8h-5.8zM991.7 1042.7h5.8v5.8h-5.8zM1007.0 1082.4h5.8v5.8h-5.8zM1025.3 1067.1h5.8v5.8h-5.8zM1022.3 1051.9h5.8v5.8h-5.8zM973.4 1042.7h5.8v5.8h-5.8zM1028.3 1058.0h5.8v5.8h-5.8zM1028.3 1061.0h5.8v5.8h-5.8zM1013.1 1048.8h5.8v5.8h-5.8zM988.7 1042.7h5.8v5.8h-5.8zM1025.3 1054.9h5.8v5.8h-5.8z" fill="#0045ff"/>
<path d="M1010.0 1079.3h5.8v5.8h-5.8zM961.3 1045.8h5.8v5.8h-5.8zM1019.2 1051.9h5.8v5.8h-5.8zM976.5 1042.7h5.8v5.8h-5.8zM1025.3 1064.1h5.8v5.8h-5.8zM985.6 1042.7h5.8v5.8h-5.8zM1025.3 1058.0h5.8v5.8h-5.8zM979.5 1042.7h5.8v5.8h-5.8zM982.6 1042.7h5.8v5.8h-5.8zM949.0 1051.9h5.8v5.8h-5.8zM1022.3 1067.1h5.8v5.8h-5.8zM1025.3 1061.0h5.8v5.8h-5.8zM1016.1 1073.2h5.8v5.8h-5.8zM1010.0 1048.8h5.8v5.8h-5.8zM1019.2 1070.2h5.8v5.8h-5.8zM1000.9 1045.8h5.8v5.8h-5.8zM1016.1 1051.9h5.8v5.8h-5.8zM955.1 1048.8h5.8v5.8h-5.8zM1022.3 1064.1h5.8v5.8h-5.8zM1022.3 1058.0h5.8v5.8h-5.8zM1000.9 1085.4h5.8v5.8h-5.8zM1019.2 1054.9h5.8v5.8h-5.8zM1022.3 1061.0h5.8v5.8h-5.8zM1007.0 1048.8h5.8v5.8h-5.8zM928.3 1081.1h5.8v5.8h-5.8zM997.8 1045.8h5.8v5.8h-5.8zM1013.1 1051.9h5.8v5.8h-5.8zM1019.2 1067.1h5.8v5.8h-5.8zM964.3 1045.8h5.8v5.8h-5.8z" fill="#0059ff"/>
<path d="M1003.9 1082.4h5.8v5.8h-5.8zM1016.1 1070.2h5.8v5.8h-5.8zM946.0 1054.9h5.8v5.8h-5.8zM1019.2 1058.0h5.8v5.8h-5.8zM1016.1 1054.9h5.8v5.8h-5.8zM1007.0 1079.3h5.8v5.8h-5.8zM1013.1 1073.2h5.8v5.8h-5.8zM1019.2 1064.1h5.8v5.8h-5.8zM1010.0 1076.2h5.8v5.8h-5.8zM1019.2 1061.0h5.8v5.8h-5.8zM994.8 1045.8h5.8v5.8h-5.8zM1003.9 1048.8h5.8v5.8h-5.8zM1010.0 1051.9h5.8v5.8h-5.8zM936.8 1064.1h5.8v5.8h-5.8zM942.9 1058.0h5.8v5.8h-5.8zM966.3 1102.0h5.8v5.8h-5.8zM1016.1 1067.1h5.8v5.8h-5.8zM1016.1 1058.0h5.8v5.8h-5.8zM967.3 1045.8h5.8v5.8h-5.8zM1013.1 1054.9h5.8v5.8h-5.8zM939.9 1061.0h5.8v5.8h-5.8zM958.2 1048.8h5.8v5.8h-5.8zM991.7 1045.8h5.8v5.8h-5.8z" fill="#006dff"/>
<path d="M1016.1 1064.1h5.8v5.8h-5.8zM1016.1 1061.0h5.8v5.8h-5.8zM1000.9 1048.8h5.8v5.8h-5.8zM1007.0 1051.9h5.8v5.8h-5.8zM997.8 1085.4h5.8v5.8h-5.8zM970.4 1045.8h5.8v5.8h-5.8zM1010.0 1073.2h5.8v5.8h-5.8zM988.7 1045.8h5.8v5.8h-5.8zM1013.1 1058.0h5.8v5.8h-5.8zM1010.0 1054.9h5.8v5.8h-5.8zM1013.1 1067.1h5.8v5.8h-5.8zM1007.0 1076.2h5.8v5.8h-5.8zM1000.9 1082.4h5.8v5.8h-5.8zM1003.9 1079.3h5.8v5.8h-5.8zM985.6 1045.8h5.8v5.8h-5.8zM1013.1 1061.0h5.8v5.8h-5.8zM973.4 1045.8h5.8v5.8h-5.8zM997.8 1048.8h5.8v5.8h-5.8zM1013.1 1064.1h5.8v5.8h-5.8zM1003.9 1051.9h5.8v5.8h-5.8z" fill="#0081ff"/>
<path d="M982.6 1045.8h5.8v5.8h-5.8zM976.5 1045.8h5.8v5.8h-5.8zM979.5 1045.8h5.8v5.8h-5.8zM949.0 1054.9h5.8v5.8h-5.8zM961.3 1048.8h5.8v5.8h-5.8zM1010.0 1058.0h5.8v5.8h-5.8zM1007.0 1054.9h5.8v5.8h-5.8zM982.6 1094.6h5.8v5.8h-5.8zM994.8 1048.8h5.8v5.8h-5.8zM1010.0 1067.1h5.8v5.8h-5.8zM1010.0 1061.0h5.8v5.8h-5.8zM955.1 1051.9h5.8v5.8h-5.8zM991.7 1088.5h5.8v5.8h-5.8zM1007.0 1073.2h5.8v5.8h-5.8zM1000.9 1051.9h5.8v5.8h-5.8z" fill="#0095ff"/>
<path d="M1010.0 1064.1h5.8v5.8h-5.8zM946.0 1058.0h5.8v5.8h-5.8zM1003.9 1076.2h5.8v5.8h-5.8zM1007.0 1058.0h5.8v5.8h-5.8zM1003.9 1054.9h5.8v5.8h-5.8zM991.7 1048.8h5.8v5.8h-5.8zM964.3 1048.8h5.8v5.8h-5.8zM942.9 1061.0h5.8v5.8h-5.8zM1000.9 1079.3h5.8v5.8h-5.8zM997.8 1082.4h5.8v5.8h-5.8zM1007.0 1070.2h5.8v5.8h-5.8zM973.4 1097.6h5.8v5.8h-5.8zM997.8 1051.9h5.8v5.8h-5.8zM1007.0 1061.0h5.8v5.8h-5.8z" fill="#00aaff"/>
<path d="M1007.0 1067.1h5.8v5.8h-5.8zM988.7 1048.8h5.8v5.8h-5.8zM1007.0 1064.1h5.8v5.8h-5.8zM967.3 1048.8h5.8v5.8h-5.8zM1000.9 1054.9h5.8v5.8h-5.8zM1003.9 1058.0h5.8v5.8h-5.8zM1003.9 1073.2h5.8v5.8h-5.8zM958.2 1051.9h5.8v5.8h-5.8zM936.8 1070.2h5.8v5.8h-5.8zM985.6 1048.8h5.8v5.8h-5.8z" fill="#00beff"/>
<path d="M994.8 1051.9h5.8v5.8h-5.8zM1000.9 1076.2h5.8v5.8h-5.8zM982.6 1048.8h5.8v5.8h-5.8zM1003.9 1061.0h5.8v5.8h-5.8zM973.4 1048.8h5.8v5.8h-5.8zM949.0 1058.0h5.8v5.8h-5.8zM976.5 1048.8h5.8v5.8h-5.8zM991.7 1085.4h5.8v5.8h-5.8zM997.8 1054.9h5.8v5.8h-5.8zM1003.9 1064.1h5.8v5.8h-5.8zM1003.9 1067.1h5.8v5.8h-5.8zM1000.9 1058.0h5.8v5.8h-5.8z" fill="#00d2ff"/>
<path d="M994.8 1082.4h5.8v5.8h-5.8zM991.7 1051.9h5.8v5.8h-5.8zM934.9 1079.2h5.8v5.8h-5.8zM1000.9 1073.2h5.8v5.8h-5.8zM955.1 1054.9h5.8v5.8h-5.8z" fill="#00e6ff"/>
<path d="M1000.9 1061.0h5.8v5.8h-5.8zM988.7 1051.9h5.8v5.8h-5.8zM994.8 1054.9h5.8v5.8h-5.8zM1000.9 1070.2h5.8v5.8h-5.8zM997.8 1058.0h5.8v5.8h-5.8zM964.3 1051.9h5.8v5.8h-5.8zM985.6 1088.5h5.8v5.8h-5.8zM997.8 1076.2h5.8v5.8h-5.8zM1000.9 1064.1h5.8v5.8h-5.8zM936.8 1088.5h5.8v5.8h-5.8zM1000.9 1067.1h5.8v5.8h-5.8zM949.0 1097.6h5.8v5.8h-5.8z" fill="#00faff"/>
<path d="M936.8 1076.2h5.8v5.8h-5.8zM985.6 1051.9h5.8v5.8h-5.8zM973.4 1094.6h5.8v5.8h-5.8zM939.9 1070.2h5.8v5.8h-5.8zM994.8 1079.3h5.8v5.8h-5.8zM988.7 1085.4h5.8v5.8h-5.8zM979.5 1091.5h5.8v5.8h-5.8zM967.3 1051.9h5.8v5.8h-5.8zM961.3 1097.6h5.8v5.8h-5.8zM991.7 1054.9h5.8v5.8h-5.8zM958.2 1054.9h5.8v5.8h-5.8z" fill="#0ffff0"/>
<path d="M997.8 1061.0h5.8v5.8h-5.8zM939.9 1091.5h5.8v5.8h-5.8zM936.8 1085.4h5.8v5.8h-5.8zM982.6 1051.9h5.8v5.8h-5.8zM997.8 1073.2h5.8v5.8h-5.8zM936.8 1079.3h5.8v5.8h-5.8zM994.8 1058.0h5.8v5.8h-5.8zM970.4 1051.9h5.8v5.8h-5.8zM936.8 1082.4h5.8v5.8h-5.8zM979.5 1051.9h5.8v5.8h-5.8zM942.9 1067.1h5.8v5.8h-5.8zM949.0 1061.0h5.8v5.8h-5.8zM997.8 1064.1h5.8v5.8h-5.8zM973.4 1051.9h5.8v5.8h-5.8zM976.5 1051.9h5.8v5.8h-5.8zM997.8 1070.2h5.8v5.8h-5.8z" fill="#23ffdc"/>
<path d="M946.0 1064.1h5.8v5.8h-5.8zM997.8 1067.1h5.8v5.8h-5.8zM988.7 1054.9h5.8v5.8h-5.8zM970.4 1094.6h5.8v5.8h-5.8zM982.6 1088.5h5.8v5.8h-5.8zM994.8 1076.2h5.8v5.8h-5.8zM939.9 1073.2h5.8v5.8h-5.8zM946.0 1094.6h5.8v5.8h-5.8zM961.3 1054.9h5.8v5.8h-5.8z" fill="#37ffc8"/>
<path d="M994.8 1061.0h5.8v5.8h-5.8zM976.5 1091.5h5.8v5.8h-5.8zM955.1 1058.0h5.8v5.8h-5.8zM991.7 1058.0h5.8v5.8h-5.8zM939.9 1088.5h5.8v5.8h-5.8zM991.7 1079.3h5.8v5.8h-5.8zM985.6 1085.4h5.8v5.8h-5.8zM985.6 1054.9h5.8v5.8h-5.8zM988.7 1082.4h5.8v5.8h-5.8zM942.9 1091.5h5.8v5.8h-5.8zM994.8 1073.2h5.8v5.8h-5.8z" fill="#4bffb4"/>
<path d="M967.3 1094.6h5.8v5.8h-5.8zM994.8 1064.1h5.8v5.8h-5.8zM939.9 1076.2h5.8v5.8h-5.8zM949.0 1094.6h5.8v5.8h-5.8zM964.3 1054.9h5.8v5.8h-5.8zM942.9 1070.2h5.8v5.8h-5.8zM994.8 1070.2h5.8v5.8h-5.8zM994.8 1067.1h5.8v5.8h-5.8zM982.6 1054.9h5.8v5.8h-5.8zM939.9 1085.4h5.8v5.8h-5.8zM952.1 1061.0h5.8v5.8h-5.8z" fill="#5fffa0"/>
<path d="M988.7 1058.0h5.8v5.8h-5.8zM991.7 1061.0h5.8v5.8h-5.8zM964.3 1094.6h5.8v5.8h-5.8zM979.5 1088.5h5.8v5.8h-5.8zM939.9 1079.3h5.8v5.8h-5.8zM973.4 1091.5h5.8v5.8h-5.8zM946.0 1067.1h5.8v5.8h-5.8zM939.9 1082.4h5.8v5.8h-5.8zM991.7 1076.2h5.8v5.8h-5.8zM967.3 1054.9h5.8v5.8h-5.8zM949.0 1064.1h5.8v5.8h-5.8zM958.2 1058.0h5.8v5.8h-5.8zM952.1 1094.6h5.8v5.8h-5.8zM979.5 1054.9h5.8v5.8h-5.8z" fill="#73ff8c"/>
<path d="M961.3 1094.6h5.8v5.8h-5.8zM970.4 1054.9h5.8v5.8h-5.8zM976.5 1054.9h5.8v5.8h-5.8zM955.1 1094.6h5.8v5.8h-5.8zM946.0 1091.5h5.8v5.8h-5.8zM973.4 1054.9h5.8v5.8h-5.8zM942.9 1088.5h5.8v5.8h-5.8zM982.6 1085.4h5.8v5.8h-5.8zM958.2 1094.6h5.8v5.8h-5.8zM988.7 1079.3h5.8v5.8h-5.8zM991.7 1064.1h5.8v5.8h-5.8z" fill="#87ff78"/>
<path d="M985.6 1058.0h5.8v5.8h-5.8zM991.7 1073.2h5.8v5.8h-5.8zM942.9 1073.2h5.8v5.8h-5.8zM985.6 1082.4h5.8v5.8h-5.8zM988.7 1061.0h5.8v5.8h-5.8zM991.7 1067.1h5.8v5.8h-5.8zM991.7 1070.2h5.8v5.8h-5.8zM970.4 1091.5h5.8v5.8h-5.8z" fill="#9cff63"/>
<path d="M961.3 1058.0h5.8v5.8h-5.8zM955.1 1061.0h5.8v5.8h-5.8zM976.5 1088.5h5.8v5.8h-5.8zM982.6 1058.0h5.8v5.8h-5.8zM942.9 1085.4h5.8v5.8h-5.8z" fill="#b0ff4f"/>
<path d="M946.0 1070.2h5.8v5.8h-5.8zM949.0 1091.5h5.8v5.8h-5.8zM942.9 1076.2h5.8v5.8h-5.8zM988.7 1076.2h5.8v5.8h-5.8zM952.1 1064.1h5.8v5.8h-5.8zM988.7 1064.1h5.8v5.8h-5.8zM949.0 1067.1h5.8v5.8h-5.8zM967.3 1091.5h5.8v5.8h-5.8zM964.3 1058.0h5.8v5.8h-5.8z" fill="#c4ff3b"/>
<path d="M985.6 1061.0h5.8v5.8h-5.8zM942.9 1082.4h5.8v5.8h-5.8zM942.9 1079.3h5.8v5.8h-5.8zM979.5 1058.0h5.8v5.8h-5.8zM979.5 1085.4h5.8v5.8h-5.8zM946.0 1088.5h5.8v5.8h-5.8zM985.6 1079.3h5.8v5.8h-5.8zM988.7 1073.2h5.8v5.8h-5.8zM982.6 1082.4h5.8v5.8h-5.8zM988.7 1067.1h5.8v5.8h-5.8zM952.1 1091.5h5.8v5.8h-5.8z" fill="#d8ff27"/>
<path d="M967.3 1058.0h5.8v5.8h-5.8zM958.2 1061.0h5.8v5.8h-5.8zM976.5 1058.0h5.8v5.8h-5.8zM973.4 1088.5h5.8v5.8h-5.8zM988.7 1070.2h5.8v5.8h-5.8zM964.3 1091.5h5.8v5.8h-5.8zM970.4 1058.0h5.8v5.8h-5.8zM973.4 1058.0h5.8v5.8h-5.8zM946.0 1073.2h5.8v5.8h-5.8z" fill="#ecff13"/>
<path d="M955.1 1091.5h5.8v5.8h-5.8zM982.6 1061.0h5.8v5.8h-5.8zM961.3 1091.5h5.8v5.8h-5.8zM985.6 1064.1h5.8v5.8h-5.8zM958.2 1091.5h5.8v5.8h-5.8zM946.0 1085.4h5.8v5.8h-5.8zM985.6 1076.2h5.8v5.8h-5.8z" fill="#fffe00"/>
<path d="M955.1 1064.1h5.8v5.8h-5.8zM949.0 1088.5h5.8v5.8h-5.8zM976.5 1085.4h5.8v5.8h-5.8zM961.3 1061.0h5.8v5.8h-5.8zM949.0 1070.2h5.8v5.8h-5.8zM970.4 1088.5h5.8v5.8h-5.8zM946.0 1076.2h5.8v5.8h-5.8zM952.1 1067.1h5.8v5.8h-5.8z" fill="#ffea00"/>
<path d="M985.6 1067.1h5.8v5.8h-5.8zM979.5 1061.0h5.8v5.8h-5.8zM982.6 1079.3h5.8v5.8h-5.8zM985.6 1073.2h5.8v5.8h-5.8zM946.0 1082.4h5.8v5.8h-5.8zM979.5 1082.4h5.8v5.8h-5.8zM985.6 1070.2h5.8v5.8h-5.8zM946.0 1079.3h5.8v5.8h-5.8z" fill="#ffd600"/>
<path d="M982.6 1064.1h5.8v5.8h-5.8zM964.3 1061.0h5.8v5.8h-5.8zM976.5 1061.0h5.8v5.8h-5.8zM952.1 1088.5h5.8v5.8h-5.8zM967.3 1088.5h5.8v5.8h-5.8z" fill="#ffc200"/>
<path d="M958.2 1064.1h5.8v5.8h-5.8zM967.3 1061.0h5.8v5.8h-5.8zM949.0 1085.4h5.8v5.8h-5.8zM973.4 1061.0h5.8v5.8h-5.8zM949.0 1073.2h5.8v5.8h-5.8zM973.4 1085.4h5.8v5.8h-5.8zM982.6 1076.2h5.8v5.8h-5.8zM970.4 1061.0h5.8v5.8h-5.8z" fill="#ffae00"/>
<path d="M982.6 1067.1h5.8v5.8h-5.8zM955.1 1088.5h5.8v5.8h-5.8zM964.3 1088.5h5.8v5.8h-5.8zM979.5 1064.1h5.8v5.8h-5.8zM955.1 1067.1h5.8v5.8h-5.8zM952.1 1070.2h5.8v5.8h-5.8zM976.5 1082.4h5.8v5.8h-5.8zM982.6 1073.2h5.8v5.8h-5.8z" fill="#ff9a00"/>
<path d="M979.5 1079.3h5.8v5.8h-5.8zM982.6 1070.2h5.8v5.8h-5.8zM958.2 1088.5h5.8v5.8h-5.8zM961.3 1088.5h5.8v5.8h-5.8zM949.0 1076.2h5.8v5.8h-5.8zM949.0 1082.4h5.8v5.8h-5.8zM961.3 1064.1h5.8v5.8h-5.8z" fill="#ff8600"/>
<path d="M970.4 1085.4h5.8v5.8h-5.8zM949.0 1079.3h5.8v5.8h-5.8zM976.5 1064.1h5.8v5.8h-5.8zM952.1 1085.4h5.8v5.8h-5.8zM979.5 1067.1h5.8v5.8h-5.8z" fill="#ff7100"/>
<path d="M979.5 1076.2h5.8v5.8h-5.8zM964.3 1064.1h5.8v5.8h-5.8zM973.4 1064.1h5.8v5.8h-5.8zM952.1 1073.2h5.8v5.8h-5.8z" fill="#ff5d00"/>
<path d="M958.2 1067.1h5.8v5.8h-5.8zM973.4 1082.4h5.8v5.8h-5.8zM967.3 1085.4h5.8v5.8h-5.8zM979.5 1070.2h5.8v5.8h-5.8zM967.3 1064.1h5.8v5.8h-5.8zM970.4 1064.1h5.8v5.8h-5.8zM979.5 1073.2h5.8v5.8h-5.8zM976.5 1079.3h5.8v5.8h-5.8zM955.1 1085.4h5.8v5.8h-5.8zM955.1 1070.2h5.8v5.8h-5.8z" fill="#ff4900"/>
<path d="M952.1 1082.4h5.8v5.8h-5.8zM976.5 1067.1h5.8v5.8h-5.8zM952.1 1076.2h5.8v5.8h-5.8zM964.3 1085.4h5.8v5.8h-5.8z" fill="#ff3500"/>
<path d="M958.2 1085.4h5.8v5.8h-5.8zM952.1 1079.3h5.8v5.8h-5.8zM961.3 1085.4h5.8v5.8h-5.8zM961.3 1067.1h5.8v5.8h-5.8zM970.4 1082.4h5.8v5.8h-5.8zM976.5 1076.2h5.8v5.8h-5.8z" fill="#ff2100"/>
<path d="M976.5 1070.2h5.8v5.8h-5.8zM973.4 1067.1h5.8v5.8h-5.8zM955.1 1073.2h5.8v5.8h-5.8zM973.4 1079.3h5.8v5.8h-5.8zM976.5 1073.2h5.8v5.8h-5.8zM955.1 1082.4h5.8v5.8h-5.8z" fill="#ff0d00"/>
<path d="M958.2 1070.2h5.8v5.8h-5.8zM964.3 1067.1h5.8v5.8h-5.8zM970.4 1067.1h5.8v5.8h-5.8zM967.3 1067.1h5.8v5.8h-5.8zM967.3 1082.4h5.8v5.8h-5.8z" fill="#f80000"/>
<path d="M955.1 1076.2h5.8v5.8h-5.8zM955.1 1079.3h5.8v5.8h-5.8zM973.4 1070.2h5.8v5.8h-5.8zM958.2 1082.4h5.8v5.8h-5.8z" fill="#e40000"/>
<path d="M973.4 1076.2h5.8v5.8h-5.8zM964.3 1082.4h5.8v5.8h-5.8zM961.3 1070.2h5.8v5.8h-5.8zM970.4 1079.3h5.8v5.8h-5.8zM973.4 1073.2h5.8v5.8h-5.8zM961.3 1082.4h5.8v5.8h-5.8zM958.2 1073.2h5.8v5.8h-5.8z" fill="#d00000"/>
<path d="M970.4 1070.2h5.8v5.8h-5.8zM964.3 1070.2h5.8v5.8h-5.8zM958.2 1079.3h5.8v5.8h-5.8zM967.3 1070.2h5.8v5.8h-5.8z" fill="#bc0000"/>
<path d="M958.2 1076.2h5.8v5.8h-5.8zM967.3 1079.3h5.8v5.8h-5.8zM970.4 1076.2h5.8v5.8h-5.8zM970.4 1073.2h5.8v5.8h-5.8zM961.3 1073.2h5.8v5.8h-5.8z" fill="#a80000"/>
<path d="M961.3 1079.3h5.8v5.8h-5.8zM964.3 1079.3h5.8v5.8h-5.8zM967.3 1073.2h5.8v5.8h-5.8zM964.3 1073.2h5.8v5.8h-5.8zM967.3 1076.2h5.8v5.8h-5.8zM961.3 1076.2h5.8v5.8h-5.8z" fill="#940000"/>
<path d="M964.3 1076.2h5.8v5.8h-5.8z" fill="#800000"/>
</g>
<line x1="918.4" y1="1124.9" x2="1519.9" y2="659.7" stroke="#ee2d38" stroke-width="1.9"/>
<path d="M1038.7 1124.9v-6.3M1038.7 659.7v6.3M918.4 1033.2h6.3M1519.9 1033.2h-6.3M1158.5 1124.9v-6.3M1158.5 659.7v6.3M918.4 938.2h6.3M1519.9 938.2h-6.3M1280.3 1124.9v-6.3M1280.3 659.7v6.3M918.4 846.2h6.3M1519.9 846.2h-6.3M1400.0 1124.9v-6.3M1400.0 659.7v6.3M918.4 751.6h6.3M1519.9 751.6h-6.3" stroke="#3d3d3d" stroke-width="1.9" fill="none"/>
<rect x="918.40" y="659.70" width="601.50" height="465.20" stroke="#3d3d3d" stroke-width="2.6" fill="none"/>
<g fill="#404040">
<text transform="translate(918.4 1164.2) scale(1 1.12)" font-size="27.7" text-anchor="middle">0</text>
<text transform="translate(908.3 1136.5) scale(1 1.12)" font-size="27.7" text-anchor="end">0</text>
<text transform="translate(1038.7 1164.2) scale(1 1.12)" font-size="27.7" text-anchor="middle">0.002</text>
<text transform="translate(908.3 1044.8) scale(1 1.12)" font-size="27.7" text-anchor="end">0.002</text>
<text transform="translate(1158.5 1164.2) scale(1 1.12)" font-size="27.7" text-anchor="middle">0.004</text>
<text transform="translate(908.3 949.8) scale(1 1.12)" font-size="27.7" text-anchor="end">0.004</text>
<text transform="translate(1280.3 1164.2) scale(1 1.12)" font-size="27.7" text-anchor="middle">0.006</text>
<text transform="translate(908.3 857.8) scale(1 1.12)" font-size="27.7" text-anchor="end">0.006</text>
<text transform="translate(1400.0 1164.2) scale(1 1.12)" font-size="27.7" text-anchor="middle">0.008</text>
<text transform="translate(908.3 763.2) scale(1 1.12)" font-size="27.7" text-anchor="end">0.008</text>
<text transform="translate(1519.9 1164.2) scale(1 1.12)" font-size="27.7" text-anchor="middle">0.01</text>
<text transform="translate(908.3 671.3) scale(1 1.12)" font-size="27.7" text-anchor="end">0.01</text>
<text transform="translate(1219.5 1213.8) scale(1 1.12)" font-size="30.3" text-anchor="middle">BGC-Argo bbp532 (m<tspan dy="-12.5" dx="1" font-size="22">-1</tspan><tspan dy="12.5" dx="3.5">)</tspan></text>
<text transform="translate(826.9 891.0) rotate(-90) scale(1 1.12)" font-size="30.3" text-anchor="middle">CALIPSO bbp532 (m<tspan dy="-12.5" dx="1" font-size="22">-1</tspan><tspan dy="12.5" dx="3.5">)</tspan></text>
</g>
<g fill="#2a2a2a" stroke="#2a2a2a" stroke-width="0.3">
<text transform="translate(947.7 696.0) scale(1 1.1)" font-size="27.6">N = 4217</text>
<text transform="translate(947.7 738.8) scale(1 1.1)" font-size="27.6">RMSE = 0.00067701 m<tspan dy="-10.5" dx="1.5" font-size="22">-1</tspan></text>
<text transform="translate(947.7 781.8) scale(1 1.1)" font-size="27.6">R<tspan dy="-10.5" dx="1.5" font-size="22">2</tspan><tspan dy="10.5" dx="1.5"> = 0.30141</tspan></text>
</g>
<text transform="translate(791.7 630.1)" font-size="28.5" fill="#000" font-weight="bold">D</text>
</g>
<g id="colorbar">
<defs><linearGradient id="jet" x1="0" y1="0" x2="0" y2="1"><stop offset="0.0000" stop-color="#800000"/><stop offset="0.0156" stop-color="#8f0000"/><stop offset="0.0312" stop-color="#9f0000"/><stop offset="0.0469" stop-color="#af0000"/><stop offset="0.0625" stop-color="#be0000"/><stop offset="0.0781" stop-color="#ce0000"/><stop offset="0.0938" stop-color="#de0000"/><stop offset="0.1094" stop-color="#ed0000"/><stop offset="0.1250" stop-color="#fd0000"/><stop offset="0.1406" stop-color="#ff0e00"/><stop offset="0.1562" stop-color="#ff1d00"/><stop offset="0.1719" stop-color="#ff2d00"/><stop offset="0.1875" stop-color="#ff3d00"/><stop offset="0.2031" stop-color="#ff4c00"/><stop offset="0.2188" stop-color="#ff5c00"/><stop offset="0.2344" stop-color="#ff6c00"/><stop offset="0.2500" stop-color="#ff7c00"/><stop offset="0.2656" stop-color="#ff8b00"/><stop offset="0.2812" stop-color="#ff9b00"/><stop offset="0.2969" stop-color="#ffab00"/><stop offset="0.3125" stop-color="#ffba00"/><stop offset="0.3281" stop-color="#ffca00"/><stop offset="0.3438" stop-color="#ffda00"/><stop offset="0.3594" stop-color="#ffe900"/><stop offset="0.3750" stop-color="#fff900"/><stop offset="0.3906" stop-color="#f5ff0a"/><stop offset="0.4062" stop-color="#e6ff19"/><stop offset="0.4219" stop-color="#d6ff29"/><stop offset="0.4375" stop-color="#c6ff39"/><stop offset="0.4531" stop-color="#b7ff48"/><stop offset="0.4688" stop-color="#a7ff58"/><stop offset="0.4844" stop-color="#97ff68"/><stop offset="0.5000" stop-color="#87ff78"/><stop offset="0.5156" stop-color="#78ff87"/><stop offset="0.5312" stop-color="#68ff97"/><stop offset="0.5469" stop-color="#58ffa7"/><stop offset="0.5625" stop-color="#49ffb6"/><stop offset="0.5781" stop-color="#39ffc6"/><stop offset="0.5938" stop-color="#29ffd6"/><stop offset="0.6094" stop-color="#1affe5"/><stop offset="0.6250" stop-color="#0afff5"/><stop offset="0.6406" stop-color="#00f9ff"/><stop offset="0.6562" stop-color="#00eaff"/><stop offset="0.6719" stop-color="#00daff"/><stop offset="0.6875" stop-color="#00caff"/><stop offset="0.7031" stop-color="#00bbff"/><stop offset="0.7188" stop-color="#00abff"/><stop offset="0.7344" stop-color="#009bff"/><stop offset="0.7500" stop-color="#008bff"/><stop offset="0.7656" stop-color="#007cff"/><stop offset="0.7812" stop-color="#006cff"/><stop offset="0.7969" stop-color="#005cff"/><stop offset="0.8125" stop-color="#004dff"/><stop offset="0.8281" stop-color="#003dff"/><stop offset="0.8438" stop-color="#002dff"/><stop offset="0.8594" stop-color="#001eff"/><stop offset="0.8750" stop-color="#000eff"/><stop offset="0.8906" stop-color="#0000fd"/><stop offset="0.9062" stop-color="#0000ee"/><stop offset="0.9219" stop-color="#0000de"/><stop offset="0.9375" stop-color="#0000ce"/><stop offset="0.9531" stop-color="#0000bf"/><stop offset="0.9688" stop-color="#0000af"/><stop offset="0.9844" stop-color="#00009f"/><stop offset="1.0000" stop-color="#00008f"/></linearGradient></defs>
<rect x="1571.4" y="63.5" width="26.2" height="1004.7" fill="url(#jet)" stroke="#1c1c1c" stroke-opacity="0.55" stroke-width="1.2"/>
<g font-family='"Liberation Serif", serif' fill="#262626">
<text transform="translate(1607.0 1078.6) scale(1 1.12)" font-size="26.5">0</text>
<text transform="translate(1607.0 978.1) scale(1 1.12)" font-size="26.5">0.1</text>
<text transform="translate(1607.0 877.7) scale(1 1.12)" font-size="26.5">0.2</text>
<text transform="translate(1607.0 777.2) scale(1 1.12)" font-size="26.5">0.3</text>
<text transform="translate(1607.0 676.7) scale(1 1.12)" font-size="26.5">0.4</text>
<text transform="translate(1607.0 576.2) scale(1 1.12)" font-size="26.5">0.5</text>
<text transform="translate(1607.0 475.8) scale(1 1.12)" font-size="26.5">0.6</text>
<text transform="translate(1607.0 375.3) scale(1 1.12)" font-size="26.5">0.7</text>
<text transform="translate(1607.0 274.8) scale(1 1.12)" font-size="26.5">0.8</text>
<text transform="translate(1607.0 174.4) scale(1 1.12)" font-size="26.5">0.9</text>
<text transform="translate(1607.0 73.9) scale(1 1.12)" font-size="26.5">1</text>
</g>
<path d="M1597.6 967.7h-7M1597.6 867.3h-7M1597.6 766.8h-7M1597.6 666.3h-7M1597.6 565.9h-7M1597.6 465.4h-7M1597.6 364.9h-7M1597.6 264.4h-7M1597.6 164.0h-7" stroke="#1c1c1c" stroke-opacity="0.7" stroke-width="1.2" fill="none"/>
</g>
</svg>
</body>
</html>
